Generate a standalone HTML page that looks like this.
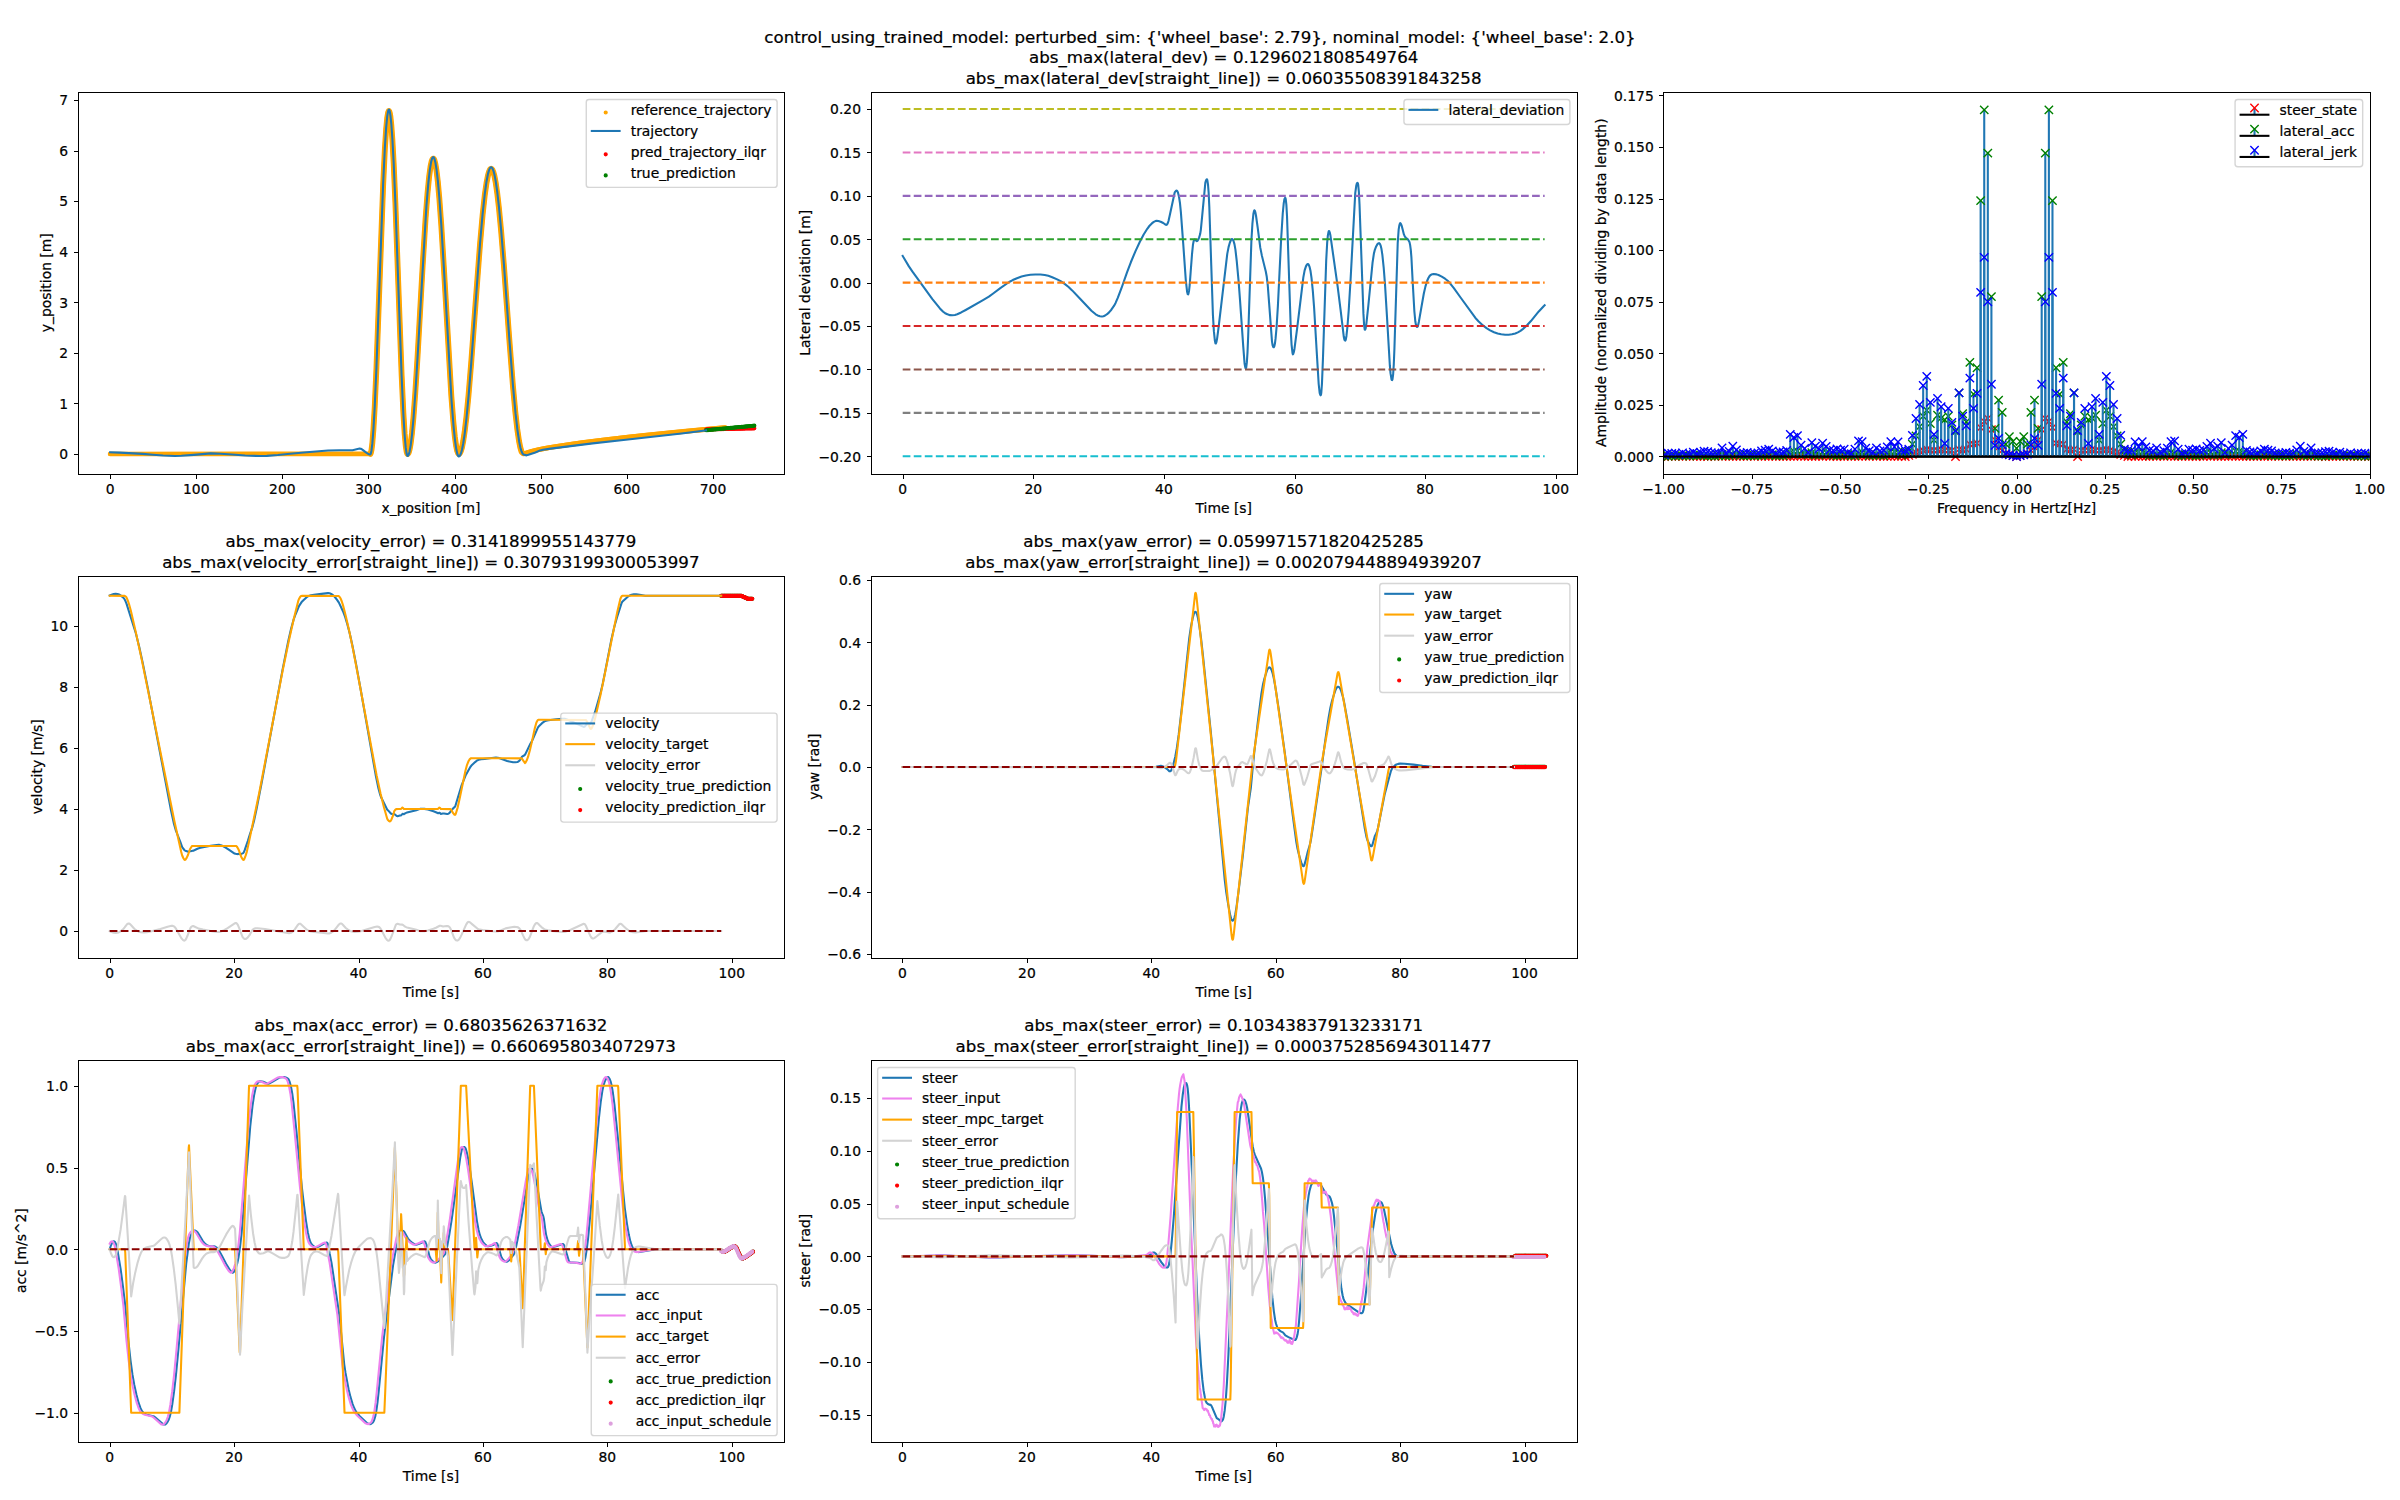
<!DOCTYPE html>
<html lang="en"><head><meta charset="utf-8"><title>control_using_trained_model</title>
<style>html,body{margin:0;padding:0;background:#fff}body{width:2400px;height:1500px;overflow:hidden;font-family:"DejaVu Sans","Liberation Sans",sans-serif}svg{display:block}</style></head>
<body>
<svg width="2400" height="1500" viewBox="0 0 1728 1080">
<defs>
<style>*{stroke-linejoin:round;stroke-linecap:butt}
text{stroke:#000;stroke-width:0.16px;stroke-linejoin:round}
.c0{fill:#ffffff}
.c1{fill:none;stroke:#ffa500;stroke-width:3.4;stroke-linecap:round}
.c2{fill:none;stroke:#ffa500;stroke-width:3.5;stroke-linecap:round}
.c3{fill:none;stroke:#ffa500;stroke-width:4.2;stroke-linecap:round}
.c4{fill:#ffa500;stroke:#ffa500}
.c5{fill:#ff0000;stroke:#ff0000}
.c6{fill:#008000;stroke:#008000}
.c7{stroke:#000000;stroke-width:0.72; shape-rendering: crispEdges}
.c8{font-size:10px;font-family:'DejaVu Sans', sans-serif;text-anchor:middle}
.c9{font-size:10px;font-family:'DejaVu Sans', sans-serif;text-anchor:end}
.c10{fill:none;stroke:#1f77b4;stroke-width:1.5;stroke-linecap:square}
.c11{fill:none;stroke:#000000;stroke-width:0.72;stroke-linejoin:miter;stroke-linecap:square; shape-rendering: crispEdges}
.c12{fill:#ffffff;opacity:0.8;stroke:#cccccc;stroke-linejoin:miter}
.c13{font-size:10px;font-family:'DejaVu Sans', sans-serif;text-anchor:start}
.c14{fill:none;stroke-dasharray:5.55,2.4;stroke-dashoffset:0;stroke:#ff7f0e;stroke-width:1.5}
.c15{fill:none;stroke-dasharray:5.55,2.4;stroke-dashoffset:0;stroke:#2ca02c;stroke-width:1.5}
.c16{fill:none;stroke-dasharray:5.55,2.4;stroke-dashoffset:0;stroke:#d62728;stroke-width:1.5}
.c17{fill:none;stroke-dasharray:5.55,2.4;stroke-dashoffset:0;stroke:#9467bd;stroke-width:1.5}
.c18{fill:none;stroke-dasharray:5.55,2.4;stroke-dashoffset:0;stroke:#8c564b;stroke-width:1.5}
.c19{fill:none;stroke-dasharray:5.55,2.4;stroke-dashoffset:0;stroke:#e377c2;stroke-width:1.5}
.c20{fill:none;stroke-dasharray:5.55,2.4;stroke-dashoffset:0;stroke:#7f7f7f;stroke-width:1.5}
.c21{fill:none;stroke-dasharray:5.55,2.4;stroke-dashoffset:0;stroke:#bcbd22;stroke-width:1.5}
.c22{fill:none;stroke-dasharray:5.55,2.4;stroke-dashoffset:0;stroke:#17becf;stroke-width:1.5}
.c23{font-size:12px;font-family:'DejaVu Sans', sans-serif}
.c24{fill:none;stroke:#1f77b4;stroke-width:1.5}
.c25{fill:none;stroke:#000000;stroke-width:1.5;stroke-linecap:square}
.c26{fill:#0000ff;stroke:#0000ff}
.c27{fill:none;stroke:#ffa500;stroke-width:1.5;stroke-linecap:square}
.c28{fill:none;stroke:#d3d3d3;stroke-width:1.5;stroke-linecap:square}
.c29{fill:none;stroke-dasharray:5.55,2.4;stroke-dashoffset:0;stroke:#8b0000;stroke-width:1.5}
.c30{fill:#dda0dd;stroke:#dda0dd}
.c31{fill:none;stroke:#ee82ee;stroke-width:1.5;stroke-linecap:square}
.c32{font-size:12px;font-family:'DejaVu Sans', sans-serif;text-anchor:middle}</style>
</defs>
<g id="figure_1">
<g id="patch_1">
<path d="M 0 1080 L 1728 1080 L 1728 0 L 0 0 z" class="c0"/>
</g>
<g id="axes_1">
<g id="patch_2">
<path d="M 56.09 341.14 L 564.51 341.14 L 564.51 66 L 56.09 66 z" class="c0"/>
</g>
<g id="line2d_1">
<path d="M 79.28 326.88 L 266.7 326.8 L 267.01 326.16 L 267.48 323.98 L 268.1 318.88 L 268.87 309.13 L 269.8 292.91 L 271.04 264.89 L 272.9 214.13 L 275.85 133.63 L 277.09 107.46 L 278.02 92.98 L 278.8 84.85 L 279.42 81.13 L 279.88 80.02 L 280.04 79.97 L 280.35 80.36 L 280.66 81.39 L 281.12 84.13 L 281.74 89.97 L 282.52 100.59 L 283.45 117.72 L 284.69 146.66 L 286.7 202.53 L 289.18 270.24 L 290.42 297.1 L 291.35 312.23 L 292.13 320.95 L 292.75 325.18 L 293.21 326.68 L 293.52 326.88 L 293.83 326.67 L 294.3 325.8 L 294.92 323.62 L 295.69 319.29 L 296.62 311.83 L 297.71 300.25 L 298.95 283.73 L 300.65 256.59 L 304.37 190.36 L 306.39 157.81 L 307.79 139.36 L 309.03 126.76 L 309.96 120.03 L 310.73 116.33 L 311.35 114.68 L 311.82 114.21 L 312.13 114.27 L 312.44 114.63 L 312.9 115.71 L 313.52 118.18 L 314.3 122.87 L 315.23 130.72 L 316.31 142.71 L 317.71 161.96 L 319.57 192.52 L 324.99 285.52 L 326.39 303.51 L 327.47 314.32 L 328.4 321.05 L 329.18 324.75 L 329.8 326.4 L 330.26 326.87 L 330.73 326.75 L 331.19 326.23 L 331.81 324.9 L 332.59 322.25 L 333.52 317.65 L 334.61 310.43 L 335.85 299.92 L 337.4 283.85 L 339.26 261.19 L 342.36 219.02 L 345.61 175.84 L 347.47 154.83 L 349.02 140.59 L 350.26 131.81 L 351.35 126.25 L 352.12 123.55 L 352.74 122.19 L 353.21 121.63 L 353.67 121.49 L 354.14 121.74 L 354.6 122.4 L 355.22 123.91 L 356 126.78 L 356.93 131.63 L 358.01 139.12 L 359.25 149.91 L 360.8 166.28 L 362.82 191.22 L 366.7 244.27 L 369.33 278.12 L 371.04 296.65 L 372.43 309 L 373.67 317.47 L 374.6 322.12 L 375.38 324.81 L 376 326.18 L 376.46 326.73 L 376.93 326.86 L 381.27 325.41 L 385.76 324.21 L 391.5 322.99 L 400.03 321.51 L 413.2 319.54 L 431.03 317.22 L 452.12 314.78 L 480.64 311.76 L 510.1 308.95 L 522.03 307.96 L 522.03 307.96" clip-path="url(#p736fa068e5)" class="c1"/>
</g>
<g id="line2d_2">
<path d="M 378.32 326.36 L 382.66 325 L 387.93 323.72 L 394.45 322.45 L 404.68 320.78 L 418.94 318.76 L 438.32 316.34 L 465.29 313.34 L 493.66 310.48 L 517.38 308.34 L 522.03 307.96 L 522.03 307.96" clip-path="url(#p736fa068e5)" class="c2"/>
</g>
<g id="line2d_3">
<path d="M 266.7 326.8 L 267.01 326.16 L 267.48 323.98 L 268.1 318.88 L 268.87 309.13 L 269.8 292.91 L 271.04 264.89 L 272.9 214.13 L 275.85 133.63 L 277.09 107.46 L 278.02 92.98 L 278.8 84.85 L 279.42 81.13 L 279.88 80.02 L 280.04 79.97 L 280.35 80.36 L 280.66 81.39 L 281.12 84.13 L 281.74 89.97 L 282.52 100.59 L 283.45 117.72 L 284.69 146.66 L 286.7 202.53 L 289.18 270.24 L 290.42 297.1 L 291.35 312.23 L 292.13 320.95 L 292.75 325.18 L 293.21 326.68 L 293.52 326.88 L 293.83 326.67 L 294.3 325.8 L 294.92 323.62 L 295.69 319.29 L 296.62 311.83 L 297.71 300.25 L 298.95 283.73 L 300.65 256.59 L 304.37 190.36 L 306.39 157.81 L 307.79 139.36 L 309.03 126.76 L 309.96 120.03 L 310.73 116.33 L 311.35 114.68 L 311.82 114.21 L 312.13 114.27 L 312.44 114.63 L 312.9 115.71 L 313.52 118.18 L 314.3 122.87 L 315.23 130.72 L 316.31 142.71 L 317.71 161.96 L 319.57 192.52 L 324.99 285.52 L 326.39 303.51 L 327.47 314.32 L 328.4 321.05 L 329.18 324.75 L 329.8 326.4 L 330.26 326.87 L 330.73 326.75 L 331.19 326.23 L 331.81 324.9 L 332.59 322.25 L 333.52 317.65 L 334.61 310.43 L 335.85 299.92 L 337.4 283.85 L 339.26 261.19 L 342.36 219.02 L 345.61 175.84 L 347.47 154.83 L 349.02 140.59 L 350.26 131.81 L 351.35 126.25 L 352.12 123.55 L 352.74 122.19 L 353.21 121.63 L 353.67 121.49 L 354.14 121.74 L 354.6 122.4 L 355.22 123.91 L 356 126.78 L 356.93 131.63 L 358.01 139.12 L 359.25 149.91 L 360.8 166.28 L 362.82 191.22 L 366.7 244.27 L 369.33 278.12 L 371.04 296.65 L 372.43 309 L 373.67 317.47 L 374.6 322.12 L 375.38 324.81 L 375.53 325.22 L 375.53 325.22" clip-path="url(#p736fa068e5)" class="c3"/>
</g>
<g id="PathCollection_1">
<g clip-path="url(#p736fa068e5)">
<circle cx="79.28" cy="326.88" r="1" class="c4"/>
</g>
</g>
<g id="PathCollection_2">
<g clip-path="url(#p736fa068e5)">
<circle cx="508.39" cy="309.22" r="1" class="c5"/>
<circle cx="509.1" cy="309.2" r="1" class="c5"/>
<circle cx="509.81" cy="309.19" r="1" class="c5"/>
<circle cx="510.52" cy="309.17" r="1" class="c5"/>
<circle cx="511.23" cy="309.15" r="1" class="c5"/>
<circle cx="511.93" cy="309.14" r="1" class="c5"/>
<circle cx="512.64" cy="309.12" r="1" class="c5"/>
<circle cx="513.35" cy="309.1" r="1" class="c5"/>
<circle cx="514.06" cy="309.09" r="1" class="c5"/>
<circle cx="514.77" cy="309.07" r="1" class="c5"/>
<circle cx="515.48" cy="309.05" r="1" class="c5"/>
<circle cx="516.19" cy="309.04" r="1" class="c5"/>
<circle cx="516.89" cy="309.02" r="1" class="c5"/>
<circle cx="517.6" cy="309" r="1" class="c5"/>
<circle cx="518.31" cy="308.99" r="1" class="c5"/>
<circle cx="519.02" cy="308.97" r="1" class="c5"/>
<circle cx="519.73" cy="308.95" r="1" class="c5"/>
<circle cx="520.44" cy="308.94" r="1" class="c5"/>
<circle cx="521.15" cy="308.92" r="1" class="c5"/>
<circle cx="521.86" cy="308.9" r="1" class="c5"/>
<circle cx="522.56" cy="308.89" r="1" class="c5"/>
<circle cx="523.27" cy="308.87" r="1" class="c5"/>
<circle cx="523.98" cy="308.85" r="1" class="c5"/>
<circle cx="524.69" cy="308.84" r="1" class="c5"/>
<circle cx="525.4" cy="308.82" r="1" class="c5"/>
<circle cx="526.11" cy="308.8" r="1" class="c5"/>
<circle cx="526.82" cy="308.79" r="1" class="c5"/>
<circle cx="527.53" cy="308.77" r="1" class="c5"/>
<circle cx="528.23" cy="308.75" r="1" class="c5"/>
<circle cx="528.94" cy="308.74" r="1" class="c5"/>
<circle cx="529.65" cy="308.72" r="1" class="c5"/>
<circle cx="530.36" cy="308.7" r="1" class="c5"/>
<circle cx="531.07" cy="308.69" r="1" class="c5"/>
<circle cx="531.78" cy="308.67" r="1" class="c5"/>
<circle cx="532.49" cy="308.65" r="1" class="c5"/>
<circle cx="533.19" cy="308.64" r="1" class="c5"/>
<circle cx="533.9" cy="308.62" r="1" class="c5"/>
<circle cx="534.61" cy="308.6" r="1" class="c5"/>
<circle cx="535.32" cy="308.59" r="1" class="c5"/>
<circle cx="536.03" cy="308.57" r="1" class="c5"/>
<circle cx="536.74" cy="308.55" r="1" class="c5"/>
<circle cx="537.45" cy="308.54" r="1" class="c5"/>
<circle cx="538.16" cy="308.52" r="1" class="c5"/>
<circle cx="538.86" cy="308.5" r="1" class="c5"/>
<circle cx="539.57" cy="308.49" r="1" class="c5"/>
<circle cx="540.28" cy="308.47" r="1" class="c5"/>
<circle cx="540.99" cy="308.45" r="1" class="c5"/>
<circle cx="541.7" cy="308.44" r="1" class="c5"/>
<circle cx="542.41" cy="308.42" r="1" class="c5"/>
<circle cx="543.12" cy="308.4" r="1" class="c5"/>
</g>
</g>
<g id="PathCollection_3">
<g clip-path="url(#p736fa068e5)">
<circle cx="508.39" cy="309.77" r="1" class="c6"/>
<circle cx="509.1" cy="309.7" r="1" class="c6"/>
<circle cx="509.81" cy="309.63" r="1" class="c6"/>
<circle cx="510.52" cy="309.57" r="1" class="c6"/>
<circle cx="511.23" cy="309.5" r="1" class="c6"/>
<circle cx="511.93" cy="309.43" r="1" class="c6"/>
<circle cx="512.64" cy="309.37" r="1" class="c6"/>
<circle cx="513.35" cy="309.3" r="1" class="c6"/>
<circle cx="514.06" cy="309.23" r="1" class="c6"/>
<circle cx="514.77" cy="309.17" r="1" class="c6"/>
<circle cx="515.48" cy="309.1" r="1" class="c6"/>
<circle cx="516.19" cy="309.03" r="1" class="c6"/>
<circle cx="516.89" cy="308.97" r="1" class="c6"/>
<circle cx="517.6" cy="308.9" r="1" class="c6"/>
<circle cx="518.31" cy="308.83" r="1" class="c6"/>
<circle cx="519.02" cy="308.77" r="1" class="c6"/>
<circle cx="519.73" cy="308.7" r="1" class="c6"/>
<circle cx="520.44" cy="308.63" r="1" class="c6"/>
<circle cx="521.15" cy="308.57" r="1" class="c6"/>
<circle cx="521.86" cy="308.5" r="1" class="c6"/>
<circle cx="522.56" cy="308.43" r="1" class="c6"/>
<circle cx="523.27" cy="308.37" r="1" class="c6"/>
<circle cx="523.98" cy="308.3" r="1" class="c6"/>
<circle cx="524.69" cy="308.23" r="1" class="c6"/>
<circle cx="525.4" cy="308.17" r="1" class="c6"/>
<circle cx="526.11" cy="308.1" r="1" class="c6"/>
<circle cx="526.82" cy="308.03" r="1" class="c6"/>
<circle cx="527.53" cy="307.97" r="1" class="c6"/>
<circle cx="528.23" cy="307.9" r="1" class="c6"/>
<circle cx="528.94" cy="307.83" r="1" class="c6"/>
<circle cx="529.65" cy="307.77" r="1" class="c6"/>
<circle cx="530.36" cy="307.7" r="1" class="c6"/>
<circle cx="531.07" cy="307.63" r="1" class="c6"/>
<circle cx="531.78" cy="307.57" r="1" class="c6"/>
<circle cx="532.49" cy="307.5" r="1" class="c6"/>
<circle cx="533.19" cy="307.43" r="1" class="c6"/>
<circle cx="533.9" cy="307.37" r="1" class="c6"/>
<circle cx="534.61" cy="307.3" r="1" class="c6"/>
<circle cx="535.32" cy="307.23" r="1" class="c6"/>
<circle cx="536.03" cy="307.17" r="1" class="c6"/>
<circle cx="536.74" cy="307.1" r="1" class="c6"/>
<circle cx="537.45" cy="307.04" r="1" class="c6"/>
<circle cx="538.16" cy="306.97" r="1" class="c6"/>
<circle cx="538.86" cy="306.9" r="1" class="c6"/>
<circle cx="539.57" cy="306.84" r="1" class="c6"/>
<circle cx="540.28" cy="306.77" r="1" class="c6"/>
<circle cx="540.99" cy="306.7" r="1" class="c6"/>
<circle cx="541.7" cy="306.64" r="1" class="c6"/>
<circle cx="542.41" cy="306.57" r="1" class="c6"/>
<circle cx="543.12" cy="306.5" r="1" class="c6"/>
</g>
</g>
<g id="matplotlib.axis_1">
<g id="xtick_1">
<g id="line2d_4">
<g>
<path d="M 0 0 L 0 3.5" transform="translate(79.560 341.640)" class="c7"/>
</g>
</g>
<g id="text_1">
<text class="c8" x="79.28" y="355.74">0</text>
</g>
</g>
<g id="xtick_2">
<g id="line2d_5">
<g>
<path d="M 0 0 L 0 3.5" transform="translate(141.480 341.640)" class="c7"/>
</g>
</g>
<g id="text_2">
<text class="c8" x="141.29" y="355.74">100</text>
</g>
</g>
<g id="xtick_3">
<g id="line2d_6">
<g>
<path d="M 0 0 L 0 3.5" transform="translate(203.400 341.640)" class="c7"/>
</g>
</g>
<g id="text_3">
<text class="c8" x="203.3" y="355.74">200</text>
</g>
</g>
<g id="xtick_4">
<g id="line2d_7">
<g>
<path d="M 0 0 L 0 3.5" transform="translate(265.320 341.640)" class="c7"/>
</g>
</g>
<g id="text_4">
<text class="c8" x="265.31" y="355.74">300</text>
</g>
</g>
<g id="xtick_5">
<g id="line2d_8">
<g>
<path d="M 0 0 L 0 3.5" transform="translate(327.960 341.640)" class="c7"/>
</g>
</g>
<g id="text_5">
<text class="c8" x="327.32" y="355.74">400</text>
</g>
</g>
<g id="xtick_6">
<g id="line2d_9">
<g>
<path d="M 0 0 L 0 3.5" transform="translate(389.880 341.640)" class="c7"/>
</g>
</g>
<g id="text_6">
<text class="c8" x="389.33" y="355.74">500</text>
</g>
</g>
<g id="xtick_7">
<g id="line2d_10">
<g>
<path d="M 0 0 L 0 3.5" transform="translate(451.800 341.640)" class="c7"/>
</g>
</g>
<g id="text_7">
<text class="c8" x="451.34" y="355.74">600</text>
</g>
</g>
<g id="xtick_8">
<g id="line2d_11">
<g>
<path d="M 0 0 L 0 3.5" transform="translate(513.720 341.640)" class="c7"/>
</g>
</g>
<g id="text_8">
<text class="c8" x="513.35" y="355.74">700</text>
</g>
</g>
<g id="text_9">
<text class="c8" x="310.3" y="369.42">x_position [m]</text>
</g>
</g>
<g id="matplotlib.axis_2">
<g id="ytick_1">
<g id="line2d_12">
<g>
<path d="M 0 0 L -3.5 0" transform="translate(56.520 327.240)" class="c7"/>
</g>
</g>
<g id="text_10">
<text class="c9" x="49.09" y="330.68">0</text>
</g>
</g>
<g id="ytick_2">
<g id="line2d_13">
<g>
<path d="M 0 0 L -3.5 0" transform="translate(56.520 290.520)" class="c7"/>
</g>
</g>
<g id="text_11">
<text class="c9" x="49.09" y="294.26">1</text>
</g>
</g>
<g id="ytick_3">
<g id="line2d_14">
<g>
<path d="M 0 0 L -3.5 0" transform="translate(56.520 254.520)" class="c7"/>
</g>
</g>
<g id="text_12">
<text class="c9" x="49.09" y="257.84">2</text>
</g>
</g>
<g id="ytick_4">
<g id="line2d_15">
<g>
<path d="M 0 0 L -3.5 0" transform="translate(56.520 217.800)" class="c7"/>
</g>
</g>
<g id="text_13">
<text class="c9" x="49.09" y="221.43">3</text>
</g>
</g>
<g id="ytick_5">
<g id="line2d_16">
<g>
<path d="M 0 0 L -3.5 0" transform="translate(56.520 181.800)" class="c7"/>
</g>
</g>
<g id="text_14">
<text class="c9" x="49.09" y="185.01">4</text>
</g>
</g>
<g id="ytick_6">
<g id="line2d_17">
<g>
<path d="M 0 0 L -3.5 0" transform="translate(56.520 145.080)" class="c7"/>
</g>
</g>
<g id="text_15">
<text class="c9" x="49.09" y="148.59">5</text>
</g>
</g>
<g id="ytick_7">
<g id="line2d_18">
<g>
<path d="M 0 0 L -3.5 0" transform="translate(56.520 109.080)" class="c7"/>
</g>
</g>
<g id="text_16">
<text class="c9" x="49.09" y="112.17">6</text>
</g>
</g>
<g id="ytick_8">
<g id="line2d_19">
<g>
<path d="M 0 0 L -3.5 0" transform="translate(56.520 72.360)" class="c7"/>
</g>
</g>
<g id="text_17">
<text class="c9" x="49.09" y="75.75">7</text>
</g>
</g>
<g id="text_18">
<text class="c8" x="36.37" y="203.57" transform="rotate(-90 36.37 203.57)">y_position [m]</text>
</g>
</g>
<g id="line2d_20">
<path d="M 79.28 325.61 L 86.25 325.89 L 102.68 326.78 L 110.13 327.43 L 117.41 328.02 L 125.94 328.34 L 130.59 328.18 L 139.58 327.5 L 151.67 326.45 L 158.65 326.66 L 167.02 327.2 L 176.48 328.02 L 187.17 328.34 L 192.14 328.21 L 200.04 327.63 L 207.17 326.93 L 218.65 325.79 L 236.16 324.38 L 244.22 324.17 L 250.89 324.23 L 253.84 324.15 L 256.01 323.62 L 258.95 322.94 L 259.73 323.08 L 260.66 323.59 L 263.45 325.73 L 265.15 326.89 L 266.08 327.19 L 266.7 327.16 L 267.01 326.51 L 267.48 324.3 L 268.1 319.1 L 268.87 309.19 L 269.8 292.8 L 271.04 264.6 L 272.9 213.56 L 275.85 132.7 L 277.09 106.43 L 278.02 91.91 L 278.8 83.77 L 279.42 80.05 L 279.88 78.96 L 280.04 78.92 L 280.35 79.33 L 280.66 80.4 L 281.12 83.2 L 281.74 89.13 L 282.52 99.88 L 283.45 117.21 L 284.69 146.45 L 286.7 202.86 L 289.18 271.18 L 290.42 298.28 L 291.35 313.55 L 292.13 322.35 L 292.75 326.61 L 293.21 328.12 L 293.52 328.32 L 293.83 328.11 L 294.3 327.23 L 294.92 325.02 L 295.69 320.63 L 296.62 313.07 L 297.71 301.34 L 299.1 282.31 L 300.81 254.48 L 307.01 148.45 L 308.41 131.72 L 309.49 122.12 L 310.42 116.55 L 311.04 114.29 L 311.51 113.37 L 311.82 113.13 L 312.13 113.19 L 312.44 113.55 L 312.9 114.65 L 313.52 117.16 L 314.3 121.91 L 315.23 129.88 L 316.31 142.04 L 317.71 161.54 L 319.57 192.51 L 325.15 288.95 L 326.54 306.71 L 327.63 317.24 L 328.56 323.66 L 329.33 327.05 L 329.95 328.44 L 330.26 328.68 L 330.73 328.57 L 331.19 328.03 L 331.81 326.69 L 332.59 323.99 L 333.52 319.32 L 334.61 311.99 L 335.85 301.32 L 337.4 285.01 L 339.26 262.01 L 342.36 219.25 L 345.61 175.47 L 347.47 154.16 L 349.02 139.73 L 350.26 130.83 L 351.35 125.19 L 352.12 122.47 L 352.74 121.1 L 353.21 120.54 L 353.67 120.39 L 354.14 120.65 L 354.6 121.31 L 355.22 122.82 L 356 125.7 L 356.93 130.55 L 358.01 138.06 L 359.25 148.87 L 360.8 165.27 L 362.82 190.27 L 366.7 243.48 L 369.33 277.49 L 371.19 297.66 L 372.59 309.82 L 373.83 318.08 L 374.76 322.57 L 375.53 325.13 L 376.31 326.65 L 376.93 327.24 L 379.1 327.87 L 380.49 327.46 L 385.45 325.78 L 388.86 324.29 L 391.03 323.83 L 396.46 323.01 L 426.69 319.22 L 447.31 316.95 L 490.72 312.07 L 508.39 309.84 L 508.39 309.84" clip-path="url(#p736fa068e5)" class="c10"/>
</g>
<g id="patch_3">
<path d="M 56.520 341.640 L 56.520 66.600" class="c11"/>
</g>
<g id="patch_4">
<path d="M 564.840 341.640 L 564.840 66.600" class="c11"/>
</g>
<g id="patch_5">
<path d="M 56.520 341.640 L 564.840 341.640" class="c11"/>
</g>
<g id="patch_6">
<path d="M 56.520 66.600 L 564.840 66.600" class="c11"/>
</g>
<g id="legend_1">
<g id="patch_7">
<path d="M 424.11 134.94 L 557.51 134.94 Q 559.51 134.94 559.51 132.94 L 559.51 73.65 Q 559.51 71.65 557.51 71.65 L 424.11 71.65 Q 422.11 71.65 422.11 73.65 L 422.11 132.94 Q 422.11 134.94 424.11 134.94 z" class="c12"/>
</g>
<g id="PathCollection_4">
<g>
<circle cx="436.11" cy="80.97" r="1" class="c4"/>
</g>
</g>
<g id="text_19">
<text class="c13" x="454.11" y="82.6">reference_trajectory</text>
</g>
<g id="line2d_21">
<path d="M 426.11 94.3 L 436.11 94.3 L 446.11 94.3" class="c10"/>
</g>
<g id="text_20">
<text class="c13" x="454.11" y="97.8">trajectory</text>
</g>
<g id="PathCollection_5">
<g>
<circle cx="436.11" cy="111.11" r="1" class="c5"/>
</g>
</g>
<g id="text_21">
<text class="c13" x="454.11" y="112.73">pred_trajectory_ilqr</text>
</g>
<g id="PathCollection_6">
<g>
<circle cx="436.11" cy="126.31" r="1" class="c6"/>
</g>
</g>
<g id="text_22">
<text class="c13" x="454.11" y="127.94">true_prediction</text>
</g>
</g>
</g>
<g id="axes_2">
<g id="patch_8">
<path d="M 626.9 341.14 L 1135.32 341.14 L 1135.32 66 L 626.9 66 z" class="c0"/>
</g>
<g id="matplotlib.axis_3">
<g id="xtick_9">
<g id="line2d_22">
<g>
<path d="M 0 0 L 0 3.5" transform="translate(650.520 341.640)" class="c7"/>
</g>
</g>
<g id="text_23">
<text class="c8" x="649.94" y="355.74">0</text>
</g>
</g>
<g id="xtick_10">
<g id="line2d_23">
<g>
<path d="M 0 0 L 0 3.5" transform="translate(744.120 341.640)" class="c7"/>
</g>
</g>
<g id="text_24">
<text class="c8" x="743.98" y="355.74">20</text>
</g>
</g>
<g id="xtick_11">
<g id="line2d_24">
<g>
<path d="M 0 0 L 0 3.5" transform="translate(838.440 341.640)" class="c7"/>
</g>
</g>
<g id="text_25">
<text class="c8" x="838.02" y="355.74">40</text>
</g>
</g>
<g id="xtick_12">
<g id="line2d_25">
<g>
<path d="M 0 0 L 0 3.5" transform="translate(932.760 341.640)" class="c7"/>
</g>
</g>
<g id="text_26">
<text class="c8" x="932.06" y="355.74">60</text>
</g>
</g>
<g id="xtick_13">
<g id="line2d_26">
<g>
<path d="M 0 0 L 0 3.5" transform="translate(1026.360 341.640)" class="c7"/>
</g>
</g>
<g id="text_27">
<text class="c8" x="1026.09" y="355.74">80</text>
</g>
</g>
<g id="xtick_14">
<g id="line2d_27">
<g>
<path d="M 0 0 L 0 3.5" transform="translate(1120.680 341.640)" class="c7"/>
</g>
</g>
<g id="text_28">
<text class="c8" x="1120.13" y="355.74">100</text>
</g>
</g>
<g id="text_29">
<text class="c8" x="881.11" y="369.42">Time [s]</text>
</g>
</g>
<g id="matplotlib.axis_4">
<g id="ytick_9">
<g id="line2d_28">
<g>
<path d="M 0 0 L -3.5 0" transform="translate(627.480 328.680)" class="c7"/>
</g>
</g>
<g id="text_30">
<text class="c9" x="619.9" y="332.31">−0.20</text>
</g>
</g>
<g id="ytick_10">
<g id="line2d_29">
<g>
<path d="M 0 0 L -3.5 0" transform="translate(627.480 297.720)" class="c7"/>
</g>
</g>
<g id="text_31">
<text class="c9" x="619.9" y="301.06">−0.15</text>
</g>
</g>
<g id="ytick_11">
<g id="line2d_30">
<g>
<path d="M 0 0 L -3.5 0" transform="translate(627.480 266.040)" class="c7"/>
</g>
</g>
<g id="text_32">
<text class="c9" x="619.9" y="269.81">−0.10</text>
</g>
</g>
<g id="ytick_12">
<g id="line2d_31">
<g>
<path d="M 0 0 L -3.5 0" transform="translate(627.480 235.080)" class="c7"/>
</g>
</g>
<g id="text_33">
<text class="c9" x="619.9" y="238.56">−0.05</text>
</g>
</g>
<g id="ytick_13">
<g id="line2d_32">
<g>
<path d="M 0 0 L -3.5 0" transform="translate(627.480 204.120)" class="c7"/>
</g>
</g>
<g id="text_34">
<text class="c9" x="619.9" y="207.31">0.00</text>
</g>
</g>
<g id="ytick_14">
<g id="line2d_33">
<g>
<path d="M 0 0 L -3.5 0" transform="translate(627.480 172.440)" class="c7"/>
</g>
</g>
<g id="text_35">
<text class="c9" x="619.9" y="176.05">0.05</text>
</g>
</g>
<g id="ytick_15">
<g id="line2d_34">
<g>
<path d="M 0 0 L -3.5 0" transform="translate(627.480 141.480)" class="c7"/>
</g>
</g>
<g id="text_36">
<text class="c9" x="619.9" y="144.8">0.10</text>
</g>
</g>
<g id="ytick_16">
<g id="line2d_35">
<g>
<path d="M 0 0 L -3.5 0" transform="translate(627.480 109.800)" class="c7"/>
</g>
</g>
<g id="text_37">
<text class="c9" x="619.9" y="113.55">0.15</text>
</g>
</g>
<g id="ytick_17">
<g id="line2d_36">
<g>
<path d="M 0 0 L -3.5 0" transform="translate(627.480 78.840)" class="c7"/>
</g>
</g>
<g id="text_38">
<text class="c9" x="619.9" y="82.3">0.20</text>
</g>
</g>
<g id="text_39">
<text class="c8" x="583.17" y="203.57" transform="rotate(-90 583.17 203.57)">Lateral deviation [m]</text>
</g>
</g>
<g id="line2d_37">
<path d="M 649.94 184.31 L 654.41 191.81 L 656.99 195.57 L 671.33 215.4 L 676.74 222.05 L 679.09 224.47 L 680.5 225.51 L 682.15 226.3 L 684.03 226.9 L 685.44 227.02 L 687.55 226.75 L 689.2 226.26 L 692.02 224.96 L 695.31 223.18 L 707.77 216.1 L 712 213.6 L 714.83 211.5 L 720.47 207.23 L 726.58 203.05 L 729.17 201.63 L 732.22 200.29 L 735.51 199.14 L 738.57 198.38 L 741.86 197.88 L 745.39 197.65 L 749.15 197.7 L 752.21 198.03 L 754.79 198.6 L 757.61 199.57 L 761.14 201.12 L 763.96 202.65 L 766.78 204.55 L 769.37 206.62 L 771.95 209.08 L 777.83 215.24 L 785.83 223.73 L 788.88 226.3 L 790.29 227.13 L 791.94 227.73 L 793.35 227.91 L 794.52 227.69 L 795.7 227.16 L 797.11 226.22 L 798.52 224.92 L 800.17 222.99 L 802.05 220.29 L 803.22 218.13 L 804.87 214.3 L 807.45 207.53 L 811.45 196.09 L 814.27 188.65 L 817.56 180.78 L 820.62 174.25 L 823.44 168.89 L 826.03 164.71 L 827.67 162.54 L 829.32 160.86 L 830.73 159.76 L 831.9 159.18 L 832.84 159 L 834.02 159.12 L 835.67 159.66 L 837.55 160.55 L 839.43 161.86 L 839.9 161.88 L 840.37 161.48 L 840.84 160.58 L 841.31 159.14 L 842.48 153.91 L 845.77 138.65 L 846.25 137.85 L 846.95 137.27 L 847.19 137.21 L 847.66 137.59 L 848.13 138.63 L 848.83 141.4 L 849.54 145.96 L 850.24 152.96 L 851.89 175.03 L 853.77 201.66 L 854.71 210.04 L 855.18 211.81 L 855.41 211.93 L 855.65 211.55 L 856.12 209.33 L 856.59 205.19 L 857.29 195.65 L 858.24 183.13 L 858.94 176.14 L 859.41 173.71 L 859.88 172.65 L 860.35 172.44 L 860.82 172.79 L 861.53 173.57 L 861.76 173.65 L 862.23 173.36 L 862.7 172.65 L 863.41 170.93 L 864.11 168.52 L 864.58 165.68 L 865.52 156.04 L 867.87 131.38 L 868.34 129.82 L 868.81 129.11 L 869.05 129.15 L 869.28 129.71 L 869.75 132.69 L 870.23 138.77 L 870.7 148.76 L 872.11 191.15 L 873.28 226.32 L 873.99 238.41 L 874.69 245.13 L 875.16 247.33 L 875.4 247.32 L 875.87 246.19 L 876.34 243.6 L 877.51 234.7 L 883.63 182.76 L 884.57 177.94 L 885.51 174.59 L 886.21 172.96 L 886.68 172.29 L 887.15 172.07 L 887.62 172.44 L 888.09 173.38 L 888.8 175.75 L 889.5 179.71 L 890.44 187.84 L 891.85 203.18 L 892.79 215.71 L 895.15 249.58 L 896.09 261.69 L 896.56 264.29 L 896.79 265.19 L 897.03 265.3 L 897.26 264.68 L 897.73 260.94 L 898.2 253.73 L 898.67 242.47 L 901.02 172.91 L 901.73 161.26 L 902.43 154.12 L 902.9 151.83 L 903.14 151.39 L 903.37 151.57 L 903.84 152.73 L 904.31 155.15 L 905.49 163.46 L 907.37 178.14 L 908.55 184.05 L 909.96 189.81 L 911.37 195.52 L 912.07 199.3 L 912.78 205.24 L 913.72 217.67 L 915.83 245.79 L 916.3 248.74 L 916.77 249.94 L 917.01 250.06 L 917.24 249.89 L 917.48 249.41 L 917.95 247.35 L 918.42 243.68 L 919.13 235.6 L 920.07 220.49 L 921.24 196.5 L 922.42 172.08 L 923.59 153.54 L 924.3 146.2 L 924.77 143.45 L 925.24 142.45 L 925.47 142.5 L 925.71 143.26 L 926.18 147.36 L 926.65 155.63 L 927.59 183.69 L 929.47 240.31 L 929.94 248.25 L 930.64 254.38 L 930.88 255.14 L 931.12 254.88 L 931.59 253.44 L 932.06 250.9 L 933.94 236.44 L 938.4 199.7 L 939.34 194.64 L 940.28 191.79 L 940.99 190.51 L 941.46 190.13 L 941.93 190.14 L 942.4 190.82 L 942.87 192.11 L 943.58 195.19 L 944.28 200.13 L 945.22 209.35 L 946.16 221.61 L 948.04 253.23 L 949.45 276.48 L 950.16 282.84 L 950.63 284.36 L 950.86 284.63 L 951.1 284.2 L 951.33 282.81 L 951.8 276.41 L 952.51 258.66 L 954.86 187.64 L 955.57 174.65 L 956.04 169.71 L 956.51 167.16 L 956.74 166.44 L 956.98 166.3 L 957.45 167.47 L 957.92 169.6 L 963.09 206.21 L 965.2 223.01 L 967.56 242.65 L 968.03 244.73 L 968.5 245.26 L 968.73 245.08 L 968.97 244.45 L 969.44 241.88 L 970.14 235.41 L 971.08 223.38 L 972.49 199.94 L 975.78 139.03 L 976.49 133.77 L 976.96 132.03 L 977.43 131.65 L 977.66 132 L 977.9 133.02 L 978.37 137.91 L 978.84 146.86 L 980.02 179.62 L 981.66 225.63 L 982.13 233.67 L 982.6 237.29 L 982.84 237.4 L 983.07 237.05 L 983.31 236.3 L 983.78 233.17 L 985.19 220.14 L 988.24 189.11 L 989.18 182.73 L 989.89 179.84 L 990.83 177.42 L 991.77 175.78 L 992.48 175.18 L 992.95 175.07 L 993.18 175.16 L 993.65 175.81 L 994.12 177.02 L 994.59 178.88 L 995.3 183.56 L 996.24 192.44 L 997.18 204.4 L 998.59 227.41 L 1000.7 263.3 L 1001.17 268.66 L 1001.88 273.06 L 1002.11 273.58 L 1002.35 273.68 L 1002.58 273.16 L 1003.05 269.68 L 1003.52 262.49 L 1004 250.56 L 1006.35 175.14 L 1007.05 165.15 L 1007.52 162.26 L 1007.99 160.79 L 1008.23 160.61 L 1008.7 161.29 L 1009.17 162.39 L 1009.87 165.1 L 1010.81 168.77 L 1011.52 170.33 L 1012.22 171.17 L 1013.87 172.56 L 1014.81 174.21 L 1015.28 176.32 L 1015.75 179.7 L 1016.22 185.36 L 1017.16 203.41 L 1018.34 224.09 L 1019.04 231.52 L 1019.51 233.97 L 1019.98 235.25 L 1020.22 235.43 L 1020.69 235.17 L 1020.92 234.72 L 1021.63 231.43 L 1023.27 222.08 L 1025.15 211.29 L 1026.33 206.19 L 1027.5 202.34 L 1028.45 200.18 L 1029.39 198.62 L 1030.09 197.99 L 1031.27 197.41 L 1032.21 197.26 L 1034.32 197.56 L 1035.73 198.04 L 1038.08 199.17 L 1040.43 200.66 L 1042.32 202.16 L 1043.73 203.64 L 1046.78 207.5 L 1051.48 214.02 L 1062.3 228.94 L 1064.65 231.47 L 1067.71 234.31 L 1070.29 236.3 L 1072.88 237.89 L 1075.7 239.25 L 1078.29 240.15 L 1080.87 240.72 L 1083.69 241.02 L 1086.28 241.02 L 1088.63 240.7 L 1090.98 240.07 L 1092.86 239.29 L 1094.74 238.2 L 1096.62 236.78 L 1099.44 234.2 L 1102.27 231.17 L 1104.85 227.95 L 1107.91 224.22 L 1111.43 220.5 L 1112.14 219.82 L 1112.14 219.82" clip-path="url(#p2c6ad5312e)" class="c10"/>
</g>
<g id="line2d_38">
<path d="M 649.94 203.51 L 1112.14 203.51 L 1112.14 203.51" clip-path="url(#p2c6ad5312e)" class="c14"/>
</g>
<g id="line2d_39">
<path d="M 649.94 172.25 L 1112.14 172.25 L 1112.14 172.25" clip-path="url(#p2c6ad5312e)" class="c15"/>
</g>
<g id="line2d_40">
<path d="M 649.94 234.76 L 1112.14 234.76 L 1112.14 234.76" clip-path="url(#p2c6ad5312e)" class="c16"/>
</g>
<g id="line2d_41">
<path d="M 649.94 141 L 1112.14 141 L 1112.14 141" clip-path="url(#p2c6ad5312e)" class="c17"/>
</g>
<g id="line2d_42">
<path d="M 649.94 266.01 L 1112.14 266.01 L 1112.14 266.01" clip-path="url(#p2c6ad5312e)" class="c18"/>
</g>
<g id="line2d_43">
<path d="M 649.94 109.75 L 1112.14 109.75 L 1112.14 109.75" clip-path="url(#p2c6ad5312e)" class="c19"/>
</g>
<g id="line2d_44">
<path d="M 649.94 297.26 L 1112.14 297.26 L 1112.14 297.26" clip-path="url(#p2c6ad5312e)" class="c20"/>
</g>
<g id="line2d_45">
<path d="M 649.94 78.5 L 1112.14 78.5 L 1112.14 78.5" clip-path="url(#p2c6ad5312e)" class="c21"/>
</g>
<g id="line2d_46">
<path d="M 649.94 328.51 L 1112.14 328.51 L 1112.14 328.51" clip-path="url(#p2c6ad5312e)" class="c22"/>
</g>
<g id="patch_9">
<path d="M 627.480 341.640 L 627.480 66.600" class="c11"/>
</g>
<g id="patch_10">
<path d="M 1135.800 341.640 L 1135.800 66.600" class="c11"/>
</g>
<g id="patch_11">
<path d="M 627.480 341.640 L 1135.800 341.640" class="c11"/>
</g>
<g id="patch_12">
<path d="M 627.480 66.600 L 1135.800 66.600" class="c11"/>
</g>
<g id="text_40">
<text class="c23" transform="translate(740.85 45.13)">abs_max(lateral_dev) = 0.1296021808549764</text>
<text class="c23" transform="translate(695.27 60.65)">abs_max(lateral_dev[straight_line]) = 0.06035508391843258</text>
</g>
<g id="legend_2">
<g id="patch_13">
<path d="M 1012.84 89.61 L 1128.32 89.61 Q 1130.32 89.61 1130.32 87.61 L 1130.32 73.65 Q 1130.32 71.65 1128.32 71.65 L 1012.84 71.65 Q 1010.84 71.65 1010.84 73.65 L 1010.84 87.61 Q 1010.84 89.61 1012.84 89.61 z" class="c12"/>
</g>
<g id="line2d_47">
<path d="M 1014.84 79.1 L 1024.84 79.1 L 1034.84 79.1" class="c10"/>
</g>
<g id="text_41">
<text class="c13" x="1042.84" y="82.6">lateral_deviation</text>
</g>
</g>
</g>
<g id="axes_3">
<g id="patch_14">
<path d="M 1197.71 341.14 L 1706.13 341.14 L 1706.13 66 L 1197.71 66 z" class="c0"/>
</g>
<g id="matplotlib.axis_5">
<g id="xtick_15">
<g id="line2d_48">
<g>
<path d="M 0 0 L 0 3.5" transform="translate(1197.720 341.640)" class="c7"/>
</g>
</g>
<g id="text_42">
<text class="c8" x="1197.71" y="355.74">−1.00</text>
</g>
</g>
<g id="xtick_16">
<g id="line2d_49">
<g>
<path d="M 0 0 L 0 3.5" transform="translate(1261.800 341.640)" class="c7"/>
</g>
</g>
<g id="text_43">
<text class="c8" x="1261.26" y="355.74">−0.75</text>
</g>
</g>
<g id="xtick_17">
<g id="line2d_50">
<g>
<path d="M 0 0 L 0 3.5" transform="translate(1325.160 341.640)" class="c7"/>
</g>
</g>
<g id="text_44">
<text class="c8" x="1324.82" y="355.74">−0.50</text>
</g>
</g>
<g id="xtick_18">
<g id="line2d_51">
<g>
<path d="M 0 0 L 0 3.5" transform="translate(1388.520 341.640)" class="c7"/>
</g>
</g>
<g id="text_45">
<text class="c8" x="1388.37" y="355.74">−0.25</text>
</g>
</g>
<g id="xtick_19">
<g id="line2d_52">
<g>
<path d="M 0 0 L 0 3.5" transform="translate(1452.600 341.640)" class="c7"/>
</g>
</g>
<g id="text_46">
<text class="c8" x="1451.92" y="355.74">0.00</text>
</g>
</g>
<g id="xtick_20">
<g id="line2d_53">
<g>
<path d="M 0 0 L 0 3.5" transform="translate(1515.960 341.640)" class="c7"/>
</g>
</g>
<g id="text_47">
<text class="c8" x="1515.47" y="355.74">0.25</text>
</g>
</g>
<g id="xtick_21">
<g id="line2d_54">
<g>
<path d="M 0 0 L 0 3.5" transform="translate(1579.320 341.640)" class="c7"/>
</g>
</g>
<g id="text_48">
<text class="c8" x="1579.03" y="355.74">0.50</text>
</g>
</g>
<g id="xtick_22">
<g id="line2d_55">
<g>
<path d="M 0 0 L 0 3.5" transform="translate(1642.680 341.640)" class="c7"/>
</g>
</g>
<g id="text_49">
<text class="c8" x="1642.58" y="355.74">0.75</text>
</g>
</g>
<g id="xtick_23">
<g id="line2d_56">
<g>
<path d="M 0 0 L 0 3.5" transform="translate(1706.760 341.640)" class="c7"/>
</g>
</g>
<g id="text_50">
<text class="c8" x="1706.13" y="355.74">1.00</text>
</g>
</g>
<g id="text_51">
<text class="c8" x="1451.92" y="369.42">Frequency in Hertz[Hz]</text>
</g>
</g>
<g id="matplotlib.axis_6">
<g id="ytick_18">
<g id="line2d_57">
<g>
<path d="M 0 0 L -3.5 0" transform="translate(1197.720 328.680)" class="c7"/>
</g>
</g>
<g id="text_52">
<text class="c9" x="1190.71" y="332.47">0.000</text>
</g>
</g>
<g id="ytick_19">
<g id="line2d_58">
<g>
<path d="M 0 0 L -3.5 0" transform="translate(1197.720 291.960)" class="c7"/>
</g>
</g>
<g id="text_53">
<text class="c9" x="1190.71" y="295.33">0.025</text>
</g>
</g>
<g id="ytick_20">
<g id="line2d_59">
<g>
<path d="M 0 0 L -3.5 0" transform="translate(1197.720 254.520)" class="c7"/>
</g>
</g>
<g id="text_54">
<text class="c9" x="1190.71" y="258.19">0.050</text>
</g>
</g>
<g id="ytick_21">
<g id="line2d_60">
<g>
<path d="M 0 0 L -3.5 0" transform="translate(1197.720 217.800)" class="c7"/>
</g>
</g>
<g id="text_55">
<text class="c9" x="1190.71" y="221.04">0.075</text>
</g>
</g>
<g id="ytick_22">
<g id="line2d_61">
<g>
<path d="M 0 0 L -3.5 0" transform="translate(1197.720 180.360)" class="c7"/>
</g>
</g>
<g id="text_56">
<text class="c9" x="1190.71" y="183.9">0.100</text>
</g>
</g>
<g id="ytick_23">
<g id="line2d_62">
<g>
<path d="M 0 0 L -3.5 0" transform="translate(1197.720 143.640)" class="c7"/>
</g>
</g>
<g id="text_57">
<text class="c9" x="1190.71" y="146.76">0.125</text>
</g>
</g>
<g id="ytick_24">
<g id="line2d_63">
<g>
<path d="M 0 0 L -3.5 0" transform="translate(1197.720 106.200)" class="c7"/>
</g>
</g>
<g id="text_58">
<text class="c9" x="1190.71" y="109.62">0.150</text>
</g>
</g>
<g id="ytick_25">
<g id="line2d_64">
<g>
<path d="M 0 0 L -3.5 0" transform="translate(1197.720 68.760)" class="c7"/>
</g>
</g>
<g id="text_59">
<text class="c9" x="1190.71" y="72.47">0.175</text>
</g>
</g>
<g id="text_60">
<text class="c8" x="1156" y="203.57" transform="rotate(-90 1156 203.57)">Amplitude (normalized dividing by data length)</text>
</g>
</g>
<g id="LineCollection_1">
<path d="M 1167.453062 328.674763 L 1167.453062 328.412382" clip-path="url(#p35f3541ee9)" class="c24"/>
<path d="M 1170.039125 328.674763 L 1170.039125 328.667679" clip-path="url(#p35f3541ee9)" class="c24"/>
<path d="M 1172.625188 328.674763 L 1172.625188 328.551357" clip-path="url(#p35f3541ee9)" class="c24"/>
<path d="M 1175.211251 328.674763 L 1175.211251 328.47622" clip-path="url(#p35f3541ee9)" class="c24"/>
<path d="M 1177.797314 328.674763 L 1177.797314 328.528106" clip-path="url(#p35f3541ee9)" class="c24"/>
<path d="M 1180.383377 328.674763 L 1180.383377 328.60831" clip-path="url(#p35f3541ee9)" class="c24"/>
<path d="M 1182.96944 328.674763 L 1182.96944 328.489494" clip-path="url(#p35f3541ee9)" class="c24"/>
<path d="M 1185.555504 328.674763 L 1185.555504 328.40649" clip-path="url(#p35f3541ee9)" class="c24"/>
<path d="M 1188.141567 328.674763 L 1188.141567 328.439043" clip-path="url(#p35f3541ee9)" class="c24"/>
<path d="M 1190.72763 328.674763 L 1190.72763 328.570177" clip-path="url(#p35f3541ee9)" class="c24"/>
<path d="M 1193.313693 328.674763 L 1193.313693 328.406546" clip-path="url(#p35f3541ee9)" class="c24"/>
<path d="M 1195.899756 328.674763 L 1195.899756 328.505894" clip-path="url(#p35f3541ee9)" class="c24"/>
<path d="M 1198.485819 328.674763 L 1198.485819 328.655316" clip-path="url(#p35f3541ee9)" class="c24"/>
<path d="M 1201.071882 328.674763 L 1201.071882 328.586004" clip-path="url(#p35f3541ee9)" class="c24"/>
<path d="M 1203.657945 328.674763 L 1203.657945 328.45135" clip-path="url(#p35f3541ee9)" class="c24"/>
<path d="M 1206.244008 328.674763 L 1206.244008 328.58589" clip-path="url(#p35f3541ee9)" class="c24"/>
<path d="M 1208.830071 328.674763 L 1208.830071 328.588283" clip-path="url(#p35f3541ee9)" class="c24"/>
<path d="M 1211.416134 328.674763 L 1211.416134 328.618091" clip-path="url(#p35f3541ee9)" class="c24"/>
<path d="M 1214.002197 328.674763 L 1214.002197 328.464935" clip-path="url(#p35f3541ee9)" class="c24"/>
<path d="M 1216.58826 328.674763 L 1216.58826 328.42764" clip-path="url(#p35f3541ee9)" class="c24"/>
<path d="M 1219.174323 328.674763 L 1219.174323 328.567619" clip-path="url(#p35f3541ee9)" class="c24"/>
<path d="M 1221.760387 328.674763 L 1221.760387 328.581892" clip-path="url(#p35f3541ee9)" class="c24"/>
<path d="M 1224.34645 328.674763 L 1224.34645 328.56903" clip-path="url(#p35f3541ee9)" class="c24"/>
<path d="M 1226.932513 328.674763 L 1226.932513 328.539801" clip-path="url(#p35f3541ee9)" class="c24"/>
<path d="M 1229.518576 328.674763 L 1229.518576 328.658683" clip-path="url(#p35f3541ee9)" class="c24"/>
<path d="M 1232.104639 328.674763 L 1232.104639 328.423231" clip-path="url(#p35f3541ee9)" class="c24"/>
<path d="M 1234.690702 328.674763 L 1234.690702 328.605563" clip-path="url(#p35f3541ee9)" class="c24"/>
<path d="M 1237.276765 328.674763 L 1237.276765 328.455973" clip-path="url(#p35f3541ee9)" class="c24"/>
<path d="M 1239.862828 328.674763 L 1239.862828 328.568448" clip-path="url(#p35f3541ee9)" class="c24"/>
<path d="M 1242.448891 328.674763 L 1242.448891 328.398536" clip-path="url(#p35f3541ee9)" class="c24"/>
<path d="M 1245.034954 328.674763 L 1245.034954 328.524564" clip-path="url(#p35f3541ee9)" class="c24"/>
<path d="M 1247.621017 328.674763 L 1247.621017 328.607003" clip-path="url(#p35f3541ee9)" class="c24"/>
<path d="M 1250.20708 328.674763 L 1250.20708 328.497817" clip-path="url(#p35f3541ee9)" class="c24"/>
<path d="M 1252.793143 328.674763 L 1252.793143 328.60394" clip-path="url(#p35f3541ee9)" class="c24"/>
<path d="M 1255.379207 328.674763 L 1255.379207 328.403828" clip-path="url(#p35f3541ee9)" class="c24"/>
<path d="M 1257.96527 328.674763 L 1257.96527 328.637012" clip-path="url(#p35f3541ee9)" class="c24"/>
<path d="M 1260.551333 328.674763 L 1260.551333 328.386183" clip-path="url(#p35f3541ee9)" class="c24"/>
<path d="M 1263.137396 328.674763 L 1263.137396 328.481999" clip-path="url(#p35f3541ee9)" class="c24"/>
<path d="M 1265.723459 328.674763 L 1265.723459 328.459657" clip-path="url(#p35f3541ee9)" class="c24"/>
<path d="M 1268.309522 328.674763 L 1268.309522 328.589767" clip-path="url(#p35f3541ee9)" class="c24"/>
<path d="M 1270.895585 328.674763 L 1270.895585 328.516179" clip-path="url(#p35f3541ee9)" class="c24"/>
<path d="M 1273.481648 328.674763 L 1273.481648 328.479625" clip-path="url(#p35f3541ee9)" class="c24"/>
<path d="M 1276.067711 328.674763 L 1276.067711 328.385353" clip-path="url(#p35f3541ee9)" class="c24"/>
<path d="M 1278.653774 328.674763 L 1278.653774 328.6493" clip-path="url(#p35f3541ee9)" class="c24"/>
<path d="M 1281.239837 328.674763 L 1281.239837 328.544548" clip-path="url(#p35f3541ee9)" class="c24"/>
<path d="M 1283.8259 328.674763 L 1283.8259 328.609985" clip-path="url(#p35f3541ee9)" class="c24"/>
<path d="M 1286.411963 328.674763 L 1286.411963 328.479036" clip-path="url(#p35f3541ee9)" class="c24"/>
<path d="M 1288.998026 328.674763 L 1288.998026 328.544626" clip-path="url(#p35f3541ee9)" class="c24"/>
<path d="M 1291.58409 328.674763 L 1291.58409 328.617409" clip-path="url(#p35f3541ee9)" class="c24"/>
<path d="M 1294.170153 328.674763 L 1294.170153 328.414674" clip-path="url(#p35f3541ee9)" class="c24"/>
<path d="M 1296.756216 328.674763 L 1296.756216 328.438868" clip-path="url(#p35f3541ee9)" class="c24"/>
<path d="M 1299.342279 328.674763 L 1299.342279 328.55036" clip-path="url(#p35f3541ee9)" class="c24"/>
<path d="M 1301.928342 328.674763 L 1301.928342 328.540228" clip-path="url(#p35f3541ee9)" class="c24"/>
<path d="M 1304.514405 328.674763 L 1304.514405 328.652477" clip-path="url(#p35f3541ee9)" class="c24"/>
<path d="M 1307.100468 328.674763 L 1307.100468 328.49302" clip-path="url(#p35f3541ee9)" class="c24"/>
<path d="M 1309.686531 328.674763 L 1309.686531 328.455395" clip-path="url(#p35f3541ee9)" class="c24"/>
<path d="M 1312.272594 328.674763 L 1312.272594 328.483932" clip-path="url(#p35f3541ee9)" class="c24"/>
<path d="M 1314.858657 328.674763 L 1314.858657 328.447599" clip-path="url(#p35f3541ee9)" class="c24"/>
<path d="M 1317.44472 328.674763 L 1317.44472 328.555808" clip-path="url(#p35f3541ee9)" class="c24"/>
<path d="M 1320.030783 328.674763 L 1320.030783 328.466416" clip-path="url(#p35f3541ee9)" class="c24"/>
<path d="M 1322.616846 328.674763 L 1322.616846 328.668603" clip-path="url(#p35f3541ee9)" class="c24"/>
<path d="M 1325.202909 328.674763 L 1325.202909 328.545136" clip-path="url(#p35f3541ee9)" class="c24"/>
<path d="M 1327.788973 328.674763 L 1327.788973 328.491716" clip-path="url(#p35f3541ee9)" class="c24"/>
<path d="M 1330.375036 328.674763 L 1330.375036 328.405728" clip-path="url(#p35f3541ee9)" class="c24"/>
<path d="M 1332.961099 328.674763 L 1332.961099 328.653849" clip-path="url(#p35f3541ee9)" class="c24"/>
<path d="M 1335.547162 328.674763 L 1335.547162 328.56642" clip-path="url(#p35f3541ee9)" class="c24"/>
<path d="M 1338.133225 328.674763 L 1338.133225 328.603486" clip-path="url(#p35f3541ee9)" class="c24"/>
<path d="M 1340.719288 328.674763 L 1340.719288 328.392742" clip-path="url(#p35f3541ee9)" class="c24"/>
<path d="M 1343.305351 328.674763 L 1343.305351 328.461458" clip-path="url(#p35f3541ee9)" class="c24"/>
<path d="M 1345.891414 328.674763 L 1345.891414 328.532194" clip-path="url(#p35f3541ee9)" class="c24"/>
<path d="M 1348.477477 328.674763 L 1348.477477 328.46298" clip-path="url(#p35f3541ee9)" class="c24"/>
<path d="M 1351.06354 328.674763 L 1351.06354 328.580034" clip-path="url(#p35f3541ee9)" class="c24"/>
<path d="M 1353.649603 328.674763 L 1353.649603 328.449236" clip-path="url(#p35f3541ee9)" class="c24"/>
<path d="M 1356.235666 328.674763 L 1356.235666 328.640075" clip-path="url(#p35f3541ee9)" class="c24"/>
<path d="M 1358.821729 328.674763 L 1358.821729 328.625709" clip-path="url(#p35f3541ee9)" class="c24"/>
<path d="M 1361.407792 328.674763 L 1361.407792 328.642453" clip-path="url(#p35f3541ee9)" class="c24"/>
<path d="M 1363.993856 328.674763 L 1363.993856 328.39491" clip-path="url(#p35f3541ee9)" class="c24"/>
<path d="M 1366.579919 328.674763 L 1366.579919 328.530521" clip-path="url(#p35f3541ee9)" class="c24"/>
<path d="M 1369.165982 328.674763 L 1369.165982 328.53712" clip-path="url(#p35f3541ee9)" class="c24"/>
<path d="M 1371.752045 328.674763 L 1371.752045 328.674763" clip-path="url(#p35f3541ee9)" class="c24"/>
<path d="M 1374.338108 328.674763 L 1374.338108 327.931901" clip-path="url(#p35f3541ee9)" class="c24"/>
<path d="M 1376.924171 328.674763 L 1376.924171 327.189038" clip-path="url(#p35f3541ee9)" class="c24"/>
<path d="M 1379.510234 328.674763 L 1379.510234 325.703312" clip-path="url(#p35f3541ee9)" class="c24"/>
<path d="M 1382.096297 328.674763 L 1382.096297 324.96045" clip-path="url(#p35f3541ee9)" class="c24"/>
<path d="M 1384.68236 328.674763 L 1384.68236 324.217587" clip-path="url(#p35f3541ee9)" class="c24"/>
<path d="M 1387.268423 328.674763 L 1387.268423 323.474724" clip-path="url(#p35f3541ee9)" class="c24"/>
<path d="M 1389.854486 328.674763 L 1389.854486 324.217587" clip-path="url(#p35f3541ee9)" class="c24"/>
<path d="M 1392.440549 328.674763 L 1392.440549 324.217587" clip-path="url(#p35f3541ee9)" class="c24"/>
<path d="M 1395.026612 328.674763 L 1395.026612 324.217587" clip-path="url(#p35f3541ee9)" class="c24"/>
<path d="M 1397.612675 328.674763 L 1397.612675 323.474724" clip-path="url(#p35f3541ee9)" class="c24"/>
<path d="M 1400.198739 328.674763 L 1400.198739 324.217587" clip-path="url(#p35f3541ee9)" class="c24"/>
<path d="M 1402.784802 328.674763 L 1402.784802 324.217587" clip-path="url(#p35f3541ee9)" class="c24"/>
<path d="M 1405.370865 328.674763 L 1405.370865 324.217587" clip-path="url(#p35f3541ee9)" class="c24"/>
<path d="M 1407.956928 328.674763 L 1407.956928 328.674763" clip-path="url(#p35f3541ee9)" class="c24"/>
<path d="M 1410.542991 328.674763 L 1410.542991 323.474724" clip-path="url(#p35f3541ee9)" class="c24"/>
<path d="M 1413.129054 328.674763 L 1413.129054 324.217587" clip-path="url(#p35f3541ee9)" class="c24"/>
<path d="M 1415.715117 328.674763 L 1415.715117 323.474724" clip-path="url(#p35f3541ee9)" class="c24"/>
<path d="M 1418.30118 328.674763 L 1418.30118 319.76041" clip-path="url(#p35f3541ee9)" class="c24"/>
<path d="M 1420.887243 328.674763 L 1420.887243 319.76041" clip-path="url(#p35f3541ee9)" class="c24"/>
<path d="M 1423.473306 328.674763 L 1423.473306 319.017548" clip-path="url(#p35f3541ee9)" class="c24"/>
<path d="M 1426.059369 328.674763 L 1426.059369 307.874607" clip-path="url(#p35f3541ee9)" class="c24"/>
<path d="M 1428.645432 328.674763 L 1428.645432 303.41743" clip-path="url(#p35f3541ee9)" class="c24"/>
<path d="M 1431.231495 328.674763 L 1431.231495 301.188842" clip-path="url(#p35f3541ee9)" class="c24"/>
<path d="M 1433.817558 328.674763 L 1433.817558 309.360332" clip-path="url(#p35f3541ee9)" class="c24"/>
<path d="M 1436.403622 328.674763 L 1436.403622 316.78896" clip-path="url(#p35f3541ee9)" class="c24"/>
<path d="M 1438.989685 328.674763 L 1438.989685 321.988999" clip-path="url(#p35f3541ee9)" class="c24"/>
<path d="M 1441.575748 328.674763 L 1441.575748 324.217587" clip-path="url(#p35f3541ee9)" class="c24"/>
<path d="M 1444.161811 328.674763 L 1444.161811 326.446175" clip-path="url(#p35f3541ee9)" class="c24"/>
<path d="M 1446.747874 328.674763 L 1446.747874 327.189038" clip-path="url(#p35f3541ee9)" class="c24"/>
<path d="M 1449.333937 328.674763 L 1449.333937 327.931901" clip-path="url(#p35f3541ee9)" class="c24"/>
<path d="M 1451.92 328.674763 L 1451.92 328.674763" clip-path="url(#p35f3541ee9)" class="c24"/>
<path d="M 1454.506063 328.674763 L 1454.506063 327.931901" clip-path="url(#p35f3541ee9)" class="c24"/>
<path d="M 1457.092126 328.674763 L 1457.092126 327.189038" clip-path="url(#p35f3541ee9)" class="c24"/>
<path d="M 1459.678189 328.674763 L 1459.678189 326.446175" clip-path="url(#p35f3541ee9)" class="c24"/>
<path d="M 1462.264252 328.674763 L 1462.264252 324.217587" clip-path="url(#p35f3541ee9)" class="c24"/>
<path d="M 1464.850315 328.674763 L 1464.850315 321.988999" clip-path="url(#p35f3541ee9)" class="c24"/>
<path d="M 1467.436378 328.674763 L 1467.436378 316.78896" clip-path="url(#p35f3541ee9)" class="c24"/>
<path d="M 1470.022442 328.674763 L 1470.022442 309.360332" clip-path="url(#p35f3541ee9)" class="c24"/>
<path d="M 1472.608505 328.674763 L 1472.608505 301.188842" clip-path="url(#p35f3541ee9)" class="c24"/>
<path d="M 1475.194568 328.674763 L 1475.194568 303.41743" clip-path="url(#p35f3541ee9)" class="c24"/>
<path d="M 1477.780631 328.674763 L 1477.780631 307.874607" clip-path="url(#p35f3541ee9)" class="c24"/>
<path d="M 1480.366694 328.674763 L 1480.366694 319.017548" clip-path="url(#p35f3541ee9)" class="c24"/>
<path d="M 1482.952757 328.674763 L 1482.952757 319.76041" clip-path="url(#p35f3541ee9)" class="c24"/>
<path d="M 1485.53882 328.674763 L 1485.53882 319.76041" clip-path="url(#p35f3541ee9)" class="c24"/>
<path d="M 1488.124883 328.674763 L 1488.124883 323.474724" clip-path="url(#p35f3541ee9)" class="c24"/>
<path d="M 1490.710946 328.674763 L 1490.710946 324.217587" clip-path="url(#p35f3541ee9)" class="c24"/>
<path d="M 1493.297009 328.674763 L 1493.297009 323.474724" clip-path="url(#p35f3541ee9)" class="c24"/>
<path d="M 1495.883072 328.674763 L 1495.883072 328.674763" clip-path="url(#p35f3541ee9)" class="c24"/>
<path d="M 1498.469135 328.674763 L 1498.469135 324.217587" clip-path="url(#p35f3541ee9)" class="c24"/>
<path d="M 1501.055198 328.674763 L 1501.055198 324.217587" clip-path="url(#p35f3541ee9)" class="c24"/>
<path d="M 1503.641261 328.674763 L 1503.641261 324.217587" clip-path="url(#p35f3541ee9)" class="c24"/>
<path d="M 1506.227325 328.674763 L 1506.227325 323.474724" clip-path="url(#p35f3541ee9)" class="c24"/>
<path d="M 1508.813388 328.674763 L 1508.813388 324.217587" clip-path="url(#p35f3541ee9)" class="c24"/>
<path d="M 1511.399451 328.674763 L 1511.399451 324.217587" clip-path="url(#p35f3541ee9)" class="c24"/>
<path d="M 1513.985514 328.674763 L 1513.985514 324.217587" clip-path="url(#p35f3541ee9)" class="c24"/>
<path d="M 1516.571577 328.674763 L 1516.571577 323.474724" clip-path="url(#p35f3541ee9)" class="c24"/>
<path d="M 1519.15764 328.674763 L 1519.15764 324.217587" clip-path="url(#p35f3541ee9)" class="c24"/>
<path d="M 1521.743703 328.674763 L 1521.743703 324.96045" clip-path="url(#p35f3541ee9)" class="c24"/>
<path d="M 1524.329766 328.674763 L 1524.329766 325.703312" clip-path="url(#p35f3541ee9)" class="c24"/>
<path d="M 1526.915829 328.674763 L 1526.915829 327.189038" clip-path="url(#p35f3541ee9)" class="c24"/>
<path d="M 1529.501892 328.674763 L 1529.501892 327.931901" clip-path="url(#p35f3541ee9)" class="c24"/>
<path d="M 1532.087955 328.674763 L 1532.087955 328.674763" clip-path="url(#p35f3541ee9)" class="c24"/>
<path d="M 1534.674018 328.674763 L 1534.674018 328.53712" clip-path="url(#p35f3541ee9)" class="c24"/>
<path d="M 1537.260081 328.674763 L 1537.260081 328.530521" clip-path="url(#p35f3541ee9)" class="c24"/>
<path d="M 1539.846144 328.674763 L 1539.846144 328.39491" clip-path="url(#p35f3541ee9)" class="c24"/>
<path d="M 1542.432208 328.674763 L 1542.432208 328.642453" clip-path="url(#p35f3541ee9)" class="c24"/>
<path d="M 1545.018271 328.674763 L 1545.018271 328.625709" clip-path="url(#p35f3541ee9)" class="c24"/>
<path d="M 1547.604334 328.674763 L 1547.604334 328.640075" clip-path="url(#p35f3541ee9)" class="c24"/>
<path d="M 1550.190397 328.674763 L 1550.190397 328.449236" clip-path="url(#p35f3541ee9)" class="c24"/>
<path d="M 1552.77646 328.674763 L 1552.77646 328.580034" clip-path="url(#p35f3541ee9)" class="c24"/>
<path d="M 1555.362523 328.674763 L 1555.362523 328.46298" clip-path="url(#p35f3541ee9)" class="c24"/>
<path d="M 1557.948586 328.674763 L 1557.948586 328.532194" clip-path="url(#p35f3541ee9)" class="c24"/>
<path d="M 1560.534649 328.674763 L 1560.534649 328.461458" clip-path="url(#p35f3541ee9)" class="c24"/>
<path d="M 1563.120712 328.674763 L 1563.120712 328.392742" clip-path="url(#p35f3541ee9)" class="c24"/>
<path d="M 1565.706775 328.674763 L 1565.706775 328.603486" clip-path="url(#p35f3541ee9)" class="c24"/>
<path d="M 1568.292838 328.674763 L 1568.292838 328.56642" clip-path="url(#p35f3541ee9)" class="c24"/>
<path d="M 1570.878901 328.674763 L 1570.878901 328.653849" clip-path="url(#p35f3541ee9)" class="c24"/>
<path d="M 1573.464964 328.674763 L 1573.464964 328.405728" clip-path="url(#p35f3541ee9)" class="c24"/>
<path d="M 1576.051027 328.674763 L 1576.051027 328.491716" clip-path="url(#p35f3541ee9)" class="c24"/>
<path d="M 1578.637091 328.674763 L 1578.637091 328.545136" clip-path="url(#p35f3541ee9)" class="c24"/>
<path d="M 1581.223154 328.674763 L 1581.223154 328.668603" clip-path="url(#p35f3541ee9)" class="c24"/>
<path d="M 1583.809217 328.674763 L 1583.809217 328.466416" clip-path="url(#p35f3541ee9)" class="c24"/>
<path d="M 1586.39528 328.674763 L 1586.39528 328.555808" clip-path="url(#p35f3541ee9)" class="c24"/>
<path d="M 1588.981343 328.674763 L 1588.981343 328.447599" clip-path="url(#p35f3541ee9)" class="c24"/>
<path d="M 1591.567406 328.674763 L 1591.567406 328.483932" clip-path="url(#p35f3541ee9)" class="c24"/>
<path d="M 1594.153469 328.674763 L 1594.153469 328.455395" clip-path="url(#p35f3541ee9)" class="c24"/>
<path d="M 1596.739532 328.674763 L 1596.739532 328.49302" clip-path="url(#p35f3541ee9)" class="c24"/>
<path d="M 1599.325595 328.674763 L 1599.325595 328.652477" clip-path="url(#p35f3541ee9)" class="c24"/>
<path d="M 1601.911658 328.674763 L 1601.911658 328.540228" clip-path="url(#p35f3541ee9)" class="c24"/>
<path d="M 1604.497721 328.674763 L 1604.497721 328.55036" clip-path="url(#p35f3541ee9)" class="c24"/>
<path d="M 1607.083784 328.674763 L 1607.083784 328.438868" clip-path="url(#p35f3541ee9)" class="c24"/>
<path d="M 1609.669847 328.674763 L 1609.669847 328.414674" clip-path="url(#p35f3541ee9)" class="c24"/>
<path d="M 1612.25591 328.674763 L 1612.25591 328.617409" clip-path="url(#p35f3541ee9)" class="c24"/>
<path d="M 1614.841974 328.674763 L 1614.841974 328.544626" clip-path="url(#p35f3541ee9)" class="c24"/>
<path d="M 1617.428037 328.674763 L 1617.428037 328.479036" clip-path="url(#p35f3541ee9)" class="c24"/>
<path d="M 1620.0141 328.674763 L 1620.0141 328.609985" clip-path="url(#p35f3541ee9)" class="c24"/>
<path d="M 1622.600163 328.674763 L 1622.600163 328.544548" clip-path="url(#p35f3541ee9)" class="c24"/>
<path d="M 1625.186226 328.674763 L 1625.186226 328.6493" clip-path="url(#p35f3541ee9)" class="c24"/>
<path d="M 1627.772289 328.674763 L 1627.772289 328.385353" clip-path="url(#p35f3541ee9)" class="c24"/>
<path d="M 1630.358352 328.674763 L 1630.358352 328.479625" clip-path="url(#p35f3541ee9)" class="c24"/>
<path d="M 1632.944415 328.674763 L 1632.944415 328.516179" clip-path="url(#p35f3541ee9)" class="c24"/>
<path d="M 1635.530478 328.674763 L 1635.530478 328.589767" clip-path="url(#p35f3541ee9)" class="c24"/>
<path d="M 1638.116541 328.674763 L 1638.116541 328.459657" clip-path="url(#p35f3541ee9)" class="c24"/>
<path d="M 1640.702604 328.674763 L 1640.702604 328.481999" clip-path="url(#p35f3541ee9)" class="c24"/>
<path d="M 1643.288667 328.674763 L 1643.288667 328.386183" clip-path="url(#p35f3541ee9)" class="c24"/>
<path d="M 1645.87473 328.674763 L 1645.87473 328.637012" clip-path="url(#p35f3541ee9)" class="c24"/>
<path d="M 1648.460793 328.674763 L 1648.460793 328.403828" clip-path="url(#p35f3541ee9)" class="c24"/>
<path d="M 1651.046857 328.674763 L 1651.046857 328.60394" clip-path="url(#p35f3541ee9)" class="c24"/>
<path d="M 1653.63292 328.674763 L 1653.63292 328.497817" clip-path="url(#p35f3541ee9)" class="c24"/>
<path d="M 1656.218983 328.674763 L 1656.218983 328.607003" clip-path="url(#p35f3541ee9)" class="c24"/>
<path d="M 1658.805046 328.674763 L 1658.805046 328.524564" clip-path="url(#p35f3541ee9)" class="c24"/>
<path d="M 1661.391109 328.674763 L 1661.391109 328.398536" clip-path="url(#p35f3541ee9)" class="c24"/>
<path d="M 1663.977172 328.674763 L 1663.977172 328.568448" clip-path="url(#p35f3541ee9)" class="c24"/>
<path d="M 1666.563235 328.674763 L 1666.563235 328.455973" clip-path="url(#p35f3541ee9)" class="c24"/>
<path d="M 1669.149298 328.674763 L 1669.149298 328.605563" clip-path="url(#p35f3541ee9)" class="c24"/>
<path d="M 1671.735361 328.674763 L 1671.735361 328.423231" clip-path="url(#p35f3541ee9)" class="c24"/>
<path d="M 1674.321424 328.674763 L 1674.321424 328.658683" clip-path="url(#p35f3541ee9)" class="c24"/>
<path d="M 1676.907487 328.674763 L 1676.907487 328.539801" clip-path="url(#p35f3541ee9)" class="c24"/>
<path d="M 1679.49355 328.674763 L 1679.49355 328.56903" clip-path="url(#p35f3541ee9)" class="c24"/>
<path d="M 1682.079613 328.674763 L 1682.079613 328.581892" clip-path="url(#p35f3541ee9)" class="c24"/>
<path d="M 1684.665677 328.674763 L 1684.665677 328.567619" clip-path="url(#p35f3541ee9)" class="c24"/>
<path d="M 1687.25174 328.674763 L 1687.25174 328.42764" clip-path="url(#p35f3541ee9)" class="c24"/>
<path d="M 1689.837803 328.674763 L 1689.837803 328.464935" clip-path="url(#p35f3541ee9)" class="c24"/>
<path d="M 1692.423866 328.674763 L 1692.423866 328.618091" clip-path="url(#p35f3541ee9)" class="c24"/>
<path d="M 1695.009929 328.674763 L 1695.009929 328.588283" clip-path="url(#p35f3541ee9)" class="c24"/>
<path d="M 1697.595992 328.674763 L 1697.595992 328.58589" clip-path="url(#p35f3541ee9)" class="c24"/>
<path d="M 1700.182055 328.674763 L 1700.182055 328.45135" clip-path="url(#p35f3541ee9)" class="c24"/>
<path d="M 1702.768118 328.674763 L 1702.768118 328.586004" clip-path="url(#p35f3541ee9)" class="c24"/>
<path d="M 1705.354181 328.674763 L 1705.354181 328.655316" clip-path="url(#p35f3541ee9)" class="c24"/>
<path d="M 1707.940244 328.674763 L 1707.940244 328.505894" clip-path="url(#p35f3541ee9)" class="c24"/>
<path d="M 1710.526307 328.674763 L 1710.526307 328.406546" clip-path="url(#p35f3541ee9)" class="c24"/>
<path d="M 1713.11237 328.674763 L 1713.11237 328.570177" clip-path="url(#p35f3541ee9)" class="c24"/>
<path d="M 1715.698433 328.674763 L 1715.698433 328.439043" clip-path="url(#p35f3541ee9)" class="c24"/>
<path d="M 1718.284496 328.674763 L 1718.284496 328.40649" clip-path="url(#p35f3541ee9)" class="c24"/>
<path d="M 1720.87056 328.674763 L 1720.87056 328.489494" clip-path="url(#p35f3541ee9)" class="c24"/>
<path d="M 1723.456623 328.674763 L 1723.456623 328.60831" clip-path="url(#p35f3541ee9)" class="c24"/>
<path d="M 1726.042686 328.674763 L 1726.042686 328.528106" clip-path="url(#p35f3541ee9)" class="c24"/>
<path d="M 1728.628749 328.674763 L 1728.628749 328.47622" clip-path="url(#p35f3541ee9)" class="c24"/>
<path clip-path="url(#p35f3541ee9)" class="c24"/>
<path clip-path="url(#p35f3541ee9)" class="c24"/>
<path clip-path="url(#p35f3541ee9)" class="c24"/>
</g>
<g id="line2d_65">
<g clip-path="url(#p35f3541ee9)">
<path d="M -3 3 L 3 -3 M -3 -3 L 3 3" transform="translate(1167.45 328.41)" class="c5"/>
<path d="M -3 3 L 3 -3 M -3 -3 L 3 3" transform="translate(1170.04 328.67)" class="c5"/>
<path d="M -3 3 L 3 -3 M -3 -3 L 3 3" transform="translate(1172.63 328.55)" class="c5"/>
<path d="M -3 3 L 3 -3 M -3 -3 L 3 3" transform="translate(1175.21 328.48)" class="c5"/>
<path d="M -3 3 L 3 -3 M -3 -3 L 3 3" transform="translate(1177.8 328.53)" class="c5"/>
<path d="M -3 3 L 3 -3 M -3 -3 L 3 3" transform="translate(1180.38 328.61)" class="c5"/>
<path d="M -3 3 L 3 -3 M -3 -3 L 3 3" transform="translate(1182.97 328.49)" class="c5"/>
<path d="M -3 3 L 3 -3 M -3 -3 L 3 3" transform="translate(1185.56 328.41)" class="c5"/>
<path d="M -3 3 L 3 -3 M -3 -3 L 3 3" transform="translate(1188.14 328.44)" class="c5"/>
<path d="M -3 3 L 3 -3 M -3 -3 L 3 3" transform="translate(1190.73 328.57)" class="c5"/>
<path d="M -3 3 L 3 -3 M -3 -3 L 3 3" transform="translate(1193.31 328.41)" class="c5"/>
<path d="M -3 3 L 3 -3 M -3 -3 L 3 3" transform="translate(1195.9 328.51)" class="c5"/>
<path d="M -3 3 L 3 -3 M -3 -3 L 3 3" transform="translate(1198.49 328.66)" class="c5"/>
<path d="M -3 3 L 3 -3 M -3 -3 L 3 3" transform="translate(1201.07 328.59)" class="c5"/>
<path d="M -3 3 L 3 -3 M -3 -3 L 3 3" transform="translate(1203.66 328.45)" class="c5"/>
<path d="M -3 3 L 3 -3 M -3 -3 L 3 3" transform="translate(1206.24 328.59)" class="c5"/>
<path d="M -3 3 L 3 -3 M -3 -3 L 3 3" transform="translate(1208.83 328.59)" class="c5"/>
<path d="M -3 3 L 3 -3 M -3 -3 L 3 3" transform="translate(1211.42 328.62)" class="c5"/>
<path d="M -3 3 L 3 -3 M -3 -3 L 3 3" transform="translate(1214 328.46)" class="c5"/>
<path d="M -3 3 L 3 -3 M -3 -3 L 3 3" transform="translate(1216.59 328.43)" class="c5"/>
<path d="M -3 3 L 3 -3 M -3 -3 L 3 3" transform="translate(1219.17 328.57)" class="c5"/>
<path d="M -3 3 L 3 -3 M -3 -3 L 3 3" transform="translate(1221.76 328.58)" class="c5"/>
<path d="M -3 3 L 3 -3 M -3 -3 L 3 3" transform="translate(1224.35 328.57)" class="c5"/>
<path d="M -3 3 L 3 -3 M -3 -3 L 3 3" transform="translate(1226.93 328.54)" class="c5"/>
<path d="M -3 3 L 3 -3 M -3 -3 L 3 3" transform="translate(1229.52 328.66)" class="c5"/>
<path d="M -3 3 L 3 -3 M -3 -3 L 3 3" transform="translate(1232.1 328.42)" class="c5"/>
<path d="M -3 3 L 3 -3 M -3 -3 L 3 3" transform="translate(1234.69 328.61)" class="c5"/>
<path d="M -3 3 L 3 -3 M -3 -3 L 3 3" transform="translate(1237.28 328.46)" class="c5"/>
<path d="M -3 3 L 3 -3 M -3 -3 L 3 3" transform="translate(1239.86 328.57)" class="c5"/>
<path d="M -3 3 L 3 -3 M -3 -3 L 3 3" transform="translate(1242.45 328.4)" class="c5"/>
<path d="M -3 3 L 3 -3 M -3 -3 L 3 3" transform="translate(1245.03 328.52)" class="c5"/>
<path d="M -3 3 L 3 -3 M -3 -3 L 3 3" transform="translate(1247.62 328.61)" class="c5"/>
<path d="M -3 3 L 3 -3 M -3 -3 L 3 3" transform="translate(1250.21 328.5)" class="c5"/>
<path d="M -3 3 L 3 -3 M -3 -3 L 3 3" transform="translate(1252.79 328.6)" class="c5"/>
<path d="M -3 3 L 3 -3 M -3 -3 L 3 3" transform="translate(1255.38 328.4)" class="c5"/>
<path d="M -3 3 L 3 -3 M -3 -3 L 3 3" transform="translate(1257.97 328.64)" class="c5"/>
<path d="M -3 3 L 3 -3 M -3 -3 L 3 3" transform="translate(1260.55 328.39)" class="c5"/>
<path d="M -3 3 L 3 -3 M -3 -3 L 3 3" transform="translate(1263.14 328.48)" class="c5"/>
<path d="M -3 3 L 3 -3 M -3 -3 L 3 3" transform="translate(1265.72 328.46)" class="c5"/>
<path d="M -3 3 L 3 -3 M -3 -3 L 3 3" transform="translate(1268.31 328.59)" class="c5"/>
<path d="M -3 3 L 3 -3 M -3 -3 L 3 3" transform="translate(1270.9 328.52)" class="c5"/>
<path d="M -3 3 L 3 -3 M -3 -3 L 3 3" transform="translate(1273.48 328.48)" class="c5"/>
<path d="M -3 3 L 3 -3 M -3 -3 L 3 3" transform="translate(1276.07 328.39)" class="c5"/>
<path d="M -3 3 L 3 -3 M -3 -3 L 3 3" transform="translate(1278.65 328.65)" class="c5"/>
<path d="M -3 3 L 3 -3 M -3 -3 L 3 3" transform="translate(1281.24 328.54)" class="c5"/>
<path d="M -3 3 L 3 -3 M -3 -3 L 3 3" transform="translate(1283.83 328.61)" class="c5"/>
<path d="M -3 3 L 3 -3 M -3 -3 L 3 3" transform="translate(1286.41 328.48)" class="c5"/>
<path d="M -3 3 L 3 -3 M -3 -3 L 3 3" transform="translate(1289 328.54)" class="c5"/>
<path d="M -3 3 L 3 -3 M -3 -3 L 3 3" transform="translate(1291.58 328.62)" class="c5"/>
<path d="M -3 3 L 3 -3 M -3 -3 L 3 3" transform="translate(1294.17 328.41)" class="c5"/>
<path d="M -3 3 L 3 -3 M -3 -3 L 3 3" transform="translate(1296.76 328.44)" class="c5"/>
<path d="M -3 3 L 3 -3 M -3 -3 L 3 3" transform="translate(1299.34 328.55)" class="c5"/>
<path d="M -3 3 L 3 -3 M -3 -3 L 3 3" transform="translate(1301.93 328.54)" class="c5"/>
<path d="M -3 3 L 3 -3 M -3 -3 L 3 3" transform="translate(1304.51 328.65)" class="c5"/>
<path d="M -3 3 L 3 -3 M -3 -3 L 3 3" transform="translate(1307.1 328.49)" class="c5"/>
<path d="M -3 3 L 3 -3 M -3 -3 L 3 3" transform="translate(1309.69 328.46)" class="c5"/>
<path d="M -3 3 L 3 -3 M -3 -3 L 3 3" transform="translate(1312.27 328.48)" class="c5"/>
<path d="M -3 3 L 3 -3 M -3 -3 L 3 3" transform="translate(1314.86 328.45)" class="c5"/>
<path d="M -3 3 L 3 -3 M -3 -3 L 3 3" transform="translate(1317.44 328.56)" class="c5"/>
<path d="M -3 3 L 3 -3 M -3 -3 L 3 3" transform="translate(1320.03 328.47)" class="c5"/>
<path d="M -3 3 L 3 -3 M -3 -3 L 3 3" transform="translate(1322.62 328.67)" class="c5"/>
<path d="M -3 3 L 3 -3 M -3 -3 L 3 3" transform="translate(1325.2 328.55)" class="c5"/>
<path d="M -3 3 L 3 -3 M -3 -3 L 3 3" transform="translate(1327.79 328.49)" class="c5"/>
<path d="M -3 3 L 3 -3 M -3 -3 L 3 3" transform="translate(1330.38 328.41)" class="c5"/>
<path d="M -3 3 L 3 -3 M -3 -3 L 3 3" transform="translate(1332.96 328.65)" class="c5"/>
<path d="M -3 3 L 3 -3 M -3 -3 L 3 3" transform="translate(1335.55 328.57)" class="c5"/>
<path d="M -3 3 L 3 -3 M -3 -3 L 3 3" transform="translate(1338.13 328.6)" class="c5"/>
<path d="M -3 3 L 3 -3 M -3 -3 L 3 3" transform="translate(1340.72 328.39)" class="c5"/>
<path d="M -3 3 L 3 -3 M -3 -3 L 3 3" transform="translate(1343.31 328.46)" class="c5"/>
<path d="M -3 3 L 3 -3 M -3 -3 L 3 3" transform="translate(1345.89 328.53)" class="c5"/>
<path d="M -3 3 L 3 -3 M -3 -3 L 3 3" transform="translate(1348.48 328.46)" class="c5"/>
<path d="M -3 3 L 3 -3 M -3 -3 L 3 3" transform="translate(1351.06 328.58)" class="c5"/>
<path d="M -3 3 L 3 -3 M -3 -3 L 3 3" transform="translate(1353.65 328.45)" class="c5"/>
<path d="M -3 3 L 3 -3 M -3 -3 L 3 3" transform="translate(1356.24 328.64)" class="c5"/>
<path d="M -3 3 L 3 -3 M -3 -3 L 3 3" transform="translate(1358.82 328.63)" class="c5"/>
<path d="M -3 3 L 3 -3 M -3 -3 L 3 3" transform="translate(1361.41 328.64)" class="c5"/>
<path d="M -3 3 L 3 -3 M -3 -3 L 3 3" transform="translate(1363.99 328.39)" class="c5"/>
<path d="M -3 3 L 3 -3 M -3 -3 L 3 3" transform="translate(1366.58 328.53)" class="c5"/>
<path d="M -3 3 L 3 -3 M -3 -3 L 3 3" transform="translate(1369.17 328.54)" class="c5"/>
<path d="M -3 3 L 3 -3 M -3 -3 L 3 3" transform="translate(1371.75 328.67)" class="c5"/>
<path d="M -3 3 L 3 -3 M -3 -3 L 3 3" transform="translate(1374.34 327.93)" class="c5"/>
<path d="M -3 3 L 3 -3 M -3 -3 L 3 3" transform="translate(1376.92 327.19)" class="c5"/>
<path d="M -3 3 L 3 -3 M -3 -3 L 3 3" transform="translate(1379.51 325.7)" class="c5"/>
<path d="M -3 3 L 3 -3 M -3 -3 L 3 3" transform="translate(1382.1 324.96)" class="c5"/>
<path d="M -3 3 L 3 -3 M -3 -3 L 3 3" transform="translate(1384.68 324.22)" class="c5"/>
<path d="M -3 3 L 3 -3 M -3 -3 L 3 3" transform="translate(1387.27 323.47)" class="c5"/>
<path d="M -3 3 L 3 -3 M -3 -3 L 3 3" transform="translate(1389.85 324.22)" class="c5"/>
<path d="M -3 3 L 3 -3 M -3 -3 L 3 3" transform="translate(1392.44 324.22)" class="c5"/>
<path d="M -3 3 L 3 -3 M -3 -3 L 3 3" transform="translate(1395.03 324.22)" class="c5"/>
<path d="M -3 3 L 3 -3 M -3 -3 L 3 3" transform="translate(1397.61 323.47)" class="c5"/>
<path d="M -3 3 L 3 -3 M -3 -3 L 3 3" transform="translate(1400.2 324.22)" class="c5"/>
<path d="M -3 3 L 3 -3 M -3 -3 L 3 3" transform="translate(1402.78 324.22)" class="c5"/>
<path d="M -3 3 L 3 -3 M -3 -3 L 3 3" transform="translate(1405.37 324.22)" class="c5"/>
<path d="M -3 3 L 3 -3 M -3 -3 L 3 3" transform="translate(1407.96 328.67)" class="c5"/>
<path d="M -3 3 L 3 -3 M -3 -3 L 3 3" transform="translate(1410.54 323.47)" class="c5"/>
<path d="M -3 3 L 3 -3 M -3 -3 L 3 3" transform="translate(1413.13 324.22)" class="c5"/>
<path d="M -3 3 L 3 -3 M -3 -3 L 3 3" transform="translate(1415.72 323.47)" class="c5"/>
<path d="M -3 3 L 3 -3 M -3 -3 L 3 3" transform="translate(1418.3 319.76)" class="c5"/>
<path d="M -3 3 L 3 -3 M -3 -3 L 3 3" transform="translate(1420.89 319.76)" class="c5"/>
<path d="M -3 3 L 3 -3 M -3 -3 L 3 3" transform="translate(1423.47 319.02)" class="c5"/>
<path d="M -3 3 L 3 -3 M -3 -3 L 3 3" transform="translate(1426.06 307.87)" class="c5"/>
<path d="M -3 3 L 3 -3 M -3 -3 L 3 3" transform="translate(1428.65 303.42)" class="c5"/>
<path d="M -3 3 L 3 -3 M -3 -3 L 3 3" transform="translate(1431.23 301.19)" class="c5"/>
<path d="M -3 3 L 3 -3 M -3 -3 L 3 3" transform="translate(1433.82 309.36)" class="c5"/>
<path d="M -3 3 L 3 -3 M -3 -3 L 3 3" transform="translate(1436.4 316.79)" class="c5"/>
<path d="M -3 3 L 3 -3 M -3 -3 L 3 3" transform="translate(1438.99 321.99)" class="c5"/>
<path d="M -3 3 L 3 -3 M -3 -3 L 3 3" transform="translate(1441.58 324.22)" class="c5"/>
<path d="M -3 3 L 3 -3 M -3 -3 L 3 3" transform="translate(1444.16 326.45)" class="c5"/>
<path d="M -3 3 L 3 -3 M -3 -3 L 3 3" transform="translate(1446.75 327.19)" class="c5"/>
<path d="M -3 3 L 3 -3 M -3 -3 L 3 3" transform="translate(1449.33 327.93)" class="c5"/>
<path d="M -3 3 L 3 -3 M -3 -3 L 3 3" transform="translate(1451.92 328.67)" class="c5"/>
<path d="M -3 3 L 3 -3 M -3 -3 L 3 3" transform="translate(1454.51 327.93)" class="c5"/>
<path d="M -3 3 L 3 -3 M -3 -3 L 3 3" transform="translate(1457.09 327.19)" class="c5"/>
<path d="M -3 3 L 3 -3 M -3 -3 L 3 3" transform="translate(1459.68 326.45)" class="c5"/>
<path d="M -3 3 L 3 -3 M -3 -3 L 3 3" transform="translate(1462.26 324.22)" class="c5"/>
<path d="M -3 3 L 3 -3 M -3 -3 L 3 3" transform="translate(1464.85 321.99)" class="c5"/>
<path d="M -3 3 L 3 -3 M -3 -3 L 3 3" transform="translate(1467.44 316.79)" class="c5"/>
<path d="M -3 3 L 3 -3 M -3 -3 L 3 3" transform="translate(1470.02 309.36)" class="c5"/>
<path d="M -3 3 L 3 -3 M -3 -3 L 3 3" transform="translate(1472.61 301.19)" class="c5"/>
<path d="M -3 3 L 3 -3 M -3 -3 L 3 3" transform="translate(1475.19 303.42)" class="c5"/>
<path d="M -3 3 L 3 -3 M -3 -3 L 3 3" transform="translate(1477.78 307.87)" class="c5"/>
<path d="M -3 3 L 3 -3 M -3 -3 L 3 3" transform="translate(1480.37 319.02)" class="c5"/>
<path d="M -3 3 L 3 -3 M -3 -3 L 3 3" transform="translate(1482.95 319.76)" class="c5"/>
<path d="M -3 3 L 3 -3 M -3 -3 L 3 3" transform="translate(1485.54 319.76)" class="c5"/>
<path d="M -3 3 L 3 -3 M -3 -3 L 3 3" transform="translate(1488.12 323.47)" class="c5"/>
<path d="M -3 3 L 3 -3 M -3 -3 L 3 3" transform="translate(1490.71 324.22)" class="c5"/>
<path d="M -3 3 L 3 -3 M -3 -3 L 3 3" transform="translate(1493.3 323.47)" class="c5"/>
<path d="M -3 3 L 3 -3 M -3 -3 L 3 3" transform="translate(1495.88 328.67)" class="c5"/>
<path d="M -3 3 L 3 -3 M -3 -3 L 3 3" transform="translate(1498.47 324.22)" class="c5"/>
<path d="M -3 3 L 3 -3 M -3 -3 L 3 3" transform="translate(1501.06 324.22)" class="c5"/>
<path d="M -3 3 L 3 -3 M -3 -3 L 3 3" transform="translate(1503.64 324.22)" class="c5"/>
<path d="M -3 3 L 3 -3 M -3 -3 L 3 3" transform="translate(1506.23 323.47)" class="c5"/>
<path d="M -3 3 L 3 -3 M -3 -3 L 3 3" transform="translate(1508.81 324.22)" class="c5"/>
<path d="M -3 3 L 3 -3 M -3 -3 L 3 3" transform="translate(1511.4 324.22)" class="c5"/>
<path d="M -3 3 L 3 -3 M -3 -3 L 3 3" transform="translate(1513.99 324.22)" class="c5"/>
<path d="M -3 3 L 3 -3 M -3 -3 L 3 3" transform="translate(1516.57 323.47)" class="c5"/>
<path d="M -3 3 L 3 -3 M -3 -3 L 3 3" transform="translate(1519.16 324.22)" class="c5"/>
<path d="M -3 3 L 3 -3 M -3 -3 L 3 3" transform="translate(1521.74 324.96)" class="c5"/>
<path d="M -3 3 L 3 -3 M -3 -3 L 3 3" transform="translate(1524.33 325.7)" class="c5"/>
<path d="M -3 3 L 3 -3 M -3 -3 L 3 3" transform="translate(1526.92 327.19)" class="c5"/>
<path d="M -3 3 L 3 -3 M -3 -3 L 3 3" transform="translate(1529.5 327.93)" class="c5"/>
<path d="M -3 3 L 3 -3 M -3 -3 L 3 3" transform="translate(1532.09 328.67)" class="c5"/>
<path d="M -3 3 L 3 -3 M -3 -3 L 3 3" transform="translate(1534.67 328.54)" class="c5"/>
<path d="M -3 3 L 3 -3 M -3 -3 L 3 3" transform="translate(1537.26 328.53)" class="c5"/>
<path d="M -3 3 L 3 -3 M -3 -3 L 3 3" transform="translate(1539.85 328.39)" class="c5"/>
<path d="M -3 3 L 3 -3 M -3 -3 L 3 3" transform="translate(1542.43 328.64)" class="c5"/>
<path d="M -3 3 L 3 -3 M -3 -3 L 3 3" transform="translate(1545.02 328.63)" class="c5"/>
<path d="M -3 3 L 3 -3 M -3 -3 L 3 3" transform="translate(1547.6 328.64)" class="c5"/>
<path d="M -3 3 L 3 -3 M -3 -3 L 3 3" transform="translate(1550.19 328.45)" class="c5"/>
<path d="M -3 3 L 3 -3 M -3 -3 L 3 3" transform="translate(1552.78 328.58)" class="c5"/>
<path d="M -3 3 L 3 -3 M -3 -3 L 3 3" transform="translate(1555.36 328.46)" class="c5"/>
<path d="M -3 3 L 3 -3 M -3 -3 L 3 3" transform="translate(1557.95 328.53)" class="c5"/>
<path d="M -3 3 L 3 -3 M -3 -3 L 3 3" transform="translate(1560.53 328.46)" class="c5"/>
<path d="M -3 3 L 3 -3 M -3 -3 L 3 3" transform="translate(1563.12 328.39)" class="c5"/>
<path d="M -3 3 L 3 -3 M -3 -3 L 3 3" transform="translate(1565.71 328.6)" class="c5"/>
<path d="M -3 3 L 3 -3 M -3 -3 L 3 3" transform="translate(1568.29 328.57)" class="c5"/>
<path d="M -3 3 L 3 -3 M -3 -3 L 3 3" transform="translate(1570.88 328.65)" class="c5"/>
<path d="M -3 3 L 3 -3 M -3 -3 L 3 3" transform="translate(1573.46 328.41)" class="c5"/>
<path d="M -3 3 L 3 -3 M -3 -3 L 3 3" transform="translate(1576.05 328.49)" class="c5"/>
<path d="M -3 3 L 3 -3 M -3 -3 L 3 3" transform="translate(1578.64 328.55)" class="c5"/>
<path d="M -3 3 L 3 -3 M -3 -3 L 3 3" transform="translate(1581.22 328.67)" class="c5"/>
<path d="M -3 3 L 3 -3 M -3 -3 L 3 3" transform="translate(1583.81 328.47)" class="c5"/>
<path d="M -3 3 L 3 -3 M -3 -3 L 3 3" transform="translate(1586.4 328.56)" class="c5"/>
<path d="M -3 3 L 3 -3 M -3 -3 L 3 3" transform="translate(1588.98 328.45)" class="c5"/>
<path d="M -3 3 L 3 -3 M -3 -3 L 3 3" transform="translate(1591.57 328.48)" class="c5"/>
<path d="M -3 3 L 3 -3 M -3 -3 L 3 3" transform="translate(1594.15 328.46)" class="c5"/>
<path d="M -3 3 L 3 -3 M -3 -3 L 3 3" transform="translate(1596.74 328.49)" class="c5"/>
<path d="M -3 3 L 3 -3 M -3 -3 L 3 3" transform="translate(1599.33 328.65)" class="c5"/>
<path d="M -3 3 L 3 -3 M -3 -3 L 3 3" transform="translate(1601.91 328.54)" class="c5"/>
<path d="M -3 3 L 3 -3 M -3 -3 L 3 3" transform="translate(1604.5 328.55)" class="c5"/>
<path d="M -3 3 L 3 -3 M -3 -3 L 3 3" transform="translate(1607.08 328.44)" class="c5"/>
<path d="M -3 3 L 3 -3 M -3 -3 L 3 3" transform="translate(1609.67 328.41)" class="c5"/>
<path d="M -3 3 L 3 -3 M -3 -3 L 3 3" transform="translate(1612.26 328.62)" class="c5"/>
<path d="M -3 3 L 3 -3 M -3 -3 L 3 3" transform="translate(1614.84 328.54)" class="c5"/>
<path d="M -3 3 L 3 -3 M -3 -3 L 3 3" transform="translate(1617.43 328.48)" class="c5"/>
<path d="M -3 3 L 3 -3 M -3 -3 L 3 3" transform="translate(1620.01 328.61)" class="c5"/>
<path d="M -3 3 L 3 -3 M -3 -3 L 3 3" transform="translate(1622.6 328.54)" class="c5"/>
<path d="M -3 3 L 3 -3 M -3 -3 L 3 3" transform="translate(1625.19 328.65)" class="c5"/>
<path d="M -3 3 L 3 -3 M -3 -3 L 3 3" transform="translate(1627.77 328.39)" class="c5"/>
<path d="M -3 3 L 3 -3 M -3 -3 L 3 3" transform="translate(1630.36 328.48)" class="c5"/>
<path d="M -3 3 L 3 -3 M -3 -3 L 3 3" transform="translate(1632.94 328.52)" class="c5"/>
<path d="M -3 3 L 3 -3 M -3 -3 L 3 3" transform="translate(1635.53 328.59)" class="c5"/>
<path d="M -3 3 L 3 -3 M -3 -3 L 3 3" transform="translate(1638.12 328.46)" class="c5"/>
<path d="M -3 3 L 3 -3 M -3 -3 L 3 3" transform="translate(1640.7 328.48)" class="c5"/>
<path d="M -3 3 L 3 -3 M -3 -3 L 3 3" transform="translate(1643.29 328.39)" class="c5"/>
<path d="M -3 3 L 3 -3 M -3 -3 L 3 3" transform="translate(1645.87 328.64)" class="c5"/>
<path d="M -3 3 L 3 -3 M -3 -3 L 3 3" transform="translate(1648.46 328.4)" class="c5"/>
<path d="M -3 3 L 3 -3 M -3 -3 L 3 3" transform="translate(1651.05 328.6)" class="c5"/>
<path d="M -3 3 L 3 -3 M -3 -3 L 3 3" transform="translate(1653.63 328.5)" class="c5"/>
<path d="M -3 3 L 3 -3 M -3 -3 L 3 3" transform="translate(1656.22 328.61)" class="c5"/>
<path d="M -3 3 L 3 -3 M -3 -3 L 3 3" transform="translate(1658.81 328.52)" class="c5"/>
<path d="M -3 3 L 3 -3 M -3 -3 L 3 3" transform="translate(1661.39 328.4)" class="c5"/>
<path d="M -3 3 L 3 -3 M -3 -3 L 3 3" transform="translate(1663.98 328.57)" class="c5"/>
<path d="M -3 3 L 3 -3 M -3 -3 L 3 3" transform="translate(1666.56 328.46)" class="c5"/>
<path d="M -3 3 L 3 -3 M -3 -3 L 3 3" transform="translate(1669.15 328.61)" class="c5"/>
<path d="M -3 3 L 3 -3 M -3 -3 L 3 3" transform="translate(1671.74 328.42)" class="c5"/>
<path d="M -3 3 L 3 -3 M -3 -3 L 3 3" transform="translate(1674.32 328.66)" class="c5"/>
<path d="M -3 3 L 3 -3 M -3 -3 L 3 3" transform="translate(1676.91 328.54)" class="c5"/>
<path d="M -3 3 L 3 -3 M -3 -3 L 3 3" transform="translate(1679.49 328.57)" class="c5"/>
<path d="M -3 3 L 3 -3 M -3 -3 L 3 3" transform="translate(1682.08 328.58)" class="c5"/>
<path d="M -3 3 L 3 -3 M -3 -3 L 3 3" transform="translate(1684.67 328.57)" class="c5"/>
<path d="M -3 3 L 3 -3 M -3 -3 L 3 3" transform="translate(1687.25 328.43)" class="c5"/>
<path d="M -3 3 L 3 -3 M -3 -3 L 3 3" transform="translate(1689.84 328.46)" class="c5"/>
<path d="M -3 3 L 3 -3 M -3 -3 L 3 3" transform="translate(1692.42 328.62)" class="c5"/>
<path d="M -3 3 L 3 -3 M -3 -3 L 3 3" transform="translate(1695.01 328.59)" class="c5"/>
<path d="M -3 3 L 3 -3 M -3 -3 L 3 3" transform="translate(1697.6 328.59)" class="c5"/>
<path d="M -3 3 L 3 -3 M -3 -3 L 3 3" transform="translate(1700.18 328.45)" class="c5"/>
<path d="M -3 3 L 3 -3 M -3 -3 L 3 3" transform="translate(1702.77 328.59)" class="c5"/>
<path d="M -3 3 L 3 -3 M -3 -3 L 3 3" transform="translate(1705.35 328.66)" class="c5"/>
<path d="M -3 3 L 3 -3 M -3 -3 L 3 3" transform="translate(1707.94 328.51)" class="c5"/>
<path d="M -3 3 L 3 -3 M -3 -3 L 3 3" transform="translate(1710.53 328.41)" class="c5"/>
<path d="M -3 3 L 3 -3 M -3 -3 L 3 3" transform="translate(1713.11 328.57)" class="c5"/>
<path d="M -3 3 L 3 -3 M -3 -3 L 3 3" transform="translate(1715.7 328.44)" class="c5"/>
<path d="M -3 3 L 3 -3 M -3 -3 L 3 3" transform="translate(1718.28 328.41)" class="c5"/>
<path d="M -3 3 L 3 -3 M -3 -3 L 3 3" transform="translate(1720.87 328.49)" class="c5"/>
<path d="M -3 3 L 3 -3 M -3 -3 L 3 3" transform="translate(1723.46 328.61)" class="c5"/>
<path d="M -3 3 L 3 -3 M -3 -3 L 3 3" transform="translate(1726.04 328.53)" class="c5"/>
<path d="M -3 3 L 3 -3 M -3 -3 L 3 3" transform="translate(1728.63 328.48)" class="c5"/>
<path d="M -3 3 L 3 -3 M -3 -3 L 3 3" transform="translate(1731.21 328.55)" class="c5"/>
<path d="M -3 3 L 3 -3 M -3 -3 L 3 3" transform="translate(1733.8 328.67)" class="c5"/>
<path d="M -3 3 L 3 -3 M -3 -3 L 3 3" transform="translate(1736.39 328.41)" class="c5"/>
</g>
</g>
<g id="line2d_66">
<path d="M 1167.453062 328.674763 L 1729 328.674763" clip-path="url(#p35f3541ee9)" class="c25"/>
</g>
<g id="LineCollection_2">
<path d="M 1167.453062 328.674763 L 1167.453062 328.239717" clip-path="url(#p35f3541ee9)" class="c24"/>
<path d="M 1170.039125 328.674763 L 1170.039125 328.386362" clip-path="url(#p35f3541ee9)" class="c24"/>
<path d="M 1172.625188 328.674763 L 1172.625188 328.501885" clip-path="url(#p35f3541ee9)" class="c24"/>
<path d="M 1175.211251 328.674763 L 1175.211251 328.400656" clip-path="url(#p35f3541ee9)" class="c24"/>
<path d="M 1177.797314 328.674763 L 1177.797314 328.362114" clip-path="url(#p35f3541ee9)" class="c24"/>
<path d="M 1180.383377 328.674763 L 1180.383377 328.21963" clip-path="url(#p35f3541ee9)" class="c24"/>
<path d="M 1182.96944 328.674763 L 1182.96944 328.463689" clip-path="url(#p35f3541ee9)" class="c24"/>
<path d="M 1185.555504 328.674763 L 1185.555504 328.250646" clip-path="url(#p35f3541ee9)" class="c24"/>
<path d="M 1188.141567 328.674763 L 1188.141567 328.430376" clip-path="url(#p35f3541ee9)" class="c24"/>
<path d="M 1190.72763 328.674763 L 1190.72763 328.206536" clip-path="url(#p35f3541ee9)" class="c24"/>
<path d="M 1193.313693 328.674763 L 1193.313693 328.290491" clip-path="url(#p35f3541ee9)" class="c24"/>
<path d="M 1195.899756 328.674763 L 1195.899756 328.252932" clip-path="url(#p35f3541ee9)" class="c24"/>
<path d="M 1198.485819 328.674763 L 1198.485819 328.341798" clip-path="url(#p35f3541ee9)" class="c24"/>
<path d="M 1201.071882 328.674763 L 1201.071882 328.373835" clip-path="url(#p35f3541ee9)" class="c24"/>
<path d="M 1203.657945 328.674763 L 1203.657945 328.395531" clip-path="url(#p35f3541ee9)" class="c24"/>
<path d="M 1206.244008 328.674763 L 1206.244008 328.419572" clip-path="url(#p35f3541ee9)" class="c24"/>
<path d="M 1208.830071 328.674763 L 1208.830071 328.103113" clip-path="url(#p35f3541ee9)" class="c24"/>
<path d="M 1211.416134 328.674763 L 1211.416134 328.135017" clip-path="url(#p35f3541ee9)" class="c24"/>
<path d="M 1214.002197 328.674763 L 1214.002197 328.02637" clip-path="url(#p35f3541ee9)" class="c24"/>
<path d="M 1216.58826 328.674763 L 1216.58826 328.396851" clip-path="url(#p35f3541ee9)" class="c24"/>
<path d="M 1219.174323 328.674763 L 1219.174323 327.851173" clip-path="url(#p35f3541ee9)" class="c24"/>
<path d="M 1221.760387 328.674763 L 1221.760387 327.984855" clip-path="url(#p35f3541ee9)" class="c24"/>
<path d="M 1224.34645 328.674763 L 1224.34645 327.783882" clip-path="url(#p35f3541ee9)" class="c24"/>
<path d="M 1226.932513 328.674763 L 1226.932513 327.918147" clip-path="url(#p35f3541ee9)" class="c24"/>
<path d="M 1229.518576 328.674763 L 1229.518576 328.267025" clip-path="url(#p35f3541ee9)" class="c24"/>
<path d="M 1232.104639 328.674763 L 1232.104639 328.396697" clip-path="url(#p35f3541ee9)" class="c24"/>
<path d="M 1234.690702 328.674763 L 1234.690702 328.404786" clip-path="url(#p35f3541ee9)" class="c24"/>
<path d="M 1237.276765 328.674763 L 1237.276765 327.941157" clip-path="url(#p35f3541ee9)" class="c24"/>
<path d="M 1239.862828 328.674763 L 1239.862828 327.183983" clip-path="url(#p35f3541ee9)" class="c24"/>
<path d="M 1242.448891 328.674763 L 1242.448891 328.250245" clip-path="url(#p35f3541ee9)" class="c24"/>
<path d="M 1245.034954 328.674763 L 1245.034954 327.946337" clip-path="url(#p35f3541ee9)" class="c24"/>
<path d="M 1247.621017 328.674763 L 1247.621017 327.364113" clip-path="url(#p35f3541ee9)" class="c24"/>
<path d="M 1250.20708 328.674763 L 1250.20708 327.018396" clip-path="url(#p35f3541ee9)" class="c24"/>
<path d="M 1252.793143 328.674763 L 1252.793143 327.769185" clip-path="url(#p35f3541ee9)" class="c24"/>
<path d="M 1255.379207 328.674763 L 1255.379207 328.221967" clip-path="url(#p35f3541ee9)" class="c24"/>
<path d="M 1257.96527 328.674763 L 1257.96527 327.970975" clip-path="url(#p35f3541ee9)" class="c24"/>
<path d="M 1260.551333 328.674763 L 1260.551333 328.114286" clip-path="url(#p35f3541ee9)" class="c24"/>
<path d="M 1263.137396 328.674763 L 1263.137396 328.128852" clip-path="url(#p35f3541ee9)" class="c24"/>
<path d="M 1265.723459 328.674763 L 1265.723459 327.832843" clip-path="url(#p35f3541ee9)" class="c24"/>
<path d="M 1268.309522 328.674763 L 1268.309522 328.005771" clip-path="url(#p35f3541ee9)" class="c24"/>
<path d="M 1270.895585 328.674763 L 1270.895585 327.369269" clip-path="url(#p35f3541ee9)" class="c24"/>
<path d="M 1273.481648 328.674763 L 1273.481648 327.768682" clip-path="url(#p35f3541ee9)" class="c24"/>
<path d="M 1276.067711 328.674763 L 1276.067711 327.343662" clip-path="url(#p35f3541ee9)" class="c24"/>
<path d="M 1278.653774 328.674763 L 1278.653774 327.987161" clip-path="url(#p35f3541ee9)" class="c24"/>
<path d="M 1281.239837 328.674763 L 1281.239837 328.107094" clip-path="url(#p35f3541ee9)" class="c24"/>
<path d="M 1283.8259 328.674763 L 1283.8259 328.030643" clip-path="url(#p35f3541ee9)" class="c24"/>
<path d="M 1286.411963 328.674763 L 1286.411963 327.305855" clip-path="url(#p35f3541ee9)" class="c24"/>
<path d="M 1288.998026 328.674763 L 1288.998026 325.843408" clip-path="url(#p35f3541ee9)" class="c24"/>
<path d="M 1291.58409 328.674763 L 1291.58409 324.89345" clip-path="url(#p35f3541ee9)" class="c24"/>
<path d="M 1294.170153 328.674763 L 1294.170153 324.803589" clip-path="url(#p35f3541ee9)" class="c24"/>
<path d="M 1296.756216 328.674763 L 1296.756216 327.1146" clip-path="url(#p35f3541ee9)" class="c24"/>
<path d="M 1299.342279 328.674763 L 1299.342279 326.944297" clip-path="url(#p35f3541ee9)" class="c24"/>
<path d="M 1301.928342 328.674763 L 1301.928342 327.269777" clip-path="url(#p35f3541ee9)" class="c24"/>
<path d="M 1304.514405 328.674763 L 1304.514405 325.850687" clip-path="url(#p35f3541ee9)" class="c24"/>
<path d="M 1307.100468 328.674763 L 1307.100468 327.414301" clip-path="url(#p35f3541ee9)" class="c24"/>
<path d="M 1309.686531 328.674763 L 1309.686531 327.734636" clip-path="url(#p35f3541ee9)" class="c24"/>
<path d="M 1312.272594 328.674763 L 1312.272594 325.591995" clip-path="url(#p35f3541ee9)" class="c24"/>
<path d="M 1314.858657 328.674763 L 1314.858657 325.778078" clip-path="url(#p35f3541ee9)" class="c24"/>
<path d="M 1317.44472 328.674763 L 1317.44472 327.083571" clip-path="url(#p35f3541ee9)" class="c24"/>
<path d="M 1320.030783 328.674763 L 1320.030783 327.863642" clip-path="url(#p35f3541ee9)" class="c24"/>
<path d="M 1322.616846 328.674763 L 1322.616846 327.941359" clip-path="url(#p35f3541ee9)" class="c24"/>
<path d="M 1325.202909 328.674763 L 1325.202909 327.71722" clip-path="url(#p35f3541ee9)" class="c24"/>
<path d="M 1327.788973 328.674763 L 1327.788973 327.36047" clip-path="url(#p35f3541ee9)" class="c24"/>
<path d="M 1330.375036 328.674763 L 1330.375036 327.444966" clip-path="url(#p35f3541ee9)" class="c24"/>
<path d="M 1332.961099 328.674763 L 1332.961099 327.970611" clip-path="url(#p35f3541ee9)" class="c24"/>
<path d="M 1335.547162 328.674763 L 1335.547162 327.945363" clip-path="url(#p35f3541ee9)" class="c24"/>
<path d="M 1338.133225 328.674763 L 1338.133225 326.596168" clip-path="url(#p35f3541ee9)" class="c24"/>
<path d="M 1340.719288 328.674763 L 1340.719288 325.565971" clip-path="url(#p35f3541ee9)" class="c24"/>
<path d="M 1343.305351 328.674763 L 1343.305351 326.088374" clip-path="url(#p35f3541ee9)" class="c24"/>
<path d="M 1345.891414 328.674763 L 1345.891414 328.003951" clip-path="url(#p35f3541ee9)" class="c24"/>
<path d="M 1348.477477 328.674763 L 1348.477477 327.90299" clip-path="url(#p35f3541ee9)" class="c24"/>
<path d="M 1351.06354 328.674763 L 1351.06354 327.372011" clip-path="url(#p35f3541ee9)" class="c24"/>
<path d="M 1353.649603 328.674763 L 1353.649603 327.713717" clip-path="url(#p35f3541ee9)" class="c24"/>
<path d="M 1356.235666 328.674763 L 1356.235666 327.985191" clip-path="url(#p35f3541ee9)" class="c24"/>
<path d="M 1358.821729 328.674763 L 1358.821729 326.343677" clip-path="url(#p35f3541ee9)" class="c24"/>
<path d="M 1361.407792 328.674763 L 1361.407792 325.3246" clip-path="url(#p35f3541ee9)" class="c24"/>
<path d="M 1363.993856 328.674763 L 1363.993856 325.303068" clip-path="url(#p35f3541ee9)" class="c24"/>
<path d="M 1366.579919 328.674763 L 1366.579919 325.982154" clip-path="url(#p35f3541ee9)" class="c24"/>
<path d="M 1369.165982 328.674763 L 1369.165982 327.726344" clip-path="url(#p35f3541ee9)" class="c24"/>
<path d="M 1371.752045 328.674763 L 1371.752045 325.703312" clip-path="url(#p35f3541ee9)" class="c24"/>
<path d="M 1374.338108 328.674763 L 1374.338108 324.96045" clip-path="url(#p35f3541ee9)" class="c24"/>
<path d="M 1376.924171 328.674763 L 1376.924171 319.76041" clip-path="url(#p35f3541ee9)" class="c24"/>
<path d="M 1379.510234 328.674763 L 1379.510234 313.817509" clip-path="url(#p35f3541ee9)" class="c24"/>
<path d="M 1382.096297 328.674763 L 1382.096297 307.131744" clip-path="url(#p35f3541ee9)" class="c24"/>
<path d="M 1384.68236 328.674763 L 1384.68236 299.703117" clip-path="url(#p35f3541ee9)" class="c24"/>
<path d="M 1387.268423 328.674763 L 1387.268423 295.394513" clip-path="url(#p35f3541ee9)" class="c24"/>
<path d="M 1389.854486 328.674763 L 1389.854486 304.903156" clip-path="url(#p35f3541ee9)" class="c24"/>
<path d="M 1392.440549 328.674763 L 1392.440549 316.78896" clip-path="url(#p35f3541ee9)" class="c24"/>
<path d="M 1395.026612 328.674763 L 1395.026612 298.960254" clip-path="url(#p35f3541ee9)" class="c24"/>
<path d="M 1397.612675 328.674763 L 1397.612675 301.04027" clip-path="url(#p35f3541ee9)" class="c24"/>
<path d="M 1400.198739 328.674763 L 1400.198739 302.22885" clip-path="url(#p35f3541ee9)" class="c24"/>
<path d="M 1402.784802 328.674763 L 1402.784802 299.703117" clip-path="url(#p35f3541ee9)" class="c24"/>
<path d="M 1405.370865 328.674763 L 1405.370865 305.943164" clip-path="url(#p35f3541ee9)" class="c24"/>
<path d="M 1407.956928 328.674763 L 1407.956928 310.846058" clip-path="url(#p35f3541ee9)" class="c24"/>
<path d="M 1410.542991 328.674763 L 1410.542991 282.914419" clip-path="url(#p35f3541ee9)" class="c24"/>
<path d="M 1413.129054 328.674763 L 1413.129054 297.920246" clip-path="url(#p35f3541ee9)" class="c24"/>
<path d="M 1415.715117 328.674763 L 1415.715117 303.714575" clip-path="url(#p35f3541ee9)" class="c24"/>
<path d="M 1418.30118 328.674763 L 1418.30118 260.925682" clip-path="url(#p35f3541ee9)" class="c24"/>
<path d="M 1420.887243 328.674763 L 1420.887243 283.805854" clip-path="url(#p35f3541ee9)" class="c24"/>
<path d="M 1423.473306 328.674763 L 1423.473306 264.788568" clip-path="url(#p35f3541ee9)" class="c24"/>
<path d="M 1426.059369 328.674763 L 1426.059369 144.444805" clip-path="url(#p35f3541ee9)" class="c24"/>
<path d="M 1428.645432 328.674763 L 1428.645432 79.072884" clip-path="url(#p35f3541ee9)" class="c24"/>
<path d="M 1431.231495 328.674763 L 1431.231495 110.273119" clip-path="url(#p35f3541ee9)" class="c24"/>
<path d="M 1433.817558 328.674763 L 1433.817558 213.531039" clip-path="url(#p35f3541ee9)" class="c24"/>
<path d="M 1436.403622 328.674763 L 1436.403622 308.468897" clip-path="url(#p35f3541ee9)" class="c24"/>
<path d="M 1438.989685 328.674763 L 1438.989685 288.114458" clip-path="url(#p35f3541ee9)" class="c24"/>
<path d="M 1441.575748 328.674763 L 1441.575748 296.880238" clip-path="url(#p35f3541ee9)" class="c24"/>
<path d="M 1444.161811 328.674763 L 1444.161811 319.76041" clip-path="url(#p35f3541ee9)" class="c24"/>
<path d="M 1446.747874 328.674763 L 1446.747874 314.411799" clip-path="url(#p35f3541ee9)" class="c24"/>
<path d="M 1449.333937 328.674763 L 1449.333937 317.828967" clip-path="url(#p35f3541ee9)" class="c24"/>
<path d="M 1451.92 328.674763 L 1451.92 322.731861" clip-path="url(#p35f3541ee9)" class="c24"/>
<path d="M 1454.506063 328.674763 L 1454.506063 317.828967" clip-path="url(#p35f3541ee9)" class="c24"/>
<path d="M 1457.092126 328.674763 L 1457.092126 314.411799" clip-path="url(#p35f3541ee9)" class="c24"/>
<path d="M 1459.678189 328.674763 L 1459.678189 319.76041" clip-path="url(#p35f3541ee9)" class="c24"/>
<path d="M 1462.264252 328.674763 L 1462.264252 296.880238" clip-path="url(#p35f3541ee9)" class="c24"/>
<path d="M 1464.850315 328.674763 L 1464.850315 288.114458" clip-path="url(#p35f3541ee9)" class="c24"/>
<path d="M 1467.436378 328.674763 L 1467.436378 308.468897" clip-path="url(#p35f3541ee9)" class="c24"/>
<path d="M 1470.022442 328.674763 L 1470.022442 213.531039" clip-path="url(#p35f3541ee9)" class="c24"/>
<path d="M 1472.608505 328.674763 L 1472.608505 110.273119" clip-path="url(#p35f3541ee9)" class="c24"/>
<path d="M 1475.194568 328.674763 L 1475.194568 79.072884" clip-path="url(#p35f3541ee9)" class="c24"/>
<path d="M 1477.780631 328.674763 L 1477.780631 144.444805" clip-path="url(#p35f3541ee9)" class="c24"/>
<path d="M 1480.366694 328.674763 L 1480.366694 264.788568" clip-path="url(#p35f3541ee9)" class="c24"/>
<path d="M 1482.952757 328.674763 L 1482.952757 283.805854" clip-path="url(#p35f3541ee9)" class="c24"/>
<path d="M 1485.53882 328.674763 L 1485.53882 260.925682" clip-path="url(#p35f3541ee9)" class="c24"/>
<path d="M 1488.124883 328.674763 L 1488.124883 303.714575" clip-path="url(#p35f3541ee9)" class="c24"/>
<path d="M 1490.710946 328.674763 L 1490.710946 297.920246" clip-path="url(#p35f3541ee9)" class="c24"/>
<path d="M 1493.297009 328.674763 L 1493.297009 282.914419" clip-path="url(#p35f3541ee9)" class="c24"/>
<path d="M 1495.883072 328.674763 L 1495.883072 310.846058" clip-path="url(#p35f3541ee9)" class="c24"/>
<path d="M 1498.469135 328.674763 L 1498.469135 305.943164" clip-path="url(#p35f3541ee9)" class="c24"/>
<path d="M 1501.055198 328.674763 L 1501.055198 299.703117" clip-path="url(#p35f3541ee9)" class="c24"/>
<path d="M 1503.641261 328.674763 L 1503.641261 302.22885" clip-path="url(#p35f3541ee9)" class="c24"/>
<path d="M 1506.227325 328.674763 L 1506.227325 301.04027" clip-path="url(#p35f3541ee9)" class="c24"/>
<path d="M 1508.813388 328.674763 L 1508.813388 298.960254" clip-path="url(#p35f3541ee9)" class="c24"/>
<path d="M 1511.399451 328.674763 L 1511.399451 316.78896" clip-path="url(#p35f3541ee9)" class="c24"/>
<path d="M 1513.985514 328.674763 L 1513.985514 304.903156" clip-path="url(#p35f3541ee9)" class="c24"/>
<path d="M 1516.571577 328.674763 L 1516.571577 295.394513" clip-path="url(#p35f3541ee9)" class="c24"/>
<path d="M 1519.15764 328.674763 L 1519.15764 299.703117" clip-path="url(#p35f3541ee9)" class="c24"/>
<path d="M 1521.743703 328.674763 L 1521.743703 307.131744" clip-path="url(#p35f3541ee9)" class="c24"/>
<path d="M 1524.329766 328.674763 L 1524.329766 313.817509" clip-path="url(#p35f3541ee9)" class="c24"/>
<path d="M 1526.915829 328.674763 L 1526.915829 319.76041" clip-path="url(#p35f3541ee9)" class="c24"/>
<path d="M 1529.501892 328.674763 L 1529.501892 324.96045" clip-path="url(#p35f3541ee9)" class="c24"/>
<path d="M 1532.087955 328.674763 L 1532.087955 325.703312" clip-path="url(#p35f3541ee9)" class="c24"/>
<path d="M 1534.674018 328.674763 L 1534.674018 327.726344" clip-path="url(#p35f3541ee9)" class="c24"/>
<path d="M 1537.260081 328.674763 L 1537.260081 325.982154" clip-path="url(#p35f3541ee9)" class="c24"/>
<path d="M 1539.846144 328.674763 L 1539.846144 325.303068" clip-path="url(#p35f3541ee9)" class="c24"/>
<path d="M 1542.432208 328.674763 L 1542.432208 325.3246" clip-path="url(#p35f3541ee9)" class="c24"/>
<path d="M 1545.018271 328.674763 L 1545.018271 326.343677" clip-path="url(#p35f3541ee9)" class="c24"/>
<path d="M 1547.604334 328.674763 L 1547.604334 327.985191" clip-path="url(#p35f3541ee9)" class="c24"/>
<path d="M 1550.190397 328.674763 L 1550.190397 327.713717" clip-path="url(#p35f3541ee9)" class="c24"/>
<path d="M 1552.77646 328.674763 L 1552.77646 327.372011" clip-path="url(#p35f3541ee9)" class="c24"/>
<path d="M 1555.362523 328.674763 L 1555.362523 327.90299" clip-path="url(#p35f3541ee9)" class="c24"/>
<path d="M 1557.948586 328.674763 L 1557.948586 328.003951" clip-path="url(#p35f3541ee9)" class="c24"/>
<path d="M 1560.534649 328.674763 L 1560.534649 326.088374" clip-path="url(#p35f3541ee9)" class="c24"/>
<path d="M 1563.120712 328.674763 L 1563.120712 325.565971" clip-path="url(#p35f3541ee9)" class="c24"/>
<path d="M 1565.706775 328.674763 L 1565.706775 326.596168" clip-path="url(#p35f3541ee9)" class="c24"/>
<path d="M 1568.292838 328.674763 L 1568.292838 327.945363" clip-path="url(#p35f3541ee9)" class="c24"/>
<path d="M 1570.878901 328.674763 L 1570.878901 327.970611" clip-path="url(#p35f3541ee9)" class="c24"/>
<path d="M 1573.464964 328.674763 L 1573.464964 327.444966" clip-path="url(#p35f3541ee9)" class="c24"/>
<path d="M 1576.051027 328.674763 L 1576.051027 327.36047" clip-path="url(#p35f3541ee9)" class="c24"/>
<path d="M 1578.637091 328.674763 L 1578.637091 327.71722" clip-path="url(#p35f3541ee9)" class="c24"/>
<path d="M 1581.223154 328.674763 L 1581.223154 327.941359" clip-path="url(#p35f3541ee9)" class="c24"/>
<path d="M 1583.809217 328.674763 L 1583.809217 327.863642" clip-path="url(#p35f3541ee9)" class="c24"/>
<path d="M 1586.39528 328.674763 L 1586.39528 327.083571" clip-path="url(#p35f3541ee9)" class="c24"/>
<path d="M 1588.981343 328.674763 L 1588.981343 325.778078" clip-path="url(#p35f3541ee9)" class="c24"/>
<path d="M 1591.567406 328.674763 L 1591.567406 325.591995" clip-path="url(#p35f3541ee9)" class="c24"/>
<path d="M 1594.153469 328.674763 L 1594.153469 327.734636" clip-path="url(#p35f3541ee9)" class="c24"/>
<path d="M 1596.739532 328.674763 L 1596.739532 327.414301" clip-path="url(#p35f3541ee9)" class="c24"/>
<path d="M 1599.325595 328.674763 L 1599.325595 325.850687" clip-path="url(#p35f3541ee9)" class="c24"/>
<path d="M 1601.911658 328.674763 L 1601.911658 327.269777" clip-path="url(#p35f3541ee9)" class="c24"/>
<path d="M 1604.497721 328.674763 L 1604.497721 326.944297" clip-path="url(#p35f3541ee9)" class="c24"/>
<path d="M 1607.083784 328.674763 L 1607.083784 327.1146" clip-path="url(#p35f3541ee9)" class="c24"/>
<path d="M 1609.669847 328.674763 L 1609.669847 324.803589" clip-path="url(#p35f3541ee9)" class="c24"/>
<path d="M 1612.25591 328.674763 L 1612.25591 324.89345" clip-path="url(#p35f3541ee9)" class="c24"/>
<path d="M 1614.841974 328.674763 L 1614.841974 325.843408" clip-path="url(#p35f3541ee9)" class="c24"/>
<path d="M 1617.428037 328.674763 L 1617.428037 327.305855" clip-path="url(#p35f3541ee9)" class="c24"/>
<path d="M 1620.0141 328.674763 L 1620.0141 328.030643" clip-path="url(#p35f3541ee9)" class="c24"/>
<path d="M 1622.600163 328.674763 L 1622.600163 328.107094" clip-path="url(#p35f3541ee9)" class="c24"/>
<path d="M 1625.186226 328.674763 L 1625.186226 327.987161" clip-path="url(#p35f3541ee9)" class="c24"/>
<path d="M 1627.772289 328.674763 L 1627.772289 327.343662" clip-path="url(#p35f3541ee9)" class="c24"/>
<path d="M 1630.358352 328.674763 L 1630.358352 327.768682" clip-path="url(#p35f3541ee9)" class="c24"/>
<path d="M 1632.944415 328.674763 L 1632.944415 327.369269" clip-path="url(#p35f3541ee9)" class="c24"/>
<path d="M 1635.530478 328.674763 L 1635.530478 328.005771" clip-path="url(#p35f3541ee9)" class="c24"/>
<path d="M 1638.116541 328.674763 L 1638.116541 327.832843" clip-path="url(#p35f3541ee9)" class="c24"/>
<path d="M 1640.702604 328.674763 L 1640.702604 328.128852" clip-path="url(#p35f3541ee9)" class="c24"/>
<path d="M 1643.288667 328.674763 L 1643.288667 328.114286" clip-path="url(#p35f3541ee9)" class="c24"/>
<path d="M 1645.87473 328.674763 L 1645.87473 327.970975" clip-path="url(#p35f3541ee9)" class="c24"/>
<path d="M 1648.460793 328.674763 L 1648.460793 328.221967" clip-path="url(#p35f3541ee9)" class="c24"/>
<path d="M 1651.046857 328.674763 L 1651.046857 327.769185" clip-path="url(#p35f3541ee9)" class="c24"/>
<path d="M 1653.63292 328.674763 L 1653.63292 327.018396" clip-path="url(#p35f3541ee9)" class="c24"/>
<path d="M 1656.218983 328.674763 L 1656.218983 327.364113" clip-path="url(#p35f3541ee9)" class="c24"/>
<path d="M 1658.805046 328.674763 L 1658.805046 327.946337" clip-path="url(#p35f3541ee9)" class="c24"/>
<path d="M 1661.391109 328.674763 L 1661.391109 328.250245" clip-path="url(#p35f3541ee9)" class="c24"/>
<path d="M 1663.977172 328.674763 L 1663.977172 327.183983" clip-path="url(#p35f3541ee9)" class="c24"/>
<path d="M 1666.563235 328.674763 L 1666.563235 327.941157" clip-path="url(#p35f3541ee9)" class="c24"/>
<path d="M 1669.149298 328.674763 L 1669.149298 328.404786" clip-path="url(#p35f3541ee9)" class="c24"/>
<path d="M 1671.735361 328.674763 L 1671.735361 328.396697" clip-path="url(#p35f3541ee9)" class="c24"/>
<path d="M 1674.321424 328.674763 L 1674.321424 328.267025" clip-path="url(#p35f3541ee9)" class="c24"/>
<path d="M 1676.907487 328.674763 L 1676.907487 327.918147" clip-path="url(#p35f3541ee9)" class="c24"/>
<path d="M 1679.49355 328.674763 L 1679.49355 327.783882" clip-path="url(#p35f3541ee9)" class="c24"/>
<path d="M 1682.079613 328.674763 L 1682.079613 327.984855" clip-path="url(#p35f3541ee9)" class="c24"/>
<path d="M 1684.665677 328.674763 L 1684.665677 327.851173" clip-path="url(#p35f3541ee9)" class="c24"/>
<path d="M 1687.25174 328.674763 L 1687.25174 328.396851" clip-path="url(#p35f3541ee9)" class="c24"/>
<path d="M 1689.837803 328.674763 L 1689.837803 328.02637" clip-path="url(#p35f3541ee9)" class="c24"/>
<path d="M 1692.423866 328.674763 L 1692.423866 328.135017" clip-path="url(#p35f3541ee9)" class="c24"/>
<path d="M 1695.009929 328.674763 L 1695.009929 328.103113" clip-path="url(#p35f3541ee9)" class="c24"/>
<path d="M 1697.595992 328.674763 L 1697.595992 328.419572" clip-path="url(#p35f3541ee9)" class="c24"/>
<path d="M 1700.182055 328.674763 L 1700.182055 328.395531" clip-path="url(#p35f3541ee9)" class="c24"/>
<path d="M 1702.768118 328.674763 L 1702.768118 328.373835" clip-path="url(#p35f3541ee9)" class="c24"/>
<path d="M 1705.354181 328.674763 L 1705.354181 328.341798" clip-path="url(#p35f3541ee9)" class="c24"/>
<path d="M 1707.940244 328.674763 L 1707.940244 328.252932" clip-path="url(#p35f3541ee9)" class="c24"/>
<path d="M 1710.526307 328.674763 L 1710.526307 328.290491" clip-path="url(#p35f3541ee9)" class="c24"/>
<path d="M 1713.11237 328.674763 L 1713.11237 328.206536" clip-path="url(#p35f3541ee9)" class="c24"/>
<path d="M 1715.698433 328.674763 L 1715.698433 328.430376" clip-path="url(#p35f3541ee9)" class="c24"/>
<path d="M 1718.284496 328.674763 L 1718.284496 328.250646" clip-path="url(#p35f3541ee9)" class="c24"/>
<path d="M 1720.87056 328.674763 L 1720.87056 328.463689" clip-path="url(#p35f3541ee9)" class="c24"/>
<path d="M 1723.456623 328.674763 L 1723.456623 328.21963" clip-path="url(#p35f3541ee9)" class="c24"/>
<path d="M 1726.042686 328.674763 L 1726.042686 328.362114" clip-path="url(#p35f3541ee9)" class="c24"/>
<path d="M 1728.628749 328.674763 L 1728.628749 328.400656" clip-path="url(#p35f3541ee9)" class="c24"/>
<path clip-path="url(#p35f3541ee9)" class="c24"/>
<path clip-path="url(#p35f3541ee9)" class="c24"/>
<path clip-path="url(#p35f3541ee9)" class="c24"/>
</g>
<g id="line2d_67">
<g clip-path="url(#p35f3541ee9)">
<path d="M -3 3 L 3 -3 M -3 -3 L 3 3" transform="translate(1167.45 328.24)" class="c6"/>
<path d="M -3 3 L 3 -3 M -3 -3 L 3 3" transform="translate(1170.04 328.39)" class="c6"/>
<path d="M -3 3 L 3 -3 M -3 -3 L 3 3" transform="translate(1172.63 328.5)" class="c6"/>
<path d="M -3 3 L 3 -3 M -3 -3 L 3 3" transform="translate(1175.21 328.4)" class="c6"/>
<path d="M -3 3 L 3 -3 M -3 -3 L 3 3" transform="translate(1177.8 328.36)" class="c6"/>
<path d="M -3 3 L 3 -3 M -3 -3 L 3 3" transform="translate(1180.38 328.22)" class="c6"/>
<path d="M -3 3 L 3 -3 M -3 -3 L 3 3" transform="translate(1182.97 328.46)" class="c6"/>
<path d="M -3 3 L 3 -3 M -3 -3 L 3 3" transform="translate(1185.56 328.25)" class="c6"/>
<path d="M -3 3 L 3 -3 M -3 -3 L 3 3" transform="translate(1188.14 328.43)" class="c6"/>
<path d="M -3 3 L 3 -3 M -3 -3 L 3 3" transform="translate(1190.73 328.21)" class="c6"/>
<path d="M -3 3 L 3 -3 M -3 -3 L 3 3" transform="translate(1193.31 328.29)" class="c6"/>
<path d="M -3 3 L 3 -3 M -3 -3 L 3 3" transform="translate(1195.9 328.25)" class="c6"/>
<path d="M -3 3 L 3 -3 M -3 -3 L 3 3" transform="translate(1198.49 328.34)" class="c6"/>
<path d="M -3 3 L 3 -3 M -3 -3 L 3 3" transform="translate(1201.07 328.37)" class="c6"/>
<path d="M -3 3 L 3 -3 M -3 -3 L 3 3" transform="translate(1203.66 328.4)" class="c6"/>
<path d="M -3 3 L 3 -3 M -3 -3 L 3 3" transform="translate(1206.24 328.42)" class="c6"/>
<path d="M -3 3 L 3 -3 M -3 -3 L 3 3" transform="translate(1208.83 328.1)" class="c6"/>
<path d="M -3 3 L 3 -3 M -3 -3 L 3 3" transform="translate(1211.42 328.14)" class="c6"/>
<path d="M -3 3 L 3 -3 M -3 -3 L 3 3" transform="translate(1214 328.03)" class="c6"/>
<path d="M -3 3 L 3 -3 M -3 -3 L 3 3" transform="translate(1216.59 328.4)" class="c6"/>
<path d="M -3 3 L 3 -3 M -3 -3 L 3 3" transform="translate(1219.17 327.85)" class="c6"/>
<path d="M -3 3 L 3 -3 M -3 -3 L 3 3" transform="translate(1221.76 327.98)" class="c6"/>
<path d="M -3 3 L 3 -3 M -3 -3 L 3 3" transform="translate(1224.35 327.78)" class="c6"/>
<path d="M -3 3 L 3 -3 M -3 -3 L 3 3" transform="translate(1226.93 327.92)" class="c6"/>
<path d="M -3 3 L 3 -3 M -3 -3 L 3 3" transform="translate(1229.52 328.27)" class="c6"/>
<path d="M -3 3 L 3 -3 M -3 -3 L 3 3" transform="translate(1232.1 328.4)" class="c6"/>
<path d="M -3 3 L 3 -3 M -3 -3 L 3 3" transform="translate(1234.69 328.4)" class="c6"/>
<path d="M -3 3 L 3 -3 M -3 -3 L 3 3" transform="translate(1237.28 327.94)" class="c6"/>
<path d="M -3 3 L 3 -3 M -3 -3 L 3 3" transform="translate(1239.86 327.18)" class="c6"/>
<path d="M -3 3 L 3 -3 M -3 -3 L 3 3" transform="translate(1242.45 328.25)" class="c6"/>
<path d="M -3 3 L 3 -3 M -3 -3 L 3 3" transform="translate(1245.03 327.95)" class="c6"/>
<path d="M -3 3 L 3 -3 M -3 -3 L 3 3" transform="translate(1247.62 327.36)" class="c6"/>
<path d="M -3 3 L 3 -3 M -3 -3 L 3 3" transform="translate(1250.21 327.02)" class="c6"/>
<path d="M -3 3 L 3 -3 M -3 -3 L 3 3" transform="translate(1252.79 327.77)" class="c6"/>
<path d="M -3 3 L 3 -3 M -3 -3 L 3 3" transform="translate(1255.38 328.22)" class="c6"/>
<path d="M -3 3 L 3 -3 M -3 -3 L 3 3" transform="translate(1257.97 327.97)" class="c6"/>
<path d="M -3 3 L 3 -3 M -3 -3 L 3 3" transform="translate(1260.55 328.11)" class="c6"/>
<path d="M -3 3 L 3 -3 M -3 -3 L 3 3" transform="translate(1263.14 328.13)" class="c6"/>
<path d="M -3 3 L 3 -3 M -3 -3 L 3 3" transform="translate(1265.72 327.83)" class="c6"/>
<path d="M -3 3 L 3 -3 M -3 -3 L 3 3" transform="translate(1268.31 328.01)" class="c6"/>
<path d="M -3 3 L 3 -3 M -3 -3 L 3 3" transform="translate(1270.9 327.37)" class="c6"/>
<path d="M -3 3 L 3 -3 M -3 -3 L 3 3" transform="translate(1273.48 327.77)" class="c6"/>
<path d="M -3 3 L 3 -3 M -3 -3 L 3 3" transform="translate(1276.07 327.34)" class="c6"/>
<path d="M -3 3 L 3 -3 M -3 -3 L 3 3" transform="translate(1278.65 327.99)" class="c6"/>
<path d="M -3 3 L 3 -3 M -3 -3 L 3 3" transform="translate(1281.24 328.11)" class="c6"/>
<path d="M -3 3 L 3 -3 M -3 -3 L 3 3" transform="translate(1283.83 328.03)" class="c6"/>
<path d="M -3 3 L 3 -3 M -3 -3 L 3 3" transform="translate(1286.41 327.31)" class="c6"/>
<path d="M -3 3 L 3 -3 M -3 -3 L 3 3" transform="translate(1289 325.84)" class="c6"/>
<path d="M -3 3 L 3 -3 M -3 -3 L 3 3" transform="translate(1291.58 324.89)" class="c6"/>
<path d="M -3 3 L 3 -3 M -3 -3 L 3 3" transform="translate(1294.17 324.8)" class="c6"/>
<path d="M -3 3 L 3 -3 M -3 -3 L 3 3" transform="translate(1296.76 327.11)" class="c6"/>
<path d="M -3 3 L 3 -3 M -3 -3 L 3 3" transform="translate(1299.34 326.94)" class="c6"/>
<path d="M -3 3 L 3 -3 M -3 -3 L 3 3" transform="translate(1301.93 327.27)" class="c6"/>
<path d="M -3 3 L 3 -3 M -3 -3 L 3 3" transform="translate(1304.51 325.85)" class="c6"/>
<path d="M -3 3 L 3 -3 M -3 -3 L 3 3" transform="translate(1307.1 327.41)" class="c6"/>
<path d="M -3 3 L 3 -3 M -3 -3 L 3 3" transform="translate(1309.69 327.73)" class="c6"/>
<path d="M -3 3 L 3 -3 M -3 -3 L 3 3" transform="translate(1312.27 325.59)" class="c6"/>
<path d="M -3 3 L 3 -3 M -3 -3 L 3 3" transform="translate(1314.86 325.78)" class="c6"/>
<path d="M -3 3 L 3 -3 M -3 -3 L 3 3" transform="translate(1317.44 327.08)" class="c6"/>
<path d="M -3 3 L 3 -3 M -3 -3 L 3 3" transform="translate(1320.03 327.86)" class="c6"/>
<path d="M -3 3 L 3 -3 M -3 -3 L 3 3" transform="translate(1322.62 327.94)" class="c6"/>
<path d="M -3 3 L 3 -3 M -3 -3 L 3 3" transform="translate(1325.2 327.72)" class="c6"/>
<path d="M -3 3 L 3 -3 M -3 -3 L 3 3" transform="translate(1327.79 327.36)" class="c6"/>
<path d="M -3 3 L 3 -3 M -3 -3 L 3 3" transform="translate(1330.38 327.44)" class="c6"/>
<path d="M -3 3 L 3 -3 M -3 -3 L 3 3" transform="translate(1332.96 327.97)" class="c6"/>
<path d="M -3 3 L 3 -3 M -3 -3 L 3 3" transform="translate(1335.55 327.95)" class="c6"/>
<path d="M -3 3 L 3 -3 M -3 -3 L 3 3" transform="translate(1338.13 326.6)" class="c6"/>
<path d="M -3 3 L 3 -3 M -3 -3 L 3 3" transform="translate(1340.72 325.57)" class="c6"/>
<path d="M -3 3 L 3 -3 M -3 -3 L 3 3" transform="translate(1343.31 326.09)" class="c6"/>
<path d="M -3 3 L 3 -3 M -3 -3 L 3 3" transform="translate(1345.89 328)" class="c6"/>
<path d="M -3 3 L 3 -3 M -3 -3 L 3 3" transform="translate(1348.48 327.9)" class="c6"/>
<path d="M -3 3 L 3 -3 M -3 -3 L 3 3" transform="translate(1351.06 327.37)" class="c6"/>
<path d="M -3 3 L 3 -3 M -3 -3 L 3 3" transform="translate(1353.65 327.71)" class="c6"/>
<path d="M -3 3 L 3 -3 M -3 -3 L 3 3" transform="translate(1356.24 327.99)" class="c6"/>
<path d="M -3 3 L 3 -3 M -3 -3 L 3 3" transform="translate(1358.82 326.34)" class="c6"/>
<path d="M -3 3 L 3 -3 M -3 -3 L 3 3" transform="translate(1361.41 325.32)" class="c6"/>
<path d="M -3 3 L 3 -3 M -3 -3 L 3 3" transform="translate(1363.99 325.3)" class="c6"/>
<path d="M -3 3 L 3 -3 M -3 -3 L 3 3" transform="translate(1366.58 325.98)" class="c6"/>
<path d="M -3 3 L 3 -3 M -3 -3 L 3 3" transform="translate(1369.17 327.73)" class="c6"/>
<path d="M -3 3 L 3 -3 M -3 -3 L 3 3" transform="translate(1371.75 325.7)" class="c6"/>
<path d="M -3 3 L 3 -3 M -3 -3 L 3 3" transform="translate(1374.34 324.96)" class="c6"/>
<path d="M -3 3 L 3 -3 M -3 -3 L 3 3" transform="translate(1376.92 319.76)" class="c6"/>
<path d="M -3 3 L 3 -3 M -3 -3 L 3 3" transform="translate(1379.51 313.82)" class="c6"/>
<path d="M -3 3 L 3 -3 M -3 -3 L 3 3" transform="translate(1382.1 307.13)" class="c6"/>
<path d="M -3 3 L 3 -3 M -3 -3 L 3 3" transform="translate(1384.68 299.7)" class="c6"/>
<path d="M -3 3 L 3 -3 M -3 -3 L 3 3" transform="translate(1387.27 295.39)" class="c6"/>
<path d="M -3 3 L 3 -3 M -3 -3 L 3 3" transform="translate(1389.85 304.9)" class="c6"/>
<path d="M -3 3 L 3 -3 M -3 -3 L 3 3" transform="translate(1392.44 316.79)" class="c6"/>
<path d="M -3 3 L 3 -3 M -3 -3 L 3 3" transform="translate(1395.03 298.96)" class="c6"/>
<path d="M -3 3 L 3 -3 M -3 -3 L 3 3" transform="translate(1397.61 301.04)" class="c6"/>
<path d="M -3 3 L 3 -3 M -3 -3 L 3 3" transform="translate(1400.2 302.23)" class="c6"/>
<path d="M -3 3 L 3 -3 M -3 -3 L 3 3" transform="translate(1402.78 299.7)" class="c6"/>
<path d="M -3 3 L 3 -3 M -3 -3 L 3 3" transform="translate(1405.37 305.94)" class="c6"/>
<path d="M -3 3 L 3 -3 M -3 -3 L 3 3" transform="translate(1407.96 310.85)" class="c6"/>
<path d="M -3 3 L 3 -3 M -3 -3 L 3 3" transform="translate(1410.54 282.91)" class="c6"/>
<path d="M -3 3 L 3 -3 M -3 -3 L 3 3" transform="translate(1413.13 297.92)" class="c6"/>
<path d="M -3 3 L 3 -3 M -3 -3 L 3 3" transform="translate(1415.72 303.71)" class="c6"/>
<path d="M -3 3 L 3 -3 M -3 -3 L 3 3" transform="translate(1418.3 260.93)" class="c6"/>
<path d="M -3 3 L 3 -3 M -3 -3 L 3 3" transform="translate(1420.89 283.81)" class="c6"/>
<path d="M -3 3 L 3 -3 M -3 -3 L 3 3" transform="translate(1423.47 264.79)" class="c6"/>
<path d="M -3 3 L 3 -3 M -3 -3 L 3 3" transform="translate(1426.06 144.44)" class="c6"/>
<path d="M -3 3 L 3 -3 M -3 -3 L 3 3" transform="translate(1428.65 79.07)" class="c6"/>
<path d="M -3 3 L 3 -3 M -3 -3 L 3 3" transform="translate(1431.23 110.27)" class="c6"/>
<path d="M -3 3 L 3 -3 M -3 -3 L 3 3" transform="translate(1433.82 213.53)" class="c6"/>
<path d="M -3 3 L 3 -3 M -3 -3 L 3 3" transform="translate(1436.4 308.47)" class="c6"/>
<path d="M -3 3 L 3 -3 M -3 -3 L 3 3" transform="translate(1438.99 288.11)" class="c6"/>
<path d="M -3 3 L 3 -3 M -3 -3 L 3 3" transform="translate(1441.58 296.88)" class="c6"/>
<path d="M -3 3 L 3 -3 M -3 -3 L 3 3" transform="translate(1444.16 319.76)" class="c6"/>
<path d="M -3 3 L 3 -3 M -3 -3 L 3 3" transform="translate(1446.75 314.41)" class="c6"/>
<path d="M -3 3 L 3 -3 M -3 -3 L 3 3" transform="translate(1449.33 317.83)" class="c6"/>
<path d="M -3 3 L 3 -3 M -3 -3 L 3 3" transform="translate(1451.92 322.73)" class="c6"/>
<path d="M -3 3 L 3 -3 M -3 -3 L 3 3" transform="translate(1454.51 317.83)" class="c6"/>
<path d="M -3 3 L 3 -3 M -3 -3 L 3 3" transform="translate(1457.09 314.41)" class="c6"/>
<path d="M -3 3 L 3 -3 M -3 -3 L 3 3" transform="translate(1459.68 319.76)" class="c6"/>
<path d="M -3 3 L 3 -3 M -3 -3 L 3 3" transform="translate(1462.26 296.88)" class="c6"/>
<path d="M -3 3 L 3 -3 M -3 -3 L 3 3" transform="translate(1464.85 288.11)" class="c6"/>
<path d="M -3 3 L 3 -3 M -3 -3 L 3 3" transform="translate(1467.44 308.47)" class="c6"/>
<path d="M -3 3 L 3 -3 M -3 -3 L 3 3" transform="translate(1470.02 213.53)" class="c6"/>
<path d="M -3 3 L 3 -3 M -3 -3 L 3 3" transform="translate(1472.61 110.27)" class="c6"/>
<path d="M -3 3 L 3 -3 M -3 -3 L 3 3" transform="translate(1475.19 79.07)" class="c6"/>
<path d="M -3 3 L 3 -3 M -3 -3 L 3 3" transform="translate(1477.78 144.44)" class="c6"/>
<path d="M -3 3 L 3 -3 M -3 -3 L 3 3" transform="translate(1480.37 264.79)" class="c6"/>
<path d="M -3 3 L 3 -3 M -3 -3 L 3 3" transform="translate(1482.95 283.81)" class="c6"/>
<path d="M -3 3 L 3 -3 M -3 -3 L 3 3" transform="translate(1485.54 260.93)" class="c6"/>
<path d="M -3 3 L 3 -3 M -3 -3 L 3 3" transform="translate(1488.12 303.71)" class="c6"/>
<path d="M -3 3 L 3 -3 M -3 -3 L 3 3" transform="translate(1490.71 297.92)" class="c6"/>
<path d="M -3 3 L 3 -3 M -3 -3 L 3 3" transform="translate(1493.3 282.91)" class="c6"/>
<path d="M -3 3 L 3 -3 M -3 -3 L 3 3" transform="translate(1495.88 310.85)" class="c6"/>
<path d="M -3 3 L 3 -3 M -3 -3 L 3 3" transform="translate(1498.47 305.94)" class="c6"/>
<path d="M -3 3 L 3 -3 M -3 -3 L 3 3" transform="translate(1501.06 299.7)" class="c6"/>
<path d="M -3 3 L 3 -3 M -3 -3 L 3 3" transform="translate(1503.64 302.23)" class="c6"/>
<path d="M -3 3 L 3 -3 M -3 -3 L 3 3" transform="translate(1506.23 301.04)" class="c6"/>
<path d="M -3 3 L 3 -3 M -3 -3 L 3 3" transform="translate(1508.81 298.96)" class="c6"/>
<path d="M -3 3 L 3 -3 M -3 -3 L 3 3" transform="translate(1511.4 316.79)" class="c6"/>
<path d="M -3 3 L 3 -3 M -3 -3 L 3 3" transform="translate(1513.99 304.9)" class="c6"/>
<path d="M -3 3 L 3 -3 M -3 -3 L 3 3" transform="translate(1516.57 295.39)" class="c6"/>
<path d="M -3 3 L 3 -3 M -3 -3 L 3 3" transform="translate(1519.16 299.7)" class="c6"/>
<path d="M -3 3 L 3 -3 M -3 -3 L 3 3" transform="translate(1521.74 307.13)" class="c6"/>
<path d="M -3 3 L 3 -3 M -3 -3 L 3 3" transform="translate(1524.33 313.82)" class="c6"/>
<path d="M -3 3 L 3 -3 M -3 -3 L 3 3" transform="translate(1526.92 319.76)" class="c6"/>
<path d="M -3 3 L 3 -3 M -3 -3 L 3 3" transform="translate(1529.5 324.96)" class="c6"/>
<path d="M -3 3 L 3 -3 M -3 -3 L 3 3" transform="translate(1532.09 325.7)" class="c6"/>
<path d="M -3 3 L 3 -3 M -3 -3 L 3 3" transform="translate(1534.67 327.73)" class="c6"/>
<path d="M -3 3 L 3 -3 M -3 -3 L 3 3" transform="translate(1537.26 325.98)" class="c6"/>
<path d="M -3 3 L 3 -3 M -3 -3 L 3 3" transform="translate(1539.85 325.3)" class="c6"/>
<path d="M -3 3 L 3 -3 M -3 -3 L 3 3" transform="translate(1542.43 325.32)" class="c6"/>
<path d="M -3 3 L 3 -3 M -3 -3 L 3 3" transform="translate(1545.02 326.34)" class="c6"/>
<path d="M -3 3 L 3 -3 M -3 -3 L 3 3" transform="translate(1547.6 327.99)" class="c6"/>
<path d="M -3 3 L 3 -3 M -3 -3 L 3 3" transform="translate(1550.19 327.71)" class="c6"/>
<path d="M -3 3 L 3 -3 M -3 -3 L 3 3" transform="translate(1552.78 327.37)" class="c6"/>
<path d="M -3 3 L 3 -3 M -3 -3 L 3 3" transform="translate(1555.36 327.9)" class="c6"/>
<path d="M -3 3 L 3 -3 M -3 -3 L 3 3" transform="translate(1557.95 328)" class="c6"/>
<path d="M -3 3 L 3 -3 M -3 -3 L 3 3" transform="translate(1560.53 326.09)" class="c6"/>
<path d="M -3 3 L 3 -3 M -3 -3 L 3 3" transform="translate(1563.12 325.57)" class="c6"/>
<path d="M -3 3 L 3 -3 M -3 -3 L 3 3" transform="translate(1565.71 326.6)" class="c6"/>
<path d="M -3 3 L 3 -3 M -3 -3 L 3 3" transform="translate(1568.29 327.95)" class="c6"/>
<path d="M -3 3 L 3 -3 M -3 -3 L 3 3" transform="translate(1570.88 327.97)" class="c6"/>
<path d="M -3 3 L 3 -3 M -3 -3 L 3 3" transform="translate(1573.46 327.44)" class="c6"/>
<path d="M -3 3 L 3 -3 M -3 -3 L 3 3" transform="translate(1576.05 327.36)" class="c6"/>
<path d="M -3 3 L 3 -3 M -3 -3 L 3 3" transform="translate(1578.64 327.72)" class="c6"/>
<path d="M -3 3 L 3 -3 M -3 -3 L 3 3" transform="translate(1581.22 327.94)" class="c6"/>
<path d="M -3 3 L 3 -3 M -3 -3 L 3 3" transform="translate(1583.81 327.86)" class="c6"/>
<path d="M -3 3 L 3 -3 M -3 -3 L 3 3" transform="translate(1586.4 327.08)" class="c6"/>
<path d="M -3 3 L 3 -3 M -3 -3 L 3 3" transform="translate(1588.98 325.78)" class="c6"/>
<path d="M -3 3 L 3 -3 M -3 -3 L 3 3" transform="translate(1591.57 325.59)" class="c6"/>
<path d="M -3 3 L 3 -3 M -3 -3 L 3 3" transform="translate(1594.15 327.73)" class="c6"/>
<path d="M -3 3 L 3 -3 M -3 -3 L 3 3" transform="translate(1596.74 327.41)" class="c6"/>
<path d="M -3 3 L 3 -3 M -3 -3 L 3 3" transform="translate(1599.33 325.85)" class="c6"/>
<path d="M -3 3 L 3 -3 M -3 -3 L 3 3" transform="translate(1601.91 327.27)" class="c6"/>
<path d="M -3 3 L 3 -3 M -3 -3 L 3 3" transform="translate(1604.5 326.94)" class="c6"/>
<path d="M -3 3 L 3 -3 M -3 -3 L 3 3" transform="translate(1607.08 327.11)" class="c6"/>
<path d="M -3 3 L 3 -3 M -3 -3 L 3 3" transform="translate(1609.67 324.8)" class="c6"/>
<path d="M -3 3 L 3 -3 M -3 -3 L 3 3" transform="translate(1612.26 324.89)" class="c6"/>
<path d="M -3 3 L 3 -3 M -3 -3 L 3 3" transform="translate(1614.84 325.84)" class="c6"/>
<path d="M -3 3 L 3 -3 M -3 -3 L 3 3" transform="translate(1617.43 327.31)" class="c6"/>
<path d="M -3 3 L 3 -3 M -3 -3 L 3 3" transform="translate(1620.01 328.03)" class="c6"/>
<path d="M -3 3 L 3 -3 M -3 -3 L 3 3" transform="translate(1622.6 328.11)" class="c6"/>
<path d="M -3 3 L 3 -3 M -3 -3 L 3 3" transform="translate(1625.19 327.99)" class="c6"/>
<path d="M -3 3 L 3 -3 M -3 -3 L 3 3" transform="translate(1627.77 327.34)" class="c6"/>
<path d="M -3 3 L 3 -3 M -3 -3 L 3 3" transform="translate(1630.36 327.77)" class="c6"/>
<path d="M -3 3 L 3 -3 M -3 -3 L 3 3" transform="translate(1632.94 327.37)" class="c6"/>
<path d="M -3 3 L 3 -3 M -3 -3 L 3 3" transform="translate(1635.53 328.01)" class="c6"/>
<path d="M -3 3 L 3 -3 M -3 -3 L 3 3" transform="translate(1638.12 327.83)" class="c6"/>
<path d="M -3 3 L 3 -3 M -3 -3 L 3 3" transform="translate(1640.7 328.13)" class="c6"/>
<path d="M -3 3 L 3 -3 M -3 -3 L 3 3" transform="translate(1643.29 328.11)" class="c6"/>
<path d="M -3 3 L 3 -3 M -3 -3 L 3 3" transform="translate(1645.87 327.97)" class="c6"/>
<path d="M -3 3 L 3 -3 M -3 -3 L 3 3" transform="translate(1648.46 328.22)" class="c6"/>
<path d="M -3 3 L 3 -3 M -3 -3 L 3 3" transform="translate(1651.05 327.77)" class="c6"/>
<path d="M -3 3 L 3 -3 M -3 -3 L 3 3" transform="translate(1653.63 327.02)" class="c6"/>
<path d="M -3 3 L 3 -3 M -3 -3 L 3 3" transform="translate(1656.22 327.36)" class="c6"/>
<path d="M -3 3 L 3 -3 M -3 -3 L 3 3" transform="translate(1658.81 327.95)" class="c6"/>
<path d="M -3 3 L 3 -3 M -3 -3 L 3 3" transform="translate(1661.39 328.25)" class="c6"/>
<path d="M -3 3 L 3 -3 M -3 -3 L 3 3" transform="translate(1663.98 327.18)" class="c6"/>
<path d="M -3 3 L 3 -3 M -3 -3 L 3 3" transform="translate(1666.56 327.94)" class="c6"/>
<path d="M -3 3 L 3 -3 M -3 -3 L 3 3" transform="translate(1669.15 328.4)" class="c6"/>
<path d="M -3 3 L 3 -3 M -3 -3 L 3 3" transform="translate(1671.74 328.4)" class="c6"/>
<path d="M -3 3 L 3 -3 M -3 -3 L 3 3" transform="translate(1674.32 328.27)" class="c6"/>
<path d="M -3 3 L 3 -3 M -3 -3 L 3 3" transform="translate(1676.91 327.92)" class="c6"/>
<path d="M -3 3 L 3 -3 M -3 -3 L 3 3" transform="translate(1679.49 327.78)" class="c6"/>
<path d="M -3 3 L 3 -3 M -3 -3 L 3 3" transform="translate(1682.08 327.98)" class="c6"/>
<path d="M -3 3 L 3 -3 M -3 -3 L 3 3" transform="translate(1684.67 327.85)" class="c6"/>
<path d="M -3 3 L 3 -3 M -3 -3 L 3 3" transform="translate(1687.25 328.4)" class="c6"/>
<path d="M -3 3 L 3 -3 M -3 -3 L 3 3" transform="translate(1689.84 328.03)" class="c6"/>
<path d="M -3 3 L 3 -3 M -3 -3 L 3 3" transform="translate(1692.42 328.14)" class="c6"/>
<path d="M -3 3 L 3 -3 M -3 -3 L 3 3" transform="translate(1695.01 328.1)" class="c6"/>
<path d="M -3 3 L 3 -3 M -3 -3 L 3 3" transform="translate(1697.6 328.42)" class="c6"/>
<path d="M -3 3 L 3 -3 M -3 -3 L 3 3" transform="translate(1700.18 328.4)" class="c6"/>
<path d="M -3 3 L 3 -3 M -3 -3 L 3 3" transform="translate(1702.77 328.37)" class="c6"/>
<path d="M -3 3 L 3 -3 M -3 -3 L 3 3" transform="translate(1705.35 328.34)" class="c6"/>
<path d="M -3 3 L 3 -3 M -3 -3 L 3 3" transform="translate(1707.94 328.25)" class="c6"/>
<path d="M -3 3 L 3 -3 M -3 -3 L 3 3" transform="translate(1710.53 328.29)" class="c6"/>
<path d="M -3 3 L 3 -3 M -3 -3 L 3 3" transform="translate(1713.11 328.21)" class="c6"/>
<path d="M -3 3 L 3 -3 M -3 -3 L 3 3" transform="translate(1715.7 328.43)" class="c6"/>
<path d="M -3 3 L 3 -3 M -3 -3 L 3 3" transform="translate(1718.28 328.25)" class="c6"/>
<path d="M -3 3 L 3 -3 M -3 -3 L 3 3" transform="translate(1720.87 328.46)" class="c6"/>
<path d="M -3 3 L 3 -3 M -3 -3 L 3 3" transform="translate(1723.46 328.22)" class="c6"/>
<path d="M -3 3 L 3 -3 M -3 -3 L 3 3" transform="translate(1726.04 328.36)" class="c6"/>
<path d="M -3 3 L 3 -3 M -3 -3 L 3 3" transform="translate(1728.63 328.4)" class="c6"/>
<path d="M -3 3 L 3 -3 M -3 -3 L 3 3" transform="translate(1731.21 328.5)" class="c6"/>
<path d="M -3 3 L 3 -3 M -3 -3 L 3 3" transform="translate(1733.8 328.39)" class="c6"/>
<path d="M -3 3 L 3 -3 M -3 -3 L 3 3" transform="translate(1736.39 328.24)" class="c6"/>
</g>
</g>
<g id="line2d_68">
<path d="M 1167.453062 328.674763 L 1729 328.674763" clip-path="url(#p35f3541ee9)" class="c25"/>
</g>
<g id="LineCollection_3">
<path d="M 1167.453062 328.674763 L 1167.453062 327.217731" clip-path="url(#p35f3541ee9)" class="c24"/>
<path d="M 1170.039125 328.674763 L 1170.039125 327.033674" clip-path="url(#p35f3541ee9)" class="c24"/>
<path d="M 1172.625188 328.674763 L 1172.625188 326.954982" clip-path="url(#p35f3541ee9)" class="c24"/>
<path d="M 1175.211251 328.674763 L 1175.211251 327.296235" clip-path="url(#p35f3541ee9)" class="c24"/>
<path d="M 1177.797314 328.674763 L 1177.797314 327.228179" clip-path="url(#p35f3541ee9)" class="c24"/>
<path d="M 1180.383377 328.674763 L 1180.383377 327.034089" clip-path="url(#p35f3541ee9)" class="c24"/>
<path d="M 1182.96944 328.674763 L 1182.96944 326.81194" clip-path="url(#p35f3541ee9)" class="c24"/>
<path d="M 1185.555504 328.674763 L 1185.555504 327.202352" clip-path="url(#p35f3541ee9)" class="c24"/>
<path d="M 1188.141567 328.674763 L 1188.141567 327.30649" clip-path="url(#p35f3541ee9)" class="c24"/>
<path d="M 1190.72763 328.674763 L 1190.72763 326.786867" clip-path="url(#p35f3541ee9)" class="c24"/>
<path d="M 1193.313693 328.674763 L 1193.313693 326.676591" clip-path="url(#p35f3541ee9)" class="c24"/>
<path d="M 1195.899756 328.674763 L 1195.899756 326.699271" clip-path="url(#p35f3541ee9)" class="c24"/>
<path d="M 1198.485819 328.674763 L 1198.485819 327.413699" clip-path="url(#p35f3541ee9)" class="c24"/>
<path d="M 1201.071882 328.674763 L 1201.071882 326.256914" clip-path="url(#p35f3541ee9)" class="c24"/>
<path d="M 1203.657945 328.674763 L 1203.657945 326.514956" clip-path="url(#p35f3541ee9)" class="c24"/>
<path d="M 1206.244008 328.674763 L 1206.244008 326.329433" clip-path="url(#p35f3541ee9)" class="c24"/>
<path d="M 1208.830071 328.674763 L 1208.830071 327.144026" clip-path="url(#p35f3541ee9)" class="c24"/>
<path d="M 1211.416134 328.674763 L 1211.416134 326.007755" clip-path="url(#p35f3541ee9)" class="c24"/>
<path d="M 1214.002197 328.674763 L 1214.002197 327.109166" clip-path="url(#p35f3541ee9)" class="c24"/>
<path d="M 1216.58826 328.674763 L 1216.58826 326.630527" clip-path="url(#p35f3541ee9)" class="c24"/>
<path d="M 1219.174323 328.674763 L 1219.174323 325.523069" clip-path="url(#p35f3541ee9)" class="c24"/>
<path d="M 1221.760387 328.674763 L 1221.760387 326.609217" clip-path="url(#p35f3541ee9)" class="c24"/>
<path d="M 1224.34645 328.674763 L 1224.34645 325.680163" clip-path="url(#p35f3541ee9)" class="c24"/>
<path d="M 1226.932513 328.674763 L 1226.932513 324.843952" clip-path="url(#p35f3541ee9)" class="c24"/>
<path d="M 1229.518576 328.674763 L 1229.518576 325.187596" clip-path="url(#p35f3541ee9)" class="c24"/>
<path d="M 1232.104639 328.674763 L 1232.104639 325.969164" clip-path="url(#p35f3541ee9)" class="c24"/>
<path d="M 1234.690702 328.674763 L 1234.690702 326.152257" clip-path="url(#p35f3541ee9)" class="c24"/>
<path d="M 1237.276765 328.674763 L 1237.276765 326.480557" clip-path="url(#p35f3541ee9)" class="c24"/>
<path d="M 1239.862828 328.674763 L 1239.862828 322.488234" clip-path="url(#p35f3541ee9)" class="c24"/>
<path d="M 1242.448891 328.674763 L 1242.448891 326.441089" clip-path="url(#p35f3541ee9)" class="c24"/>
<path d="M 1245.034954 328.674763 L 1245.034954 324.961043" clip-path="url(#p35f3541ee9)" class="c24"/>
<path d="M 1247.621017 328.674763 L 1247.621017 321.280466" clip-path="url(#p35f3541ee9)" class="c24"/>
<path d="M 1250.20708 328.674763 L 1250.20708 323.904964" clip-path="url(#p35f3541ee9)" class="c24"/>
<path d="M 1252.793143 328.674763 L 1252.793143 326.245998" clip-path="url(#p35f3541ee9)" class="c24"/>
<path d="M 1255.379207 328.674763 L 1255.379207 326.293018" clip-path="url(#p35f3541ee9)" class="c24"/>
<path d="M 1257.96527 328.674763 L 1257.96527 325.696227" clip-path="url(#p35f3541ee9)" class="c24"/>
<path d="M 1260.551333 328.674763 L 1260.551333 326.459347" clip-path="url(#p35f3541ee9)" class="c24"/>
<path d="M 1263.137396 328.674763 L 1263.137396 326.344144" clip-path="url(#p35f3541ee9)" class="c24"/>
<path d="M 1265.723459 328.674763 L 1265.723459 326.130169" clip-path="url(#p35f3541ee9)" class="c24"/>
<path d="M 1268.309522 328.674763 L 1268.309522 324.707591" clip-path="url(#p35f3541ee9)" class="c24"/>
<path d="M 1270.895585 328.674763 L 1270.895585 324.196002" clip-path="url(#p35f3541ee9)" class="c24"/>
<path d="M 1273.481648 328.674763 L 1273.481648 323.367769" clip-path="url(#p35f3541ee9)" class="c24"/>
<path d="M 1276.067711 328.674763 L 1276.067711 324.653439" clip-path="url(#p35f3541ee9)" class="c24"/>
<path d="M 1278.653774 328.674763 L 1278.653774 326.186662" clip-path="url(#p35f3541ee9)" class="c24"/>
<path d="M 1281.239837 328.674763 L 1281.239837 325.119576" clip-path="url(#p35f3541ee9)" class="c24"/>
<path d="M 1283.8259 328.674763 L 1283.8259 325.351718" clip-path="url(#p35f3541ee9)" class="c24"/>
<path d="M 1286.411963 328.674763 L 1286.411963 324.232604" clip-path="url(#p35f3541ee9)" class="c24"/>
<path d="M 1288.998026 328.674763 L 1288.998026 312.762833" clip-path="url(#p35f3541ee9)" class="c24"/>
<path d="M 1291.58409 328.674763 L 1291.58409 315.019217" clip-path="url(#p35f3541ee9)" class="c24"/>
<path d="M 1294.170153 328.674763 L 1294.170153 313.647948" clip-path="url(#p35f3541ee9)" class="c24"/>
<path d="M 1296.756216 328.674763 L 1296.756216 320.540812" clip-path="url(#p35f3541ee9)" class="c24"/>
<path d="M 1299.342279 328.674763 L 1299.342279 322.886889" clip-path="url(#p35f3541ee9)" class="c24"/>
<path d="M 1301.928342 328.674763 L 1301.928342 325.885117" clip-path="url(#p35f3541ee9)" class="c24"/>
<path d="M 1304.514405 328.674763 L 1304.514405 318.692638" clip-path="url(#p35f3541ee9)" class="c24"/>
<path d="M 1307.100468 328.674763 L 1307.100468 321.262006" clip-path="url(#p35f3541ee9)" class="c24"/>
<path d="M 1309.686531 328.674763 L 1309.686531 323.165112" clip-path="url(#p35f3541ee9)" class="c24"/>
<path d="M 1312.272594 328.674763 L 1312.272594 319.130142" clip-path="url(#p35f3541ee9)" class="c24"/>
<path d="M 1314.858657 328.674763 L 1314.858657 321.422231" clip-path="url(#p35f3541ee9)" class="c24"/>
<path d="M 1317.44472 328.674763 L 1317.44472 324.008382" clip-path="url(#p35f3541ee9)" class="c24"/>
<path d="M 1320.030783 328.674763 L 1320.030783 324.356613" clip-path="url(#p35f3541ee9)" class="c24"/>
<path d="M 1322.616846 328.674763 L 1322.616846 323.294015" clip-path="url(#p35f3541ee9)" class="c24"/>
<path d="M 1325.202909 328.674763 L 1325.202909 324.130442" clip-path="url(#p35f3541ee9)" class="c24"/>
<path d="M 1327.788973 328.674763 L 1327.788973 323.463306" clip-path="url(#p35f3541ee9)" class="c24"/>
<path d="M 1330.375036 328.674763 L 1330.375036 325.863773" clip-path="url(#p35f3541ee9)" class="c24"/>
<path d="M 1332.961099 328.674763 L 1332.961099 326.619812" clip-path="url(#p35f3541ee9)" class="c24"/>
<path d="M 1335.547162 328.674763 L 1335.547162 323.346202" clip-path="url(#p35f3541ee9)" class="c24"/>
<path d="M 1338.133225 328.674763 L 1338.133225 317.418911" clip-path="url(#p35f3541ee9)" class="c24"/>
<path d="M 1340.719288 328.674763 L 1340.719288 318.064453" clip-path="url(#p35f3541ee9)" class="c24"/>
<path d="M 1343.305351 328.674763 L 1343.305351 322.740942" clip-path="url(#p35f3541ee9)" class="c24"/>
<path d="M 1345.891414 328.674763 L 1345.891414 324.415825" clip-path="url(#p35f3541ee9)" class="c24"/>
<path d="M 1348.477477 328.674763 L 1348.477477 325.538088" clip-path="url(#p35f3541ee9)" class="c24"/>
<path d="M 1351.06354 328.674763 L 1351.06354 322.548792" clip-path="url(#p35f3541ee9)" class="c24"/>
<path d="M 1353.649603 328.674763 L 1353.649603 324.5849" clip-path="url(#p35f3541ee9)" class="c24"/>
<path d="M 1356.235666 328.674763 L 1356.235666 324.052578" clip-path="url(#p35f3541ee9)" class="c24"/>
<path d="M 1358.821729 328.674763 L 1358.821729 321.727188" clip-path="url(#p35f3541ee9)" class="c24"/>
<path d="M 1361.407792 328.674763 L 1361.407792 318.006894" clip-path="url(#p35f3541ee9)" class="c24"/>
<path d="M 1363.993856 328.674763 L 1363.993856 321.698669" clip-path="url(#p35f3541ee9)" class="c24"/>
<path d="M 1366.579919 328.674763 L 1366.579919 318.202461" clip-path="url(#p35f3541ee9)" class="c24"/>
<path d="M 1369.165982 328.674763 L 1369.165982 324.343968" clip-path="url(#p35f3541ee9)" class="c24"/>
<path d="M 1371.752045 328.674763 L 1371.752045 324.217587" clip-path="url(#p35f3541ee9)" class="c24"/>
<path d="M 1374.338108 328.674763 L 1374.338108 323.474724" clip-path="url(#p35f3541ee9)" class="c24"/>
<path d="M 1376.924171 328.674763 L 1376.924171 313.520363" clip-path="url(#p35f3541ee9)" class="c24"/>
<path d="M 1379.510234 328.674763 L 1379.510234 301.337415" clip-path="url(#p35f3541ee9)" class="c24"/>
<path d="M 1382.096297 328.674763 L 1382.096297 291.234481" clip-path="url(#p35f3541ee9)" class="c24"/>
<path d="M 1384.68236 328.674763 L 1384.68236 277.565807" clip-path="url(#p35f3541ee9)" class="c24"/>
<path d="M 1387.268423 328.674763 L 1387.268423 271.028615" clip-path="url(#p35f3541ee9)" class="c24"/>
<path d="M 1389.854486 328.674763 L 1389.854486 289.748756" clip-path="url(#p35f3541ee9)" class="c24"/>
<path d="M 1392.440549 328.674763 L 1392.440549 312.777501" clip-path="url(#p35f3541ee9)" class="c24"/>
<path d="M 1395.026612 328.674763 L 1395.026612 286.925878" clip-path="url(#p35f3541ee9)" class="c24"/>
<path d="M 1397.612675 328.674763 L 1397.612675 292.868779" clip-path="url(#p35f3541ee9)" class="c24"/>
<path d="M 1400.198739 328.674763 L 1400.198739 319.314693" clip-path="url(#p35f3541ee9)" class="c24"/>
<path d="M 1402.784802 328.674763 L 1402.784802 294.05736" clip-path="url(#p35f3541ee9)" class="c24"/>
<path d="M 1405.370865 328.674763 L 1405.370865 304.160293" clip-path="url(#p35f3541ee9)" class="c24"/>
<path d="M 1407.956928 328.674763 L 1407.956928 309.954622" clip-path="url(#p35f3541ee9)" class="c24"/>
<path d="M 1410.542991 328.674763 L 1410.542991 282.914419" clip-path="url(#p35f3541ee9)" class="c24"/>
<path d="M 1413.129054 328.674763 L 1413.129054 299.703117" clip-path="url(#p35f3541ee9)" class="c24"/>
<path d="M 1415.715117 328.674763 L 1415.715117 306.537454" clip-path="url(#p35f3541ee9)" class="c24"/>
<path d="M 1418.30118 328.674763 L 1418.30118 272.217195" clip-path="url(#p35f3541ee9)" class="c24"/>
<path d="M 1420.887243 328.674763 L 1420.887243 294.05736" clip-path="url(#p35f3541ee9)" class="c24"/>
<path d="M 1423.473306 328.674763 L 1423.473306 283.211564" clip-path="url(#p35f3541ee9)" class="c24"/>
<path d="M 1426.059369 328.674763 L 1426.059369 210.559588" clip-path="url(#p35f3541ee9)" class="c24"/>
<path d="M 1428.645432 328.674763 L 1428.645432 185.302255" clip-path="url(#p35f3541ee9)" class="c24"/>
<path d="M 1431.231495 328.674763 L 1431.231495 217.245353" clip-path="url(#p35f3541ee9)" class="c24"/>
<path d="M 1433.817558 328.674763 L 1433.817558 276.674372" clip-path="url(#p35f3541ee9)" class="c24"/>
<path d="M 1436.403622 328.674763 L 1436.403622 320.651846" clip-path="url(#p35f3541ee9)" class="c24"/>
<path d="M 1438.989685 328.674763 L 1438.989685 315.600379" clip-path="url(#p35f3541ee9)" class="c24"/>
<path d="M 1441.575748 328.674763 L 1441.575748 320.354701" clip-path="url(#p35f3541ee9)" class="c24"/>
<path d="M 1444.161811 328.674763 L 1444.161811 326.891893" clip-path="url(#p35f3541ee9)" class="c24"/>
<path d="M 1446.747874 328.674763 L 1446.747874 327.486183" clip-path="url(#p35f3541ee9)" class="c24"/>
<path d="M 1449.333937 328.674763 L 1449.333937 328.080473" clip-path="url(#p35f3541ee9)" class="c24"/>
<path d="M 1451.92 328.674763 L 1451.92 328.674763" clip-path="url(#p35f3541ee9)" class="c24"/>
<path d="M 1454.506063 328.674763 L 1454.506063 328.080473" clip-path="url(#p35f3541ee9)" class="c24"/>
<path d="M 1457.092126 328.674763 L 1457.092126 327.486183" clip-path="url(#p35f3541ee9)" class="c24"/>
<path d="M 1459.678189 328.674763 L 1459.678189 326.891893" clip-path="url(#p35f3541ee9)" class="c24"/>
<path d="M 1462.264252 328.674763 L 1462.264252 320.354701" clip-path="url(#p35f3541ee9)" class="c24"/>
<path d="M 1464.850315 328.674763 L 1464.850315 315.600379" clip-path="url(#p35f3541ee9)" class="c24"/>
<path d="M 1467.436378 328.674763 L 1467.436378 320.651846" clip-path="url(#p35f3541ee9)" class="c24"/>
<path d="M 1470.022442 328.674763 L 1470.022442 276.674372" clip-path="url(#p35f3541ee9)" class="c24"/>
<path d="M 1472.608505 328.674763 L 1472.608505 217.245353" clip-path="url(#p35f3541ee9)" class="c24"/>
<path d="M 1475.194568 328.674763 L 1475.194568 185.302255" clip-path="url(#p35f3541ee9)" class="c24"/>
<path d="M 1477.780631 328.674763 L 1477.780631 210.559588" clip-path="url(#p35f3541ee9)" class="c24"/>
<path d="M 1480.366694 328.674763 L 1480.366694 283.211564" clip-path="url(#p35f3541ee9)" class="c24"/>
<path d="M 1482.952757 328.674763 L 1482.952757 294.05736" clip-path="url(#p35f3541ee9)" class="c24"/>
<path d="M 1485.53882 328.674763 L 1485.53882 272.217195" clip-path="url(#p35f3541ee9)" class="c24"/>
<path d="M 1488.124883 328.674763 L 1488.124883 306.537454" clip-path="url(#p35f3541ee9)" class="c24"/>
<path d="M 1490.710946 328.674763 L 1490.710946 299.703117" clip-path="url(#p35f3541ee9)" class="c24"/>
<path d="M 1493.297009 328.674763 L 1493.297009 282.914419" clip-path="url(#p35f3541ee9)" class="c24"/>
<path d="M 1495.883072 328.674763 L 1495.883072 309.954622" clip-path="url(#p35f3541ee9)" class="c24"/>
<path d="M 1498.469135 328.674763 L 1498.469135 304.160293" clip-path="url(#p35f3541ee9)" class="c24"/>
<path d="M 1501.055198 328.674763 L 1501.055198 294.05736" clip-path="url(#p35f3541ee9)" class="c24"/>
<path d="M 1503.641261 328.674763 L 1503.641261 319.314693" clip-path="url(#p35f3541ee9)" class="c24"/>
<path d="M 1506.227325 328.674763 L 1506.227325 292.868779" clip-path="url(#p35f3541ee9)" class="c24"/>
<path d="M 1508.813388 328.674763 L 1508.813388 286.925878" clip-path="url(#p35f3541ee9)" class="c24"/>
<path d="M 1511.399451 328.674763 L 1511.399451 312.777501" clip-path="url(#p35f3541ee9)" class="c24"/>
<path d="M 1513.985514 328.674763 L 1513.985514 289.748756" clip-path="url(#p35f3541ee9)" class="c24"/>
<path d="M 1516.571577 328.674763 L 1516.571577 271.028615" clip-path="url(#p35f3541ee9)" class="c24"/>
<path d="M 1519.15764 328.674763 L 1519.15764 277.565807" clip-path="url(#p35f3541ee9)" class="c24"/>
<path d="M 1521.743703 328.674763 L 1521.743703 291.234481" clip-path="url(#p35f3541ee9)" class="c24"/>
<path d="M 1524.329766 328.674763 L 1524.329766 301.337415" clip-path="url(#p35f3541ee9)" class="c24"/>
<path d="M 1526.915829 328.674763 L 1526.915829 313.520363" clip-path="url(#p35f3541ee9)" class="c24"/>
<path d="M 1529.501892 328.674763 L 1529.501892 323.474724" clip-path="url(#p35f3541ee9)" class="c24"/>
<path d="M 1532.087955 328.674763 L 1532.087955 324.217587" clip-path="url(#p35f3541ee9)" class="c24"/>
<path d="M 1534.674018 328.674763 L 1534.674018 324.343968" clip-path="url(#p35f3541ee9)" class="c24"/>
<path d="M 1537.260081 328.674763 L 1537.260081 318.202461" clip-path="url(#p35f3541ee9)" class="c24"/>
<path d="M 1539.846144 328.674763 L 1539.846144 321.698669" clip-path="url(#p35f3541ee9)" class="c24"/>
<path d="M 1542.432208 328.674763 L 1542.432208 318.006894" clip-path="url(#p35f3541ee9)" class="c24"/>
<path d="M 1545.018271 328.674763 L 1545.018271 321.727188" clip-path="url(#p35f3541ee9)" class="c24"/>
<path d="M 1547.604334 328.674763 L 1547.604334 324.052578" clip-path="url(#p35f3541ee9)" class="c24"/>
<path d="M 1550.190397 328.674763 L 1550.190397 324.5849" clip-path="url(#p35f3541ee9)" class="c24"/>
<path d="M 1552.77646 328.674763 L 1552.77646 322.548792" clip-path="url(#p35f3541ee9)" class="c24"/>
<path d="M 1555.362523 328.674763 L 1555.362523 325.538088" clip-path="url(#p35f3541ee9)" class="c24"/>
<path d="M 1557.948586 328.674763 L 1557.948586 324.415825" clip-path="url(#p35f3541ee9)" class="c24"/>
<path d="M 1560.534649 328.674763 L 1560.534649 322.740942" clip-path="url(#p35f3541ee9)" class="c24"/>
<path d="M 1563.120712 328.674763 L 1563.120712 318.064453" clip-path="url(#p35f3541ee9)" class="c24"/>
<path d="M 1565.706775 328.674763 L 1565.706775 317.418911" clip-path="url(#p35f3541ee9)" class="c24"/>
<path d="M 1568.292838 328.674763 L 1568.292838 323.346202" clip-path="url(#p35f3541ee9)" class="c24"/>
<path d="M 1570.878901 328.674763 L 1570.878901 326.619812" clip-path="url(#p35f3541ee9)" class="c24"/>
<path d="M 1573.464964 328.674763 L 1573.464964 325.863773" clip-path="url(#p35f3541ee9)" class="c24"/>
<path d="M 1576.051027 328.674763 L 1576.051027 323.463306" clip-path="url(#p35f3541ee9)" class="c24"/>
<path d="M 1578.637091 328.674763 L 1578.637091 324.130442" clip-path="url(#p35f3541ee9)" class="c24"/>
<path d="M 1581.223154 328.674763 L 1581.223154 323.294015" clip-path="url(#p35f3541ee9)" class="c24"/>
<path d="M 1583.809217 328.674763 L 1583.809217 324.356613" clip-path="url(#p35f3541ee9)" class="c24"/>
<path d="M 1586.39528 328.674763 L 1586.39528 324.008382" clip-path="url(#p35f3541ee9)" class="c24"/>
<path d="M 1588.981343 328.674763 L 1588.981343 321.422231" clip-path="url(#p35f3541ee9)" class="c24"/>
<path d="M 1591.567406 328.674763 L 1591.567406 319.130142" clip-path="url(#p35f3541ee9)" class="c24"/>
<path d="M 1594.153469 328.674763 L 1594.153469 323.165112" clip-path="url(#p35f3541ee9)" class="c24"/>
<path d="M 1596.739532 328.674763 L 1596.739532 321.262006" clip-path="url(#p35f3541ee9)" class="c24"/>
<path d="M 1599.325595 328.674763 L 1599.325595 318.692638" clip-path="url(#p35f3541ee9)" class="c24"/>
<path d="M 1601.911658 328.674763 L 1601.911658 325.885117" clip-path="url(#p35f3541ee9)" class="c24"/>
<path d="M 1604.497721 328.674763 L 1604.497721 322.886889" clip-path="url(#p35f3541ee9)" class="c24"/>
<path d="M 1607.083784 328.674763 L 1607.083784 320.540812" clip-path="url(#p35f3541ee9)" class="c24"/>
<path d="M 1609.669847 328.674763 L 1609.669847 313.647948" clip-path="url(#p35f3541ee9)" class="c24"/>
<path d="M 1612.25591 328.674763 L 1612.25591 315.019217" clip-path="url(#p35f3541ee9)" class="c24"/>
<path d="M 1614.841974 328.674763 L 1614.841974 312.762833" clip-path="url(#p35f3541ee9)" class="c24"/>
<path d="M 1617.428037 328.674763 L 1617.428037 324.232604" clip-path="url(#p35f3541ee9)" class="c24"/>
<path d="M 1620.0141 328.674763 L 1620.0141 325.351718" clip-path="url(#p35f3541ee9)" class="c24"/>
<path d="M 1622.600163 328.674763 L 1622.600163 325.119576" clip-path="url(#p35f3541ee9)" class="c24"/>
<path d="M 1625.186226 328.674763 L 1625.186226 326.186662" clip-path="url(#p35f3541ee9)" class="c24"/>
<path d="M 1627.772289 328.674763 L 1627.772289 324.653439" clip-path="url(#p35f3541ee9)" class="c24"/>
<path d="M 1630.358352 328.674763 L 1630.358352 323.367769" clip-path="url(#p35f3541ee9)" class="c24"/>
<path d="M 1632.944415 328.674763 L 1632.944415 324.196002" clip-path="url(#p35f3541ee9)" class="c24"/>
<path d="M 1635.530478 328.674763 L 1635.530478 324.707591" clip-path="url(#p35f3541ee9)" class="c24"/>
<path d="M 1638.116541 328.674763 L 1638.116541 326.130169" clip-path="url(#p35f3541ee9)" class="c24"/>
<path d="M 1640.702604 328.674763 L 1640.702604 326.344144" clip-path="url(#p35f3541ee9)" class="c24"/>
<path d="M 1643.288667 328.674763 L 1643.288667 326.459347" clip-path="url(#p35f3541ee9)" class="c24"/>
<path d="M 1645.87473 328.674763 L 1645.87473 325.696227" clip-path="url(#p35f3541ee9)" class="c24"/>
<path d="M 1648.460793 328.674763 L 1648.460793 326.293018" clip-path="url(#p35f3541ee9)" class="c24"/>
<path d="M 1651.046857 328.674763 L 1651.046857 326.245998" clip-path="url(#p35f3541ee9)" class="c24"/>
<path d="M 1653.63292 328.674763 L 1653.63292 323.904964" clip-path="url(#p35f3541ee9)" class="c24"/>
<path d="M 1656.218983 328.674763 L 1656.218983 321.280466" clip-path="url(#p35f3541ee9)" class="c24"/>
<path d="M 1658.805046 328.674763 L 1658.805046 324.961043" clip-path="url(#p35f3541ee9)" class="c24"/>
<path d="M 1661.391109 328.674763 L 1661.391109 326.441089" clip-path="url(#p35f3541ee9)" class="c24"/>
<path d="M 1663.977172 328.674763 L 1663.977172 322.488234" clip-path="url(#p35f3541ee9)" class="c24"/>
<path d="M 1666.563235 328.674763 L 1666.563235 326.480557" clip-path="url(#p35f3541ee9)" class="c24"/>
<path d="M 1669.149298 328.674763 L 1669.149298 326.152257" clip-path="url(#p35f3541ee9)" class="c24"/>
<path d="M 1671.735361 328.674763 L 1671.735361 325.969164" clip-path="url(#p35f3541ee9)" class="c24"/>
<path d="M 1674.321424 328.674763 L 1674.321424 325.187596" clip-path="url(#p35f3541ee9)" class="c24"/>
<path d="M 1676.907487 328.674763 L 1676.907487 324.843952" clip-path="url(#p35f3541ee9)" class="c24"/>
<path d="M 1679.49355 328.674763 L 1679.49355 325.680163" clip-path="url(#p35f3541ee9)" class="c24"/>
<path d="M 1682.079613 328.674763 L 1682.079613 326.609217" clip-path="url(#p35f3541ee9)" class="c24"/>
<path d="M 1684.665677 328.674763 L 1684.665677 325.523069" clip-path="url(#p35f3541ee9)" class="c24"/>
<path d="M 1687.25174 328.674763 L 1687.25174 326.630527" clip-path="url(#p35f3541ee9)" class="c24"/>
<path d="M 1689.837803 328.674763 L 1689.837803 327.109166" clip-path="url(#p35f3541ee9)" class="c24"/>
<path d="M 1692.423866 328.674763 L 1692.423866 326.007755" clip-path="url(#p35f3541ee9)" class="c24"/>
<path d="M 1695.009929 328.674763 L 1695.009929 327.144026" clip-path="url(#p35f3541ee9)" class="c24"/>
<path d="M 1697.595992 328.674763 L 1697.595992 326.329433" clip-path="url(#p35f3541ee9)" class="c24"/>
<path d="M 1700.182055 328.674763 L 1700.182055 326.514956" clip-path="url(#p35f3541ee9)" class="c24"/>
<path d="M 1702.768118 328.674763 L 1702.768118 326.256914" clip-path="url(#p35f3541ee9)" class="c24"/>
<path d="M 1705.354181 328.674763 L 1705.354181 327.413699" clip-path="url(#p35f3541ee9)" class="c24"/>
<path d="M 1707.940244 328.674763 L 1707.940244 326.699271" clip-path="url(#p35f3541ee9)" class="c24"/>
<path d="M 1710.526307 328.674763 L 1710.526307 326.676591" clip-path="url(#p35f3541ee9)" class="c24"/>
<path d="M 1713.11237 328.674763 L 1713.11237 326.786867" clip-path="url(#p35f3541ee9)" class="c24"/>
<path d="M 1715.698433 328.674763 L 1715.698433 327.30649" clip-path="url(#p35f3541ee9)" class="c24"/>
<path d="M 1718.284496 328.674763 L 1718.284496 327.202352" clip-path="url(#p35f3541ee9)" class="c24"/>
<path d="M 1720.87056 328.674763 L 1720.87056 326.81194" clip-path="url(#p35f3541ee9)" class="c24"/>
<path d="M 1723.456623 328.674763 L 1723.456623 327.034089" clip-path="url(#p35f3541ee9)" class="c24"/>
<path d="M 1726.042686 328.674763 L 1726.042686 327.228179" clip-path="url(#p35f3541ee9)" class="c24"/>
<path d="M 1728.628749 328.674763 L 1728.628749 327.296235" clip-path="url(#p35f3541ee9)" class="c24"/>
<path clip-path="url(#p35f3541ee9)" class="c24"/>
<path clip-path="url(#p35f3541ee9)" class="c24"/>
<path clip-path="url(#p35f3541ee9)" class="c24"/>
</g>
<g id="line2d_69">
<g clip-path="url(#p35f3541ee9)">
<path d="M -3 3 L 3 -3 M -3 -3 L 3 3" transform="translate(1167.45 327.22)" class="c26"/>
<path d="M -3 3 L 3 -3 M -3 -3 L 3 3" transform="translate(1170.04 327.03)" class="c26"/>
<path d="M -3 3 L 3 -3 M -3 -3 L 3 3" transform="translate(1172.63 326.95)" class="c26"/>
<path d="M -3 3 L 3 -3 M -3 -3 L 3 3" transform="translate(1175.21 327.3)" class="c26"/>
<path d="M -3 3 L 3 -3 M -3 -3 L 3 3" transform="translate(1177.8 327.23)" class="c26"/>
<path d="M -3 3 L 3 -3 M -3 -3 L 3 3" transform="translate(1180.38 327.03)" class="c26"/>
<path d="M -3 3 L 3 -3 M -3 -3 L 3 3" transform="translate(1182.97 326.81)" class="c26"/>
<path d="M -3 3 L 3 -3 M -3 -3 L 3 3" transform="translate(1185.56 327.2)" class="c26"/>
<path d="M -3 3 L 3 -3 M -3 -3 L 3 3" transform="translate(1188.14 327.31)" class="c26"/>
<path d="M -3 3 L 3 -3 M -3 -3 L 3 3" transform="translate(1190.73 326.79)" class="c26"/>
<path d="M -3 3 L 3 -3 M -3 -3 L 3 3" transform="translate(1193.31 326.68)" class="c26"/>
<path d="M -3 3 L 3 -3 M -3 -3 L 3 3" transform="translate(1195.9 326.7)" class="c26"/>
<path d="M -3 3 L 3 -3 M -3 -3 L 3 3" transform="translate(1198.49 327.41)" class="c26"/>
<path d="M -3 3 L 3 -3 M -3 -3 L 3 3" transform="translate(1201.07 326.26)" class="c26"/>
<path d="M -3 3 L 3 -3 M -3 -3 L 3 3" transform="translate(1203.66 326.51)" class="c26"/>
<path d="M -3 3 L 3 -3 M -3 -3 L 3 3" transform="translate(1206.24 326.33)" class="c26"/>
<path d="M -3 3 L 3 -3 M -3 -3 L 3 3" transform="translate(1208.83 327.14)" class="c26"/>
<path d="M -3 3 L 3 -3 M -3 -3 L 3 3" transform="translate(1211.42 326.01)" class="c26"/>
<path d="M -3 3 L 3 -3 M -3 -3 L 3 3" transform="translate(1214 327.11)" class="c26"/>
<path d="M -3 3 L 3 -3 M -3 -3 L 3 3" transform="translate(1216.59 326.63)" class="c26"/>
<path d="M -3 3 L 3 -3 M -3 -3 L 3 3" transform="translate(1219.17 325.52)" class="c26"/>
<path d="M -3 3 L 3 -3 M -3 -3 L 3 3" transform="translate(1221.76 326.61)" class="c26"/>
<path d="M -3 3 L 3 -3 M -3 -3 L 3 3" transform="translate(1224.35 325.68)" class="c26"/>
<path d="M -3 3 L 3 -3 M -3 -3 L 3 3" transform="translate(1226.93 324.84)" class="c26"/>
<path d="M -3 3 L 3 -3 M -3 -3 L 3 3" transform="translate(1229.52 325.19)" class="c26"/>
<path d="M -3 3 L 3 -3 M -3 -3 L 3 3" transform="translate(1232.1 325.97)" class="c26"/>
<path d="M -3 3 L 3 -3 M -3 -3 L 3 3" transform="translate(1234.69 326.15)" class="c26"/>
<path d="M -3 3 L 3 -3 M -3 -3 L 3 3" transform="translate(1237.28 326.48)" class="c26"/>
<path d="M -3 3 L 3 -3 M -3 -3 L 3 3" transform="translate(1239.86 322.49)" class="c26"/>
<path d="M -3 3 L 3 -3 M -3 -3 L 3 3" transform="translate(1242.45 326.44)" class="c26"/>
<path d="M -3 3 L 3 -3 M -3 -3 L 3 3" transform="translate(1245.03 324.96)" class="c26"/>
<path d="M -3 3 L 3 -3 M -3 -3 L 3 3" transform="translate(1247.62 321.28)" class="c26"/>
<path d="M -3 3 L 3 -3 M -3 -3 L 3 3" transform="translate(1250.21 323.9)" class="c26"/>
<path d="M -3 3 L 3 -3 M -3 -3 L 3 3" transform="translate(1252.79 326.25)" class="c26"/>
<path d="M -3 3 L 3 -3 M -3 -3 L 3 3" transform="translate(1255.38 326.29)" class="c26"/>
<path d="M -3 3 L 3 -3 M -3 -3 L 3 3" transform="translate(1257.97 325.7)" class="c26"/>
<path d="M -3 3 L 3 -3 M -3 -3 L 3 3" transform="translate(1260.55 326.46)" class="c26"/>
<path d="M -3 3 L 3 -3 M -3 -3 L 3 3" transform="translate(1263.14 326.34)" class="c26"/>
<path d="M -3 3 L 3 -3 M -3 -3 L 3 3" transform="translate(1265.72 326.13)" class="c26"/>
<path d="M -3 3 L 3 -3 M -3 -3 L 3 3" transform="translate(1268.31 324.71)" class="c26"/>
<path d="M -3 3 L 3 -3 M -3 -3 L 3 3" transform="translate(1270.9 324.2)" class="c26"/>
<path d="M -3 3 L 3 -3 M -3 -3 L 3 3" transform="translate(1273.48 323.37)" class="c26"/>
<path d="M -3 3 L 3 -3 M -3 -3 L 3 3" transform="translate(1276.07 324.65)" class="c26"/>
<path d="M -3 3 L 3 -3 M -3 -3 L 3 3" transform="translate(1278.65 326.19)" class="c26"/>
<path d="M -3 3 L 3 -3 M -3 -3 L 3 3" transform="translate(1281.24 325.12)" class="c26"/>
<path d="M -3 3 L 3 -3 M -3 -3 L 3 3" transform="translate(1283.83 325.35)" class="c26"/>
<path d="M -3 3 L 3 -3 M -3 -3 L 3 3" transform="translate(1286.41 324.23)" class="c26"/>
<path d="M -3 3 L 3 -3 M -3 -3 L 3 3" transform="translate(1289 312.76)" class="c26"/>
<path d="M -3 3 L 3 -3 M -3 -3 L 3 3" transform="translate(1291.58 315.02)" class="c26"/>
<path d="M -3 3 L 3 -3 M -3 -3 L 3 3" transform="translate(1294.17 313.65)" class="c26"/>
<path d="M -3 3 L 3 -3 M -3 -3 L 3 3" transform="translate(1296.76 320.54)" class="c26"/>
<path d="M -3 3 L 3 -3 M -3 -3 L 3 3" transform="translate(1299.34 322.89)" class="c26"/>
<path d="M -3 3 L 3 -3 M -3 -3 L 3 3" transform="translate(1301.93 325.89)" class="c26"/>
<path d="M -3 3 L 3 -3 M -3 -3 L 3 3" transform="translate(1304.51 318.69)" class="c26"/>
<path d="M -3 3 L 3 -3 M -3 -3 L 3 3" transform="translate(1307.1 321.26)" class="c26"/>
<path d="M -3 3 L 3 -3 M -3 -3 L 3 3" transform="translate(1309.69 323.17)" class="c26"/>
<path d="M -3 3 L 3 -3 M -3 -3 L 3 3" transform="translate(1312.27 319.13)" class="c26"/>
<path d="M -3 3 L 3 -3 M -3 -3 L 3 3" transform="translate(1314.86 321.42)" class="c26"/>
<path d="M -3 3 L 3 -3 M -3 -3 L 3 3" transform="translate(1317.44 324.01)" class="c26"/>
<path d="M -3 3 L 3 -3 M -3 -3 L 3 3" transform="translate(1320.03 324.36)" class="c26"/>
<path d="M -3 3 L 3 -3 M -3 -3 L 3 3" transform="translate(1322.62 323.29)" class="c26"/>
<path d="M -3 3 L 3 -3 M -3 -3 L 3 3" transform="translate(1325.2 324.13)" class="c26"/>
<path d="M -3 3 L 3 -3 M -3 -3 L 3 3" transform="translate(1327.79 323.46)" class="c26"/>
<path d="M -3 3 L 3 -3 M -3 -3 L 3 3" transform="translate(1330.38 325.86)" class="c26"/>
<path d="M -3 3 L 3 -3 M -3 -3 L 3 3" transform="translate(1332.96 326.62)" class="c26"/>
<path d="M -3 3 L 3 -3 M -3 -3 L 3 3" transform="translate(1335.55 323.35)" class="c26"/>
<path d="M -3 3 L 3 -3 M -3 -3 L 3 3" transform="translate(1338.13 317.42)" class="c26"/>
<path d="M -3 3 L 3 -3 M -3 -3 L 3 3" transform="translate(1340.72 318.06)" class="c26"/>
<path d="M -3 3 L 3 -3 M -3 -3 L 3 3" transform="translate(1343.31 322.74)" class="c26"/>
<path d="M -3 3 L 3 -3 M -3 -3 L 3 3" transform="translate(1345.89 324.42)" class="c26"/>
<path d="M -3 3 L 3 -3 M -3 -3 L 3 3" transform="translate(1348.48 325.54)" class="c26"/>
<path d="M -3 3 L 3 -3 M -3 -3 L 3 3" transform="translate(1351.06 322.55)" class="c26"/>
<path d="M -3 3 L 3 -3 M -3 -3 L 3 3" transform="translate(1353.65 324.58)" class="c26"/>
<path d="M -3 3 L 3 -3 M -3 -3 L 3 3" transform="translate(1356.24 324.05)" class="c26"/>
<path d="M -3 3 L 3 -3 M -3 -3 L 3 3" transform="translate(1358.82 321.73)" class="c26"/>
<path d="M -3 3 L 3 -3 M -3 -3 L 3 3" transform="translate(1361.41 318.01)" class="c26"/>
<path d="M -3 3 L 3 -3 M -3 -3 L 3 3" transform="translate(1363.99 321.7)" class="c26"/>
<path d="M -3 3 L 3 -3 M -3 -3 L 3 3" transform="translate(1366.58 318.2)" class="c26"/>
<path d="M -3 3 L 3 -3 M -3 -3 L 3 3" transform="translate(1369.17 324.34)" class="c26"/>
<path d="M -3 3 L 3 -3 M -3 -3 L 3 3" transform="translate(1371.75 324.22)" class="c26"/>
<path d="M -3 3 L 3 -3 M -3 -3 L 3 3" transform="translate(1374.34 323.47)" class="c26"/>
<path d="M -3 3 L 3 -3 M -3 -3 L 3 3" transform="translate(1376.92 313.52)" class="c26"/>
<path d="M -3 3 L 3 -3 M -3 -3 L 3 3" transform="translate(1379.51 301.34)" class="c26"/>
<path d="M -3 3 L 3 -3 M -3 -3 L 3 3" transform="translate(1382.1 291.23)" class="c26"/>
<path d="M -3 3 L 3 -3 M -3 -3 L 3 3" transform="translate(1384.68 277.57)" class="c26"/>
<path d="M -3 3 L 3 -3 M -3 -3 L 3 3" transform="translate(1387.27 271.03)" class="c26"/>
<path d="M -3 3 L 3 -3 M -3 -3 L 3 3" transform="translate(1389.85 289.75)" class="c26"/>
<path d="M -3 3 L 3 -3 M -3 -3 L 3 3" transform="translate(1392.44 312.78)" class="c26"/>
<path d="M -3 3 L 3 -3 M -3 -3 L 3 3" transform="translate(1395.03 286.93)" class="c26"/>
<path d="M -3 3 L 3 -3 M -3 -3 L 3 3" transform="translate(1397.61 292.87)" class="c26"/>
<path d="M -3 3 L 3 -3 M -3 -3 L 3 3" transform="translate(1400.2 319.31)" class="c26"/>
<path d="M -3 3 L 3 -3 M -3 -3 L 3 3" transform="translate(1402.78 294.06)" class="c26"/>
<path d="M -3 3 L 3 -3 M -3 -3 L 3 3" transform="translate(1405.37 304.16)" class="c26"/>
<path d="M -3 3 L 3 -3 M -3 -3 L 3 3" transform="translate(1407.96 309.95)" class="c26"/>
<path d="M -3 3 L 3 -3 M -3 -3 L 3 3" transform="translate(1410.54 282.91)" class="c26"/>
<path d="M -3 3 L 3 -3 M -3 -3 L 3 3" transform="translate(1413.13 299.7)" class="c26"/>
<path d="M -3 3 L 3 -3 M -3 -3 L 3 3" transform="translate(1415.72 306.54)" class="c26"/>
<path d="M -3 3 L 3 -3 M -3 -3 L 3 3" transform="translate(1418.3 272.22)" class="c26"/>
<path d="M -3 3 L 3 -3 M -3 -3 L 3 3" transform="translate(1420.89 294.06)" class="c26"/>
<path d="M -3 3 L 3 -3 M -3 -3 L 3 3" transform="translate(1423.47 283.21)" class="c26"/>
<path d="M -3 3 L 3 -3 M -3 -3 L 3 3" transform="translate(1426.06 210.56)" class="c26"/>
<path d="M -3 3 L 3 -3 M -3 -3 L 3 3" transform="translate(1428.65 185.3)" class="c26"/>
<path d="M -3 3 L 3 -3 M -3 -3 L 3 3" transform="translate(1431.23 217.25)" class="c26"/>
<path d="M -3 3 L 3 -3 M -3 -3 L 3 3" transform="translate(1433.82 276.67)" class="c26"/>
<path d="M -3 3 L 3 -3 M -3 -3 L 3 3" transform="translate(1436.4 320.65)" class="c26"/>
<path d="M -3 3 L 3 -3 M -3 -3 L 3 3" transform="translate(1438.99 315.6)" class="c26"/>
<path d="M -3 3 L 3 -3 M -3 -3 L 3 3" transform="translate(1441.58 320.35)" class="c26"/>
<path d="M -3 3 L 3 -3 M -3 -3 L 3 3" transform="translate(1444.16 326.89)" class="c26"/>
<path d="M -3 3 L 3 -3 M -3 -3 L 3 3" transform="translate(1446.75 327.49)" class="c26"/>
<path d="M -3 3 L 3 -3 M -3 -3 L 3 3" transform="translate(1449.33 328.08)" class="c26"/>
<path d="M -3 3 L 3 -3 M -3 -3 L 3 3" transform="translate(1451.92 328.67)" class="c26"/>
<path d="M -3 3 L 3 -3 M -3 -3 L 3 3" transform="translate(1454.51 328.08)" class="c26"/>
<path d="M -3 3 L 3 -3 M -3 -3 L 3 3" transform="translate(1457.09 327.49)" class="c26"/>
<path d="M -3 3 L 3 -3 M -3 -3 L 3 3" transform="translate(1459.68 326.89)" class="c26"/>
<path d="M -3 3 L 3 -3 M -3 -3 L 3 3" transform="translate(1462.26 320.35)" class="c26"/>
<path d="M -3 3 L 3 -3 M -3 -3 L 3 3" transform="translate(1464.85 315.6)" class="c26"/>
<path d="M -3 3 L 3 -3 M -3 -3 L 3 3" transform="translate(1467.44 320.65)" class="c26"/>
<path d="M -3 3 L 3 -3 M -3 -3 L 3 3" transform="translate(1470.02 276.67)" class="c26"/>
<path d="M -3 3 L 3 -3 M -3 -3 L 3 3" transform="translate(1472.61 217.25)" class="c26"/>
<path d="M -3 3 L 3 -3 M -3 -3 L 3 3" transform="translate(1475.19 185.3)" class="c26"/>
<path d="M -3 3 L 3 -3 M -3 -3 L 3 3" transform="translate(1477.78 210.56)" class="c26"/>
<path d="M -3 3 L 3 -3 M -3 -3 L 3 3" transform="translate(1480.37 283.21)" class="c26"/>
<path d="M -3 3 L 3 -3 M -3 -3 L 3 3" transform="translate(1482.95 294.06)" class="c26"/>
<path d="M -3 3 L 3 -3 M -3 -3 L 3 3" transform="translate(1485.54 272.22)" class="c26"/>
<path d="M -3 3 L 3 -3 M -3 -3 L 3 3" transform="translate(1488.12 306.54)" class="c26"/>
<path d="M -3 3 L 3 -3 M -3 -3 L 3 3" transform="translate(1490.71 299.7)" class="c26"/>
<path d="M -3 3 L 3 -3 M -3 -3 L 3 3" transform="translate(1493.3 282.91)" class="c26"/>
<path d="M -3 3 L 3 -3 M -3 -3 L 3 3" transform="translate(1495.88 309.95)" class="c26"/>
<path d="M -3 3 L 3 -3 M -3 -3 L 3 3" transform="translate(1498.47 304.16)" class="c26"/>
<path d="M -3 3 L 3 -3 M -3 -3 L 3 3" transform="translate(1501.06 294.06)" class="c26"/>
<path d="M -3 3 L 3 -3 M -3 -3 L 3 3" transform="translate(1503.64 319.31)" class="c26"/>
<path d="M -3 3 L 3 -3 M -3 -3 L 3 3" transform="translate(1506.23 292.87)" class="c26"/>
<path d="M -3 3 L 3 -3 M -3 -3 L 3 3" transform="translate(1508.81 286.93)" class="c26"/>
<path d="M -3 3 L 3 -3 M -3 -3 L 3 3" transform="translate(1511.4 312.78)" class="c26"/>
<path d="M -3 3 L 3 -3 M -3 -3 L 3 3" transform="translate(1513.99 289.75)" class="c26"/>
<path d="M -3 3 L 3 -3 M -3 -3 L 3 3" transform="translate(1516.57 271.03)" class="c26"/>
<path d="M -3 3 L 3 -3 M -3 -3 L 3 3" transform="translate(1519.16 277.57)" class="c26"/>
<path d="M -3 3 L 3 -3 M -3 -3 L 3 3" transform="translate(1521.74 291.23)" class="c26"/>
<path d="M -3 3 L 3 -3 M -3 -3 L 3 3" transform="translate(1524.33 301.34)" class="c26"/>
<path d="M -3 3 L 3 -3 M -3 -3 L 3 3" transform="translate(1526.92 313.52)" class="c26"/>
<path d="M -3 3 L 3 -3 M -3 -3 L 3 3" transform="translate(1529.5 323.47)" class="c26"/>
<path d="M -3 3 L 3 -3 M -3 -3 L 3 3" transform="translate(1532.09 324.22)" class="c26"/>
<path d="M -3 3 L 3 -3 M -3 -3 L 3 3" transform="translate(1534.67 324.34)" class="c26"/>
<path d="M -3 3 L 3 -3 M -3 -3 L 3 3" transform="translate(1537.26 318.2)" class="c26"/>
<path d="M -3 3 L 3 -3 M -3 -3 L 3 3" transform="translate(1539.85 321.7)" class="c26"/>
<path d="M -3 3 L 3 -3 M -3 -3 L 3 3" transform="translate(1542.43 318.01)" class="c26"/>
<path d="M -3 3 L 3 -3 M -3 -3 L 3 3" transform="translate(1545.02 321.73)" class="c26"/>
<path d="M -3 3 L 3 -3 M -3 -3 L 3 3" transform="translate(1547.6 324.05)" class="c26"/>
<path d="M -3 3 L 3 -3 M -3 -3 L 3 3" transform="translate(1550.19 324.58)" class="c26"/>
<path d="M -3 3 L 3 -3 M -3 -3 L 3 3" transform="translate(1552.78 322.55)" class="c26"/>
<path d="M -3 3 L 3 -3 M -3 -3 L 3 3" transform="translate(1555.36 325.54)" class="c26"/>
<path d="M -3 3 L 3 -3 M -3 -3 L 3 3" transform="translate(1557.95 324.42)" class="c26"/>
<path d="M -3 3 L 3 -3 M -3 -3 L 3 3" transform="translate(1560.53 322.74)" class="c26"/>
<path d="M -3 3 L 3 -3 M -3 -3 L 3 3" transform="translate(1563.12 318.06)" class="c26"/>
<path d="M -3 3 L 3 -3 M -3 -3 L 3 3" transform="translate(1565.71 317.42)" class="c26"/>
<path d="M -3 3 L 3 -3 M -3 -3 L 3 3" transform="translate(1568.29 323.35)" class="c26"/>
<path d="M -3 3 L 3 -3 M -3 -3 L 3 3" transform="translate(1570.88 326.62)" class="c26"/>
<path d="M -3 3 L 3 -3 M -3 -3 L 3 3" transform="translate(1573.46 325.86)" class="c26"/>
<path d="M -3 3 L 3 -3 M -3 -3 L 3 3" transform="translate(1576.05 323.46)" class="c26"/>
<path d="M -3 3 L 3 -3 M -3 -3 L 3 3" transform="translate(1578.64 324.13)" class="c26"/>
<path d="M -3 3 L 3 -3 M -3 -3 L 3 3" transform="translate(1581.22 323.29)" class="c26"/>
<path d="M -3 3 L 3 -3 M -3 -3 L 3 3" transform="translate(1583.81 324.36)" class="c26"/>
<path d="M -3 3 L 3 -3 M -3 -3 L 3 3" transform="translate(1586.4 324.01)" class="c26"/>
<path d="M -3 3 L 3 -3 M -3 -3 L 3 3" transform="translate(1588.98 321.42)" class="c26"/>
<path d="M -3 3 L 3 -3 M -3 -3 L 3 3" transform="translate(1591.57 319.13)" class="c26"/>
<path d="M -3 3 L 3 -3 M -3 -3 L 3 3" transform="translate(1594.15 323.17)" class="c26"/>
<path d="M -3 3 L 3 -3 M -3 -3 L 3 3" transform="translate(1596.74 321.26)" class="c26"/>
<path d="M -3 3 L 3 -3 M -3 -3 L 3 3" transform="translate(1599.33 318.69)" class="c26"/>
<path d="M -3 3 L 3 -3 M -3 -3 L 3 3" transform="translate(1601.91 325.89)" class="c26"/>
<path d="M -3 3 L 3 -3 M -3 -3 L 3 3" transform="translate(1604.5 322.89)" class="c26"/>
<path d="M -3 3 L 3 -3 M -3 -3 L 3 3" transform="translate(1607.08 320.54)" class="c26"/>
<path d="M -3 3 L 3 -3 M -3 -3 L 3 3" transform="translate(1609.67 313.65)" class="c26"/>
<path d="M -3 3 L 3 -3 M -3 -3 L 3 3" transform="translate(1612.26 315.02)" class="c26"/>
<path d="M -3 3 L 3 -3 M -3 -3 L 3 3" transform="translate(1614.84 312.76)" class="c26"/>
<path d="M -3 3 L 3 -3 M -3 -3 L 3 3" transform="translate(1617.43 324.23)" class="c26"/>
<path d="M -3 3 L 3 -3 M -3 -3 L 3 3" transform="translate(1620.01 325.35)" class="c26"/>
<path d="M -3 3 L 3 -3 M -3 -3 L 3 3" transform="translate(1622.6 325.12)" class="c26"/>
<path d="M -3 3 L 3 -3 M -3 -3 L 3 3" transform="translate(1625.19 326.19)" class="c26"/>
<path d="M -3 3 L 3 -3 M -3 -3 L 3 3" transform="translate(1627.77 324.65)" class="c26"/>
<path d="M -3 3 L 3 -3 M -3 -3 L 3 3" transform="translate(1630.36 323.37)" class="c26"/>
<path d="M -3 3 L 3 -3 M -3 -3 L 3 3" transform="translate(1632.94 324.2)" class="c26"/>
<path d="M -3 3 L 3 -3 M -3 -3 L 3 3" transform="translate(1635.53 324.71)" class="c26"/>
<path d="M -3 3 L 3 -3 M -3 -3 L 3 3" transform="translate(1638.12 326.13)" class="c26"/>
<path d="M -3 3 L 3 -3 M -3 -3 L 3 3" transform="translate(1640.7 326.34)" class="c26"/>
<path d="M -3 3 L 3 -3 M -3 -3 L 3 3" transform="translate(1643.29 326.46)" class="c26"/>
<path d="M -3 3 L 3 -3 M -3 -3 L 3 3" transform="translate(1645.87 325.7)" class="c26"/>
<path d="M -3 3 L 3 -3 M -3 -3 L 3 3" transform="translate(1648.46 326.29)" class="c26"/>
<path d="M -3 3 L 3 -3 M -3 -3 L 3 3" transform="translate(1651.05 326.25)" class="c26"/>
<path d="M -3 3 L 3 -3 M -3 -3 L 3 3" transform="translate(1653.63 323.9)" class="c26"/>
<path d="M -3 3 L 3 -3 M -3 -3 L 3 3" transform="translate(1656.22 321.28)" class="c26"/>
<path d="M -3 3 L 3 -3 M -3 -3 L 3 3" transform="translate(1658.81 324.96)" class="c26"/>
<path d="M -3 3 L 3 -3 M -3 -3 L 3 3" transform="translate(1661.39 326.44)" class="c26"/>
<path d="M -3 3 L 3 -3 M -3 -3 L 3 3" transform="translate(1663.98 322.49)" class="c26"/>
<path d="M -3 3 L 3 -3 M -3 -3 L 3 3" transform="translate(1666.56 326.48)" class="c26"/>
<path d="M -3 3 L 3 -3 M -3 -3 L 3 3" transform="translate(1669.15 326.15)" class="c26"/>
<path d="M -3 3 L 3 -3 M -3 -3 L 3 3" transform="translate(1671.74 325.97)" class="c26"/>
<path d="M -3 3 L 3 -3 M -3 -3 L 3 3" transform="translate(1674.32 325.19)" class="c26"/>
<path d="M -3 3 L 3 -3 M -3 -3 L 3 3" transform="translate(1676.91 324.84)" class="c26"/>
<path d="M -3 3 L 3 -3 M -3 -3 L 3 3" transform="translate(1679.49 325.68)" class="c26"/>
<path d="M -3 3 L 3 -3 M -3 -3 L 3 3" transform="translate(1682.08 326.61)" class="c26"/>
<path d="M -3 3 L 3 -3 M -3 -3 L 3 3" transform="translate(1684.67 325.52)" class="c26"/>
<path d="M -3 3 L 3 -3 M -3 -3 L 3 3" transform="translate(1687.25 326.63)" class="c26"/>
<path d="M -3 3 L 3 -3 M -3 -3 L 3 3" transform="translate(1689.84 327.11)" class="c26"/>
<path d="M -3 3 L 3 -3 M -3 -3 L 3 3" transform="translate(1692.42 326.01)" class="c26"/>
<path d="M -3 3 L 3 -3 M -3 -3 L 3 3" transform="translate(1695.01 327.14)" class="c26"/>
<path d="M -3 3 L 3 -3 M -3 -3 L 3 3" transform="translate(1697.6 326.33)" class="c26"/>
<path d="M -3 3 L 3 -3 M -3 -3 L 3 3" transform="translate(1700.18 326.51)" class="c26"/>
<path d="M -3 3 L 3 -3 M -3 -3 L 3 3" transform="translate(1702.77 326.26)" class="c26"/>
<path d="M -3 3 L 3 -3 M -3 -3 L 3 3" transform="translate(1705.35 327.41)" class="c26"/>
<path d="M -3 3 L 3 -3 M -3 -3 L 3 3" transform="translate(1707.94 326.7)" class="c26"/>
<path d="M -3 3 L 3 -3 M -3 -3 L 3 3" transform="translate(1710.53 326.68)" class="c26"/>
<path d="M -3 3 L 3 -3 M -3 -3 L 3 3" transform="translate(1713.11 326.79)" class="c26"/>
<path d="M -3 3 L 3 -3 M -3 -3 L 3 3" transform="translate(1715.7 327.31)" class="c26"/>
<path d="M -3 3 L 3 -3 M -3 -3 L 3 3" transform="translate(1718.28 327.2)" class="c26"/>
<path d="M -3 3 L 3 -3 M -3 -3 L 3 3" transform="translate(1720.87 326.81)" class="c26"/>
<path d="M -3 3 L 3 -3 M -3 -3 L 3 3" transform="translate(1723.46 327.03)" class="c26"/>
<path d="M -3 3 L 3 -3 M -3 -3 L 3 3" transform="translate(1726.04 327.23)" class="c26"/>
<path d="M -3 3 L 3 -3 M -3 -3 L 3 3" transform="translate(1728.63 327.3)" class="c26"/>
<path d="M -3 3 L 3 -3 M -3 -3 L 3 3" transform="translate(1731.21 326.95)" class="c26"/>
<path d="M -3 3 L 3 -3 M -3 -3 L 3 3" transform="translate(1733.8 327.03)" class="c26"/>
<path d="M -3 3 L 3 -3 M -3 -3 L 3 3" transform="translate(1736.39 327.22)" class="c26"/>
</g>
</g>
<g id="line2d_70">
<path d="M 1167.453062 328.674763 L 1729 328.674763" clip-path="url(#p35f3541ee9)" class="c25"/>
</g>
<g id="patch_15">
<path d="M 1197.720 341.640 L 1197.720 66.600" class="c11"/>
</g>
<g id="patch_16">
<path d="M 1706.760 341.640 L 1706.760 66.600" class="c11"/>
</g>
<g id="patch_17">
<path d="M 1197.720 341.640 L 1706.760 341.640" class="c11"/>
</g>
<g id="patch_18">
<path d="M 1197.720 66.600 L 1706.760 66.600" class="c11"/>
</g>
<g id="legend_3">
<g id="patch_19">
<path d="M 1611.25 120.02 L 1699.13 120.02 Q 1701.13 120.02 1701.13 118.02 L 1701.13 73.65 Q 1701.13 71.65 1699.13 71.65 L 1611.25 71.65 Q 1609.25 71.65 1609.25 73.65 L 1609.25 118.02 Q 1609.25 120.02 1611.25 120.02 z" class="c12"/>
</g>
<g id="line2d_71">
<path d="M 1623.251875 82.596938 L 1623.251875 77.784438" class="c24"/>
</g>
<g id="line2d_72">
<path d="M 1613.251875 82.596938 L 1633.251875 82.596938" class="c25"/>
</g>
<g id="line2d_73">
<g>
<path d="M -3 3 L 3 -3 M -3 -3 L 3 3" transform="translate(1623.25 77.78)" class="c5"/>
</g>
</g>
<g id="text_61">
<text class="c13" x="1641.25" y="82.6">steer_state</text>
</g>
<g id="line2d_74">
<path d="M 1623.251875 97.803188 L 1623.251875 92.990688" class="c24"/>
</g>
<g id="line2d_75">
<path d="M 1613.251875 97.803188 L 1633.251875 97.803188" class="c25"/>
</g>
<g id="line2d_76">
<g>
<path d="M -3 3 L 3 -3 M -3 -3 L 3 3" transform="translate(1623.25 92.99)" class="c6"/>
</g>
</g>
<g id="text_62">
<text class="c13" x="1641.25" y="97.8">lateral_acc</text>
</g>
<g id="line2d_77">
<path d="M 1623.251875 113.009438 L 1623.251875 108.196938" class="c24"/>
</g>
<g id="line2d_78">
<path d="M 1613.251875 113.009438 L 1633.251875 113.009438" class="c25"/>
</g>
<g id="line2d_79">
<g>
<path d="M -3 3 L 3 -3 M -3 -3 L 3 3" transform="translate(1623.25 108.2)" class="c26"/>
</g>
</g>
<g id="text_63">
<text class="c13" x="1641.25" y="113.01">lateral_jerk</text>
</g>
</g>
</g>
<g id="axes_4">
<g id="patch_20">
<path d="M 56.09 689.59 L 564.51 689.59 L 564.51 414.45 L 56.09 414.45 z" class="c0"/>
</g>
<g id="PathCollection_7">
<g clip-path="url(#p67c02ab20f)">
<circle cx="519.23" cy="428.93" r="1" class="c6"/>
<circle cx="519.69" cy="428.93" r="1" class="c6"/>
<circle cx="520.15" cy="428.93" r="1" class="c6"/>
<circle cx="520.6" cy="428.93" r="1" class="c6"/>
<circle cx="521.06" cy="428.93" r="1" class="c6"/>
<circle cx="521.52" cy="428.93" r="1" class="c6"/>
<circle cx="521.97" cy="428.93" r="1" class="c6"/>
<circle cx="522.43" cy="428.93" r="1" class="c6"/>
<circle cx="522.89" cy="428.93" r="1" class="c6"/>
<circle cx="523.34" cy="428.93" r="1" class="c6"/>
<circle cx="523.8" cy="428.93" r="1" class="c6"/>
<circle cx="524.26" cy="428.93" r="1" class="c6"/>
<circle cx="524.72" cy="428.93" r="1" class="c6"/>
<circle cx="525.17" cy="428.93" r="1" class="c6"/>
<circle cx="525.63" cy="428.93" r="1" class="c6"/>
<circle cx="526.09" cy="428.93" r="1" class="c6"/>
<circle cx="526.54" cy="428.93" r="1" class="c6"/>
<circle cx="527" cy="428.93" r="1" class="c6"/>
<circle cx="527.46" cy="428.93" r="1" class="c6"/>
<circle cx="527.91" cy="428.93" r="1" class="c6"/>
<circle cx="528.37" cy="428.93" r="1" class="c6"/>
<circle cx="528.83" cy="428.93" r="1" class="c6"/>
<circle cx="529.29" cy="428.93" r="1" class="c6"/>
<circle cx="529.74" cy="428.93" r="1" class="c6"/>
<circle cx="530.2" cy="428.93" r="1" class="c6"/>
<circle cx="530.66" cy="428.93" r="1" class="c6"/>
<circle cx="531.11" cy="428.93" r="1" class="c6"/>
<circle cx="531.57" cy="428.93" r="1" class="c6"/>
<circle cx="532.03" cy="428.93" r="1" class="c6"/>
<circle cx="532.48" cy="428.93" r="1" class="c6"/>
<circle cx="532.94" cy="428.93" r="1" class="c6"/>
<circle cx="533.4" cy="428.93" r="1" class="c6"/>
<circle cx="533.86" cy="428.98" r="1" class="c6"/>
<circle cx="534.31" cy="429.19" r="1" class="c6"/>
<circle cx="534.77" cy="429.48" r="1" class="c6"/>
<circle cx="535.23" cy="429.75" r="1" class="c6"/>
<circle cx="535.68" cy="429.94" r="1" class="c6"/>
<circle cx="536.14" cy="430.1" r="1" class="c6"/>
<circle cx="536.6" cy="430.26" r="1" class="c6"/>
<circle cx="537.05" cy="430.43" r="1" class="c6"/>
<circle cx="537.51" cy="430.67" r="1" class="c6"/>
<circle cx="537.97" cy="430.96" r="1" class="c6"/>
<circle cx="538.43" cy="431.12" r="1" class="c6"/>
<circle cx="538.88" cy="431.12" r="1" class="c6"/>
<circle cx="539.34" cy="431.12" r="1" class="c6"/>
<circle cx="539.8" cy="431.12" r="1" class="c6"/>
<circle cx="540.25" cy="431.12" r="1" class="c6"/>
<circle cx="540.71" cy="431.12" r="1" class="c6"/>
<circle cx="541.17" cy="431.12" r="1" class="c6"/>
<circle cx="541.62" cy="431.12" r="1" class="c6"/>
</g>
</g>
<g id="PathCollection_8">
<g clip-path="url(#p67c02ab20f)">
<circle cx="519.23" cy="428.93" r="1" class="c5"/>
<circle cx="519.69" cy="428.93" r="1" class="c5"/>
<circle cx="520.15" cy="428.93" r="1" class="c5"/>
<circle cx="520.6" cy="428.93" r="1" class="c5"/>
<circle cx="521.06" cy="428.93" r="1" class="c5"/>
<circle cx="521.52" cy="428.93" r="1" class="c5"/>
<circle cx="521.97" cy="428.93" r="1" class="c5"/>
<circle cx="522.43" cy="428.93" r="1" class="c5"/>
<circle cx="522.89" cy="428.93" r="1" class="c5"/>
<circle cx="523.34" cy="428.93" r="1" class="c5"/>
<circle cx="523.8" cy="428.93" r="1" class="c5"/>
<circle cx="524.26" cy="428.93" r="1" class="c5"/>
<circle cx="524.72" cy="428.93" r="1" class="c5"/>
<circle cx="525.17" cy="428.93" r="1" class="c5"/>
<circle cx="525.63" cy="428.93" r="1" class="c5"/>
<circle cx="526.09" cy="428.93" r="1" class="c5"/>
<circle cx="526.54" cy="428.93" r="1" class="c5"/>
<circle cx="527" cy="428.93" r="1" class="c5"/>
<circle cx="527.46" cy="428.93" r="1" class="c5"/>
<circle cx="527.91" cy="428.93" r="1" class="c5"/>
<circle cx="528.37" cy="428.93" r="1" class="c5"/>
<circle cx="528.83" cy="428.93" r="1" class="c5"/>
<circle cx="529.29" cy="428.93" r="1" class="c5"/>
<circle cx="529.74" cy="428.93" r="1" class="c5"/>
<circle cx="530.2" cy="428.93" r="1" class="c5"/>
<circle cx="530.66" cy="428.93" r="1" class="c5"/>
<circle cx="531.11" cy="428.93" r="1" class="c5"/>
<circle cx="531.57" cy="428.93" r="1" class="c5"/>
<circle cx="532.03" cy="428.93" r="1" class="c5"/>
<circle cx="532.48" cy="428.93" r="1" class="c5"/>
<circle cx="532.94" cy="428.93" r="1" class="c5"/>
<circle cx="533.4" cy="428.93" r="1" class="c5"/>
<circle cx="533.86" cy="428.98" r="1" class="c5"/>
<circle cx="534.31" cy="429.19" r="1" class="c5"/>
<circle cx="534.77" cy="429.48" r="1" class="c5"/>
<circle cx="535.23" cy="429.75" r="1" class="c5"/>
<circle cx="535.68" cy="429.94" r="1" class="c5"/>
<circle cx="536.14" cy="430.1" r="1" class="c5"/>
<circle cx="536.6" cy="430.26" r="1" class="c5"/>
<circle cx="537.05" cy="430.43" r="1" class="c5"/>
<circle cx="537.51" cy="430.67" r="1" class="c5"/>
<circle cx="537.97" cy="430.96" r="1" class="c5"/>
<circle cx="538.43" cy="431.12" r="1" class="c5"/>
<circle cx="538.88" cy="431.12" r="1" class="c5"/>
<circle cx="539.34" cy="431.12" r="1" class="c5"/>
<circle cx="539.8" cy="431.12" r="1" class="c5"/>
<circle cx="540.25" cy="431.12" r="1" class="c5"/>
<circle cx="540.71" cy="431.12" r="1" class="c5"/>
<circle cx="541.17" cy="431.12" r="1" class="c5"/>
<circle cx="541.62" cy="431.12" r="1" class="c5"/>
</g>
</g>
<g id="matplotlib.axis_7">
<g id="xtick_24">
<g id="line2d_80">
<g>
<path d="M 0 0 L 0 3.5" transform="translate(79.560 690.120)" class="c7"/>
</g>
</g>
<g id="text_64">
<text class="c8" x="78.99" y="704.19">0</text>
</g>
</g>
<g id="xtick_25">
<g id="line2d_81">
<g>
<path d="M 0 0 L 0 3.5" transform="translate(168.840 690.120)" class="c7"/>
</g>
</g>
<g id="text_65">
<text class="c8" x="168.56" y="704.19">20</text>
</g>
</g>
<g id="xtick_26">
<g id="line2d_82">
<g>
<path d="M 0 0 L 0 3.5" transform="translate(258.840 690.120)" class="c7"/>
</g>
</g>
<g id="text_66">
<text class="c8" x="258.13" y="704.19">40</text>
</g>
</g>
<g id="xtick_27">
<g id="line2d_83">
<g>
<path d="M 0 0 L 0 3.5" transform="translate(348.120 690.120)" class="c7"/>
</g>
</g>
<g id="text_67">
<text class="c8" x="347.7" y="704.19">60</text>
</g>
</g>
<g id="xtick_28">
<g id="line2d_84">
<g>
<path d="M 0 0 L 0 3.5" transform="translate(437.400 690.120)" class="c7"/>
</g>
</g>
<g id="text_68">
<text class="c8" x="437.27" y="704.19">80</text>
</g>
</g>
<g id="xtick_29">
<g id="line2d_85">
<g>
<path d="M 0 0 L 0 3.5" transform="translate(527.400 690.120)" class="c7"/>
</g>
</g>
<g id="text_69">
<text class="c8" x="526.85" y="704.19">100</text>
</g>
</g>
<g id="text_70">
<text class="c8" x="310.3" y="717.87">Time [s]</text>
</g>
</g>
<g id="matplotlib.axis_8">
<g id="ytick_26">
<g id="line2d_86">
<g>
<path d="M 0 0 L -3.5 0" transform="translate(56.520 670.680)" class="c7"/>
</g>
</g>
<g id="text_71">
<text class="c9" x="49.09" y="674.08">0</text>
</g>
</g>
<g id="ytick_27">
<g id="line2d_87">
<g>
<path d="M 0 0 L -3.5 0" transform="translate(56.520 626.760)" class="c7"/>
</g>
</g>
<g id="text_72">
<text class="c9" x="49.09" y="630.2">2</text>
</g>
</g>
<g id="ytick_28">
<g id="line2d_88">
<g>
<path d="M 0 0 L -3.5 0" transform="translate(56.520 582.840)" class="c7"/>
</g>
</g>
<g id="text_73">
<text class="c9" x="49.09" y="586.32">4</text>
</g>
</g>
<g id="ytick_29">
<g id="line2d_89">
<g>
<path d="M 0 0 L -3.5 0" transform="translate(56.520 538.920)" class="c7"/>
</g>
</g>
<g id="text_74">
<text class="c9" x="49.09" y="542.43">6</text>
</g>
</g>
<g id="ytick_30">
<g id="line2d_90">
<g>
<path d="M 0 0 L -3.5 0" transform="translate(56.520 495.000)" class="c7"/>
</g>
</g>
<g id="text_75">
<text class="c9" x="49.09" y="498.55">8</text>
</g>
</g>
<g id="ytick_31">
<g id="line2d_91">
<g>
<path d="M 0 0 L -3.5 0" transform="translate(56.520 451.080)" class="c7"/>
</g>
</g>
<g id="text_76">
<text class="c9" x="49.09" y="454.67">10</text>
</g>
</g>
<g id="text_77">
<text class="c8" x="30.29" y="552.02" transform="rotate(-90 30.29 552.02)">velocity [m/s]</text>
</g>
</g>
<g id="line2d_92">
<path d="M 78.99 428.76 L 80.33 428.23 L 81.9 427.71 L 83.24 427.54 L 84.59 427.67 L 85.71 428.05 L 87.05 428.84 L 88.62 430.12 L 89.51 431.2 L 90.41 432.93 L 91.08 434.58 L 97.8 455.98 L 100.26 465.82 L 102.73 477.12 L 106.53 496.02 L 112.13 525.58 L 123.1 583.42 L 125.12 592.65 L 126.46 597.46 L 127.81 601.02 L 129.82 606.19 L 131.16 609.99 L 132.73 611.99 L 133.4 612.52 L 135.64 613.19 L 136.76 612.9 L 137.21 612.91 L 138.78 612.58 L 139.45 612.45 L 141.02 611.63 L 142.58 610.89 L 144.38 610.43 L 151.77 608.94 L 156.02 608.35 L 157.59 608.32 L 158.93 608.59 L 160.5 609.19 L 162.74 610.41 L 164.98 611.94 L 168.11 614.13 L 169.46 614.75 L 171.47 614.96 L 172.14 614.78 L 173.26 615.02 L 174.61 614.44 L 175.05 614.2 L 175.5 613.65 L 176.17 612.09 L 178.41 605.56 L 179.98 600.51 L 181.77 595.34 L 182.89 590.95 L 184.68 582.64 L 188.49 563.02 L 194.54 530.3 L 203.49 481.99 L 207.52 461.72 L 209.54 452.93 L 211.33 446.36 L 212.67 442.62 L 215.36 436.23 L 217.15 433.51 L 218.27 432.35 L 221.18 429.66 L 222.3 429.04 L 223.87 428.55 L 226.11 428.22 L 231.48 427.58 L 236.19 427.07 L 237.31 427.17 L 238.43 427.62 L 239.77 428.54 L 241.11 429.84 L 242.68 431.93 L 244.02 433.9 L 246.94 440.09 L 248.5 444.22 L 249.85 448.63 L 251.86 456.36 L 253.65 464.41 L 256.34 478.03 L 259.7 496.65 L 270.45 557.78 L 272.46 567.49 L 273.58 571.74 L 274.48 574.25 L 275.82 576.95 L 277.84 580.95 L 278.73 582.81 L 279.4 583.48 L 280.08 584.2 L 281.42 585.75 L 282.76 586.39 L 283.88 586.05 L 285.67 587.57 L 286.12 587.65 L 286.79 587.45 L 287.91 587.11 L 288.81 587.07 L 289.93 585.93 L 290.82 586.25 L 291.94 585.45 L 293.06 585.06 L 299.78 583.42 L 302.47 582.4 L 303.81 582.25 L 305.6 582.38 L 308.07 582.9 L 312.1 584.07 L 313.89 584.81 L 315.46 585.54 L 316.35 585.15 L 316.8 585.47 L 317.47 586.05 L 317.92 585.95 L 318.82 585.71 L 319.71 585.77 L 321.95 586.12 L 322.85 585.88 L 323.52 585.43 L 324.19 584.56 L 324.86 583.61 L 325.76 582.64 L 326.43 581.85 L 327.55 580.88 L 328 579.81 L 332.25 565.71 L 333.82 561.84 L 335.39 557.94 L 336.51 556.02 L 337.4 554.45 L 338.75 552.06 L 339.42 551.21 L 342.1 548.71 L 343.45 547.6 L 344.57 547.08 L 346.36 546.66 L 349.05 546.4 L 352.63 546 L 357.11 545.46 L 358.45 545.54 L 359.79 545.94 L 365.17 547.99 L 369.42 548.81 L 370.99 548.87 L 372.56 548.62 L 373.45 548.18 L 374.13 547.52 L 375.02 546.16 L 375.92 544.71 L 377.26 543.94 L 377.71 543.77 L 378.16 543.16 L 381.96 535.34 L 382.86 533.94 L 383.98 531.46 L 387.34 523.71 L 388.01 522.9 L 390.25 520.66 L 392.04 519.42 L 393.16 518.94 L 394.95 518.59 L 400.55 517.87 L 404.8 517.45 L 406.6 517.56 L 408.16 517.97 L 410.4 518.89 L 420.26 523.36 L 420.7 523.29 L 421.15 522.96 L 422.27 521.72 L 423.84 521 L 424.96 521 L 425.41 520.61 L 425.85 519.72 L 428.54 512.23 L 432.35 499.06 L 433.92 492.53 L 435.71 483.57 L 440.19 460.42 L 442.42 450.88 L 444.22 444.6 L 447.57 434.07 L 448.02 433.33 L 451.83 429.83 L 453.4 428.76 L 454.74 428.21 L 456.31 427.93 L 458.1 427.93 L 460.56 428.25 L 464.59 428.92 L 470.42 428.93 L 519.23 428.93 L 519.23 428.93" clip-path="url(#p67c02ab20f)" class="c10"/>
</g>
<g id="line2d_93">
<path d="M 78.99 428.93 L 89.74 429.02 L 90.63 429.59 L 91.08 430.19 L 91.98 432.22 L 92.87 434.86 L 94.22 439.8 L 97.57 454.24 L 101.83 473.87 L 107.2 500.17 L 125.57 591.33 L 130.49 613.37 L 131.16 615.94 L 132.06 617.95 L 132.73 618.96 L 133.18 619.16 L 133.63 618.88 L 134.3 617.84 L 135.42 615.41 L 136.76 611.48 L 138.11 609.29 L 138.55 609.07 L 170.13 609.15 L 170.58 609.58 L 171.47 611.07 L 172.14 612.56 L 173.71 616.97 L 174.83 618.91 L 175.28 619.16 L 175.5 619.07 L 175.95 618.41 L 176.85 616.06 L 177.74 613.14 L 179.08 607.05 L 186.7 570.56 L 192.74 539.08 L 203.49 482.96 L 207.97 461.33 L 211.55 445.43 L 214.69 432.83 L 215.36 431.07 L 216.26 429.56 L 216.93 429.1 L 217.6 428.93 L 243.8 429.06 L 244.47 429.75 L 245.14 430.75 L 246.04 432.88 L 246.94 435.69 L 248.95 443.47 L 251.41 454.2 L 254.32 468.27 L 258.13 488.29 L 271.12 558.11 L 274.03 571.48 L 276.49 581.45 L 278.73 589.33 L 279.18 590.2 L 280.08 591.14 L 280.75 591.43 L 281.2 591.15 L 281.87 590.01 L 282.76 587.85 L 283.88 584.02 L 284.55 583.07 L 285.23 582.55 L 286.57 582.52 L 288.81 582.41 L 289.71 581.43 L 289.93 581.5 L 290.82 582.52 L 315.23 582.44 L 316.35 581.42 L 316.8 581.7 L 317.47 582.44 L 317.92 582.52 L 324.41 582.55 L 324.86 583.09 L 326.43 585.7 L 327.1 586.54 L 327.55 586.75 L 327.77 586.61 L 328.22 585.68 L 329.56 581.28 L 330.91 575.14 L 335.16 554.79 L 336.28 550.66 L 337.4 547.91 L 338.07 546.77 L 338.97 546.01 L 339.42 545.88 L 375.69 546.02 L 376.37 547.06 L 377.93 549.39 L 378.38 549.04 L 379.28 547.41 L 380.17 544.98 L 381.52 540.17 L 382.86 534.51 L 385.1 524.22 L 386.22 520.25 L 387.11 518.63 L 387.56 518.24 L 390.25 518.23 L 421.82 518.37 L 422.27 518.95 L 423.84 521.99 L 424.96 524.42 L 425.41 524.81 L 425.63 524.75 L 426.08 524.19 L 426.97 522.18 L 427.65 520.28 L 428.76 516 L 432.35 500.47 L 435.71 484.06 L 444.44 440.58 L 446.68 431.12 L 447.57 429.27 L 448.02 428.93 L 519.23 428.93 L 519.23 428.93" clip-path="url(#p67c02ab20f)" class="c27"/>
</g>
<g id="line2d_94">
<path d="M 78.99 670.46 L 80.33 670.98 L 81.9 671.5 L 83.24 671.67 L 84.59 671.54 L 85.71 671.16 L 87.05 670.37 L 88.62 669.09 L 89.74 667.72 L 91.53 665.41 L 92.2 664.97 L 92.87 664.92 L 93.54 665.27 L 94.44 666.17 L 96.68 668.71 L 98.47 670 L 100.04 670.86 L 101.38 671.21 L 103.4 671.33 L 105.86 671.18 L 108.32 670.72 L 115.49 668.88 L 120.64 667.33 L 123.55 666.55 L 124.45 666.62 L 125.34 667.04 L 126.01 667.66 L 126.91 668.99 L 130.72 675.66 L 131.84 676.93 L 132.51 677.26 L 132.96 677.18 L 133.4 676.83 L 134.08 675.84 L 134.97 673.75 L 136.99 668.41 L 137.66 667.4 L 138.33 666.87 L 139 666.77 L 139.9 667.11 L 143.03 668.6 L 146.17 669.31 L 152.66 670.56 L 156.47 671.04 L 158.04 670.97 L 159.6 670.54 L 161.39 669.71 L 163.86 668.21 L 169.01 664.76 L 169.68 664.57 L 170.13 664.65 L 170.58 664.97 L 171.25 665.94 L 172.14 668.06 L 174.61 674.47 L 175.5 675.69 L 176.17 676.1 L 176.85 676.1 L 177.52 675.75 L 178.41 674.94 L 179.53 673.49 L 181.1 670.64 L 182 669.38 L 182.89 668.72 L 184.01 668.35 L 185.35 668.32 L 190.73 668.92 L 195.88 669.81 L 208.2 671.94 L 209.32 671.64 L 210.43 671.05 L 211.33 670.3 L 212.23 669.14 L 214.47 665.89 L 215.36 665.12 L 216.03 665.04 L 216.7 665.38 L 218.05 666.64 L 221.18 669.56 L 222.3 670.17 L 223.87 670.66 L 226.11 670.99 L 231.48 671.63 L 236.19 672.14 L 237.31 672.04 L 238.43 671.59 L 239.77 670.67 L 241.11 669.37 L 242.68 667.29 L 244.02 665.63 L 244.92 664.96 L 245.59 664.88 L 246.26 665.22 L 247.16 666.15 L 248.95 668.15 L 250.52 669.36 L 252.09 670.3 L 253.43 670.74 L 255.22 670.93 L 257.46 670.88 L 259.7 670.51 L 262.61 669.65 L 269.78 667.49 L 271.57 667.14 L 272.46 667.27 L 273.13 667.64 L 273.81 668.35 L 274.7 669.85 L 277.39 675.02 L 278.51 676.55 L 279.18 677.16 L 279.63 677.32 L 280.08 677.23 L 280.52 676.86 L 281.2 675.82 L 282.09 673.73 L 285 665.84 L 285.67 665.23 L 286.12 665.15 L 286.79 665.35 L 287.91 665.69 L 289.71 665.75 L 290.6 666.35 L 291.94 667.35 L 293.06 667.74 L 299.78 669.38 L 302.47 670.4 L 303.81 670.55 L 305.6 670.42 L 308.07 669.9 L 312.1 668.73 L 313.89 667.99 L 316.58 666.52 L 317.25 666.59 L 319.04 667.1 L 320.16 666.93 L 321.73 666.67 L 322.62 666.82 L 323.52 667.37 L 324.19 668.24 L 324.86 669.76 L 326.88 675.05 L 327.77 676.45 L 328.44 677.06 L 329.12 677.24 L 329.79 676.99 L 330.46 676.37 L 331.36 675.06 L 332.48 672.76 L 335.61 665.75 L 336.51 664.31 L 337.18 663.79 L 337.63 663.75 L 338.3 664.05 L 340.09 665.53 L 344.12 668.91 L 345.46 669.33 L 347.48 669.64 L 354.64 670.45 L 357.56 670.7 L 358.9 670.52 L 360.47 669.93 L 364.05 668.44 L 367.18 667.74 L 370.32 667.27 L 371.89 667.39 L 373.01 667.71 L 373.68 668.16 L 374.35 668.93 L 375.25 670.43 L 376.59 673.47 L 377.71 675.79 L 378.38 676.64 L 379.05 677 L 379.5 676.98 L 380.17 676.58 L 380.84 675.75 L 381.52 674.49 L 382.64 671.52 L 384.2 667.33 L 385.1 665.64 L 385.77 664.82 L 386.22 664.58 L 386.67 664.58 L 387.34 664.95 L 388.46 666.11 L 390.03 667.67 L 391.82 668.95 L 392.94 669.49 L 394.5 669.85 L 399.21 670.47 L 405.25 671.07 L 406.82 670.91 L 408.61 670.38 L 411.3 669.21 L 420.26 665.15 L 420.7 665.22 L 421.15 665.55 L 421.82 666.56 L 422.94 669.11 L 424.96 673.7 L 425.85 675.1 L 426.53 675.66 L 427.2 675.74 L 427.87 675.45 L 429.44 674.26 L 433.69 670.81 L 434.59 670.62 L 435.71 670.77 L 438.62 671.47 L 439.51 671.31 L 440.63 670.8 L 441.98 669.86 L 443.1 668.72 L 446.01 665.3 L 446.68 665.09 L 447.35 665.32 L 448.25 666.1 L 451.38 669.01 L 453.17 670.32 L 454.52 670.93 L 455.86 671.24 L 457.65 671.3 L 460.11 671.05 L 465.27 670.28 L 519.23 670.28 L 519.23 670.28" clip-path="url(#p67c02ab20f)" class="c28"/>
</g>
<g id="line2d_95">
<path d="M 78.99 670.28 L 519.23 670.28 L 519.23 670.28" clip-path="url(#p67c02ab20f)" class="c29"/>
</g>
<g id="patch_21">
<path d="M 56.520 690.120 L 56.520 415.080" class="c11"/>
</g>
<g id="patch_22">
<path d="M 564.840 690.120 L 564.840 415.080" class="c11"/>
</g>
<g id="patch_23">
<path d="M 56.520 690.120 L 564.840 690.120" class="c11"/>
</g>
<g id="patch_24">
<path d="M 56.520 415.080 L 564.840 415.080" class="c11"/>
</g>
<g id="text_78">
<text class="c23" transform="translate(162.31 393.58)">abs_max(velocity_error) = 0.3141899955143779</text>
<text class="c23" transform="translate(116.74 409.10)">abs_max(velocity_error[straight_line]) = 0.30793199300053997</text>
</g>
<g id="legend_4">
<g id="patch_25">
<path d="M 405.74 591.92 L 557.51 591.92 Q 559.51 591.92 559.51 589.92 L 559.51 515.42 Q 559.51 513.42 557.51 513.42 L 405.74 513.42 Q 403.74 513.42 403.74 515.42 L 403.74 589.92 Q 403.74 591.92 405.74 591.92 z" class="c12"/>
</g>
<g id="line2d_96">
<path d="M 407.74 520.87 L 417.74 520.87 L 427.74 520.87" class="c10"/>
</g>
<g id="text_79">
<text class="c13" x="435.74" y="524.37">velocity</text>
</g>
<g id="line2d_97">
<path d="M 407.74 535.79 L 417.74 535.79 L 427.74 535.79" class="c27"/>
</g>
<g id="text_80">
<text class="c13" x="435.74" y="539.29">velocity_target</text>
</g>
<g id="line2d_98">
<path d="M 407.74 551 L 417.74 551 L 427.74 551" class="c28"/>
</g>
<g id="text_81">
<text class="c13" x="435.74" y="554.5">velocity_error</text>
</g>
<g id="PathCollection_9">
<g>
<circle cx="417.74" cy="568.08" r="1" class="c6"/>
</g>
</g>
<g id="text_82">
<text class="c13" x="435.74" y="569.71">velocity_true_prediction</text>
</g>
<g id="PathCollection_10">
<g>
<circle cx="417.74" cy="583.29" r="1" class="c5"/>
</g>
</g>
<g id="text_83">
<text class="c13" x="435.74" y="584.91">velocity_prediction_ilqr</text>
</g>
</g>
</g>
<g id="axes_5">
<g id="patch_26">
<path d="M 626.9 689.59 L 1135.32 689.59 L 1135.32 414.45 L 626.9 414.45 z" class="c0"/>
</g>
<g id="PathCollection_11">
<g clip-path="url(#p92c7e84fdc)">
<circle cx="1090.04" cy="552.04" r="1" class="c6"/>
<circle cx="1090.5" cy="552.04" r="1" class="c6"/>
<circle cx="1090.96" cy="552.04" r="1" class="c6"/>
<circle cx="1091.41" cy="552.04" r="1" class="c6"/>
<circle cx="1091.87" cy="552.04" r="1" class="c6"/>
<circle cx="1092.33" cy="552.04" r="1" class="c6"/>
<circle cx="1092.78" cy="552.04" r="1" class="c6"/>
<circle cx="1093.24" cy="552.04" r="1" class="c6"/>
<circle cx="1093.7" cy="552.04" r="1" class="c6"/>
<circle cx="1094.15" cy="552.04" r="1" class="c6"/>
<circle cx="1094.61" cy="552.04" r="1" class="c6"/>
<circle cx="1095.07" cy="552.04" r="1" class="c6"/>
<circle cx="1095.53" cy="552.04" r="1" class="c6"/>
<circle cx="1095.98" cy="552.04" r="1" class="c6"/>
<circle cx="1096.44" cy="552.04" r="1" class="c6"/>
<circle cx="1096.9" cy="552.04" r="1" class="c6"/>
<circle cx="1097.35" cy="552.04" r="1" class="c6"/>
<circle cx="1097.81" cy="552.04" r="1" class="c6"/>
<circle cx="1098.27" cy="552.04" r="1" class="c6"/>
<circle cx="1098.72" cy="552.04" r="1" class="c6"/>
<circle cx="1099.18" cy="552.04" r="1" class="c6"/>
<circle cx="1099.64" cy="552.04" r="1" class="c6"/>
<circle cx="1100.1" cy="552.04" r="1" class="c6"/>
<circle cx="1100.55" cy="552.04" r="1" class="c6"/>
<circle cx="1101.01" cy="552.04" r="1" class="c6"/>
<circle cx="1101.47" cy="552.04" r="1" class="c6"/>
<circle cx="1101.92" cy="552.04" r="1" class="c6"/>
<circle cx="1102.38" cy="552.04" r="1" class="c6"/>
<circle cx="1102.84" cy="552.04" r="1" class="c6"/>
<circle cx="1103.29" cy="552.04" r="1" class="c6"/>
<circle cx="1103.75" cy="552.04" r="1" class="c6"/>
<circle cx="1104.21" cy="552.04" r="1" class="c6"/>
<circle cx="1104.67" cy="552.04" r="1" class="c6"/>
<circle cx="1105.12" cy="552.04" r="1" class="c6"/>
<circle cx="1105.58" cy="552.04" r="1" class="c6"/>
<circle cx="1106.04" cy="552.04" r="1" class="c6"/>
<circle cx="1106.49" cy="552.04" r="1" class="c6"/>
<circle cx="1106.95" cy="552.04" r="1" class="c6"/>
<circle cx="1107.41" cy="552.04" r="1" class="c6"/>
<circle cx="1107.86" cy="552.04" r="1" class="c6"/>
<circle cx="1108.32" cy="552.04" r="1" class="c6"/>
<circle cx="1108.78" cy="552.04" r="1" class="c6"/>
<circle cx="1109.24" cy="552.04" r="1" class="c6"/>
<circle cx="1109.69" cy="552.04" r="1" class="c6"/>
<circle cx="1110.15" cy="552.04" r="1" class="c6"/>
<circle cx="1110.61" cy="552.04" r="1" class="c6"/>
<circle cx="1111.06" cy="552.04" r="1" class="c6"/>
<circle cx="1111.52" cy="552.04" r="1" class="c6"/>
<circle cx="1111.98" cy="552.04" r="1" class="c6"/>
<circle cx="1112.43" cy="552.04" r="1" class="c6"/>
</g>
</g>
<g id="PathCollection_12">
<g clip-path="url(#p92c7e84fdc)">
<circle cx="1090.04" cy="552.27" r="1" class="c5"/>
<circle cx="1090.5" cy="552.27" r="1" class="c5"/>
<circle cx="1090.96" cy="552.27" r="1" class="c5"/>
<circle cx="1091.41" cy="552.27" r="1" class="c5"/>
<circle cx="1091.87" cy="552.27" r="1" class="c5"/>
<circle cx="1092.33" cy="552.27" r="1" class="c5"/>
<circle cx="1092.78" cy="552.27" r="1" class="c5"/>
<circle cx="1093.24" cy="552.27" r="1" class="c5"/>
<circle cx="1093.7" cy="552.27" r="1" class="c5"/>
<circle cx="1094.15" cy="552.27" r="1" class="c5"/>
<circle cx="1094.61" cy="552.27" r="1" class="c5"/>
<circle cx="1095.07" cy="552.27" r="1" class="c5"/>
<circle cx="1095.53" cy="552.27" r="1" class="c5"/>
<circle cx="1095.98" cy="552.27" r="1" class="c5"/>
<circle cx="1096.44" cy="552.27" r="1" class="c5"/>
<circle cx="1096.9" cy="552.27" r="1" class="c5"/>
<circle cx="1097.35" cy="552.27" r="1" class="c5"/>
<circle cx="1097.81" cy="552.27" r="1" class="c5"/>
<circle cx="1098.27" cy="552.27" r="1" class="c5"/>
<circle cx="1098.72" cy="552.27" r="1" class="c5"/>
<circle cx="1099.18" cy="552.27" r="1" class="c5"/>
<circle cx="1099.64" cy="552.27" r="1" class="c5"/>
<circle cx="1100.1" cy="552.27" r="1" class="c5"/>
<circle cx="1100.55" cy="552.27" r="1" class="c5"/>
<circle cx="1101.01" cy="552.27" r="1" class="c5"/>
<circle cx="1101.47" cy="552.27" r="1" class="c5"/>
<circle cx="1101.92" cy="552.27" r="1" class="c5"/>
<circle cx="1102.38" cy="552.27" r="1" class="c5"/>
<circle cx="1102.84" cy="552.27" r="1" class="c5"/>
<circle cx="1103.29" cy="552.27" r="1" class="c5"/>
<circle cx="1103.75" cy="552.27" r="1" class="c5"/>
<circle cx="1104.21" cy="552.27" r="1" class="c5"/>
<circle cx="1104.67" cy="552.27" r="1" class="c5"/>
<circle cx="1105.12" cy="552.27" r="1" class="c5"/>
<circle cx="1105.58" cy="552.27" r="1" class="c5"/>
<circle cx="1106.04" cy="552.27" r="1" class="c5"/>
<circle cx="1106.49" cy="552.27" r="1" class="c5"/>
<circle cx="1106.95" cy="552.27" r="1" class="c5"/>
<circle cx="1107.41" cy="552.27" r="1" class="c5"/>
<circle cx="1107.86" cy="552.27" r="1" class="c5"/>
<circle cx="1108.32" cy="552.27" r="1" class="c5"/>
<circle cx="1108.78" cy="552.27" r="1" class="c5"/>
<circle cx="1109.24" cy="552.27" r="1" class="c5"/>
<circle cx="1109.69" cy="552.27" r="1" class="c5"/>
<circle cx="1110.15" cy="552.27" r="1" class="c5"/>
<circle cx="1110.61" cy="552.27" r="1" class="c5"/>
<circle cx="1111.06" cy="552.27" r="1" class="c5"/>
<circle cx="1111.52" cy="552.27" r="1" class="c5"/>
<circle cx="1111.98" cy="552.27" r="1" class="c5"/>
<circle cx="1112.43" cy="552.27" r="1" class="c5"/>
</g>
</g>
<g id="matplotlib.axis_9">
<g id="xtick_30">
<g id="line2d_99">
<g>
<path d="M 0 0 L 0 3.5" transform="translate(649.800 690.120)" class="c7"/>
</g>
</g>
<g id="text_84">
<text class="c8" x="649.8" y="704.19">0</text>
</g>
</g>
<g id="xtick_31">
<g id="line2d_100">
<g>
<path d="M 0 0 L 0 3.5" transform="translate(739.800 690.120)" class="c7"/>
</g>
</g>
<g id="text_85">
<text class="c8" x="739.37" y="704.19">20</text>
</g>
</g>
<g id="xtick_32">
<g id="line2d_101">
<g>
<path d="M 0 0 L 0 3.5" transform="translate(829.080 690.120)" class="c7"/>
</g>
</g>
<g id="text_86">
<text class="c8" x="828.94" y="704.19">40</text>
</g>
</g>
<g id="xtick_33">
<g id="line2d_102">
<g>
<path d="M 0 0 L 0 3.5" transform="translate(919.080 690.120)" class="c7"/>
</g>
</g>
<g id="text_87">
<text class="c8" x="918.51" y="704.19">60</text>
</g>
</g>
<g id="xtick_34">
<g id="line2d_103">
<g>
<path d="M 0 0 L 0 3.5" transform="translate(1008.360 690.120)" class="c7"/>
</g>
</g>
<g id="text_88">
<text class="c8" x="1008.08" y="704.19">80</text>
</g>
</g>
<g id="xtick_35">
<g id="line2d_104">
<g>
<path d="M 0 0 L 0 3.5" transform="translate(1098.360 690.120)" class="c7"/>
</g>
</g>
<g id="text_89">
<text class="c8" x="1097.66" y="704.19">100</text>
</g>
</g>
<g id="text_90">
<text class="c8" x="881.11" y="717.87">Time [s]</text>
</g>
</g>
<g id="matplotlib.axis_10">
<g id="ytick_32">
<g id="line2d_105">
<g>
<path d="M 0 0 L -3.5 0" transform="translate(627.480 687.240)" class="c7"/>
</g>
</g>
<g id="text_91">
<text class="c9" x="619.9" y="690.65">−0.6</text>
</g>
</g>
<g id="ytick_33">
<g id="line2d_106">
<g>
<path d="M 0 0 L -3.5 0" transform="translate(627.480 642.600)" class="c7"/>
</g>
</g>
<g id="text_92">
<text class="c9" x="619.9" y="645.79">−0.4</text>
</g>
</g>
<g id="ytick_34">
<g id="line2d_107">
<g>
<path d="M 0 0 L -3.5 0" transform="translate(627.480 597.240)" class="c7"/>
</g>
</g>
<g id="text_93">
<text class="c9" x="619.9" y="600.93">−0.2</text>
</g>
</g>
<g id="ytick_35">
<g id="line2d_108">
<g>
<path d="M 0 0 L -3.5 0" transform="translate(627.480 552.600)" class="c7"/>
</g>
</g>
<g id="text_94">
<text class="c9" x="619.9" y="556.07">0.0</text>
</g>
</g>
<g id="ytick_36">
<g id="line2d_109">
<g>
<path d="M 0 0 L -3.5 0" transform="translate(627.480 507.960)" class="c7"/>
</g>
</g>
<g id="text_95">
<text class="c9" x="619.9" y="511.2">0.2</text>
</g>
</g>
<g id="ytick_37">
<g id="line2d_110">
<g>
<path d="M 0 0 L -3.5 0" transform="translate(627.480 462.600)" class="c7"/>
</g>
</g>
<g id="text_96">
<text class="c9" x="619.9" y="466.34">0.4</text>
</g>
</g>
<g id="ytick_38">
<g id="line2d_111">
<g>
<path d="M 0 0 L -3.5 0" transform="translate(627.480 417.960)" class="c7"/>
</g>
</g>
<g id="text_97">
<text class="c9" x="619.9" y="421.48">0.6</text>
</g>
</g>
<g id="text_98">
<text class="c8" x="589.54" y="552.02" transform="rotate(-90 589.54 552.02)">yaw [rad]</text>
</g>
</g>
<g id="line2d_112">
<path d="M 649.8 552.27 L 832.3 552.13 L 835.88 551.38 L 837 551.65 L 838.35 552.34 L 840.36 553.71 L 841.93 555.25 L 842.38 555.37 L 842.82 555.18 L 843.27 554.61 L 843.94 553.11 L 844.84 550.25 L 846.18 544.87 L 847.3 538.74 L 848.65 529.14 L 850.66 511.87 L 853.8 482.24 L 856.26 459.39 L 857.38 451.82 L 858.72 445.1 L 859.62 441.81 L 860.07 440.89 L 860.52 440.49 L 860.96 440.59 L 861.41 441.19 L 861.86 442.32 L 862.53 444.99 L 863.43 450.14 L 864.77 459.81 L 866.11 471.79 L 871.71 526.31 L 876.86 580.43 L 881.79 633.29 L 882.91 642.47 L 884.25 651 L 885.82 659.26 L 886.49 661.57 L 886.94 662.46 L 887.39 662.85 L 887.83 662.74 L 888.28 662.12 L 888.73 660.98 L 889.4 658.27 L 890.3 652.93 L 891.87 640.81 L 894.78 616.51 L 898.58 580.85 L 900.6 567.26 L 901.72 555.21 L 903.06 541.79 L 905.75 518.83 L 908.21 499.42 L 909.33 492.89 L 910.45 488.35 L 912.24 482.65 L 912.91 481.27 L 913.59 480.59 L 914.03 480.51 L 914.48 480.73 L 914.93 481.22 L 915.6 482.55 L 916.27 484.63 L 917.17 488.56 L 918.51 496.16 L 920.75 511.13 L 925.01 541.75 L 930.83 587.37 L 933.29 605.85 L 934.19 610.94 L 935.31 615.63 L 937.1 621.68 L 937.77 623.13 L 938.22 623.6 L 938.67 623.6 L 939.11 622.9 L 939.79 620.58 L 941.58 613.25 L 943.14 608.14 L 943.82 604.96 L 945.61 593.41 L 951.65 552.08 L 954.12 533.64 L 956.58 516.86 L 957.92 509.39 L 959.04 504.72 L 960.61 499.52 L 961.73 496.39 L 962.4 495.18 L 963.07 494.55 L 963.52 494.46 L 963.97 494.61 L 964.42 495 L 965.09 496.08 L 965.76 497.77 L 966.88 501.65 L 967.78 505.69 L 970.02 518.17 L 974.72 546.3 L 982.56 595.93 L 983.9 602.83 L 984.57 604.93 L 986.14 608.14 L 986.81 609.1 L 987.26 609.33 L 987.71 609.12 L 988.15 608.19 L 989.05 604.94 L 989.95 601.85 L 990.84 600.13 L 991.51 598.63 L 992.19 595.95 L 994.2 585.75 L 996.89 572.29 L 998.46 566.19 L 1000.47 558.74 L 1001.37 555.41 L 1002.26 553.44 L 1003.16 552.11 L 1004.05 551.26 L 1005.4 550.44 L 1006.74 549.98 L 1008.08 549.81 L 1011.22 549.92 L 1017.71 550.54 L 1024.21 551.4 L 1030.92 552.07 L 1034.96 552.27 L 1090.04 552.27 L 1090.04 552.27" clip-path="url(#p92c7e84fdc)" class="c10"/>
</g>
<g id="line2d_113">
<path d="M 649.8 552.27 L 845.51 552.27 L 845.74 552.04 L 846.18 550.74 L 846.63 548.31 L 847.53 540.79 L 860.52 427.36 L 860.74 426.92 L 860.96 427.08 L 861.19 427.83 L 861.63 431.1 L 886.71 673.04 L 887.16 676.02 L 887.39 676.6 L 887.61 676.58 L 887.83 675.96 L 888.28 672.91 L 901.72 549.95 L 904.18 532.98 L 913.81 468.14 L 914.03 467.77 L 914.26 467.86 L 914.48 468.39 L 914.93 470.8 L 931.28 587.24 L 938.22 635.28 L 938.67 636.35 L 938.89 636.21 L 939.11 635.63 L 939.56 633.12 L 951.88 547.95 L 963.07 484.7 L 963.52 483.87 L 963.75 484.01 L 964.19 485.4 L 966.88 501.26 L 980.32 580.08 L 987.26 619.2 L 987.48 619.55 L 987.71 619.53 L 987.93 619.15 L 988.38 617.3 L 999.8 554.05 L 1000.25 552.8 L 1000.69 552.27 L 1090.04 552.27 L 1090.04 552.27" clip-path="url(#p92c7e84fdc)" class="c27"/>
</g>
<g id="line2d_114">
<path d="M 649.8 552.27 L 832.3 552.41 L 835.88 553.15 L 837 552.88 L 838.35 552.2 L 840.36 550.82 L 841.93 549.28 L 842.38 549.16 L 842.82 549.35 L 843.27 549.92 L 843.94 551.42 L 844.84 554.28 L 845.96 557.9 L 846.18 558.13 L 846.41 558.14 L 846.63 557.94 L 847.08 556.91 L 847.98 554.88 L 848.65 554.03 L 849.32 553.58 L 849.99 553.43 L 850.89 553.54 L 852.23 554.09 L 853.13 554.77 L 855.14 556.56 L 855.81 556.72 L 856.26 556.52 L 856.71 555.88 L 857.38 554.19 L 858.28 550.96 L 859.4 545.76 L 860.52 539.14 L 860.74 538.71 L 860.96 538.76 L 861.19 539.27 L 861.63 541.68 L 862.53 547.06 L 863.43 550.61 L 864.32 553.09 L 864.99 554.3 L 865.67 554.89 L 866.79 555.11 L 869.25 555.18 L 871.04 555.04 L 872.16 554.52 L 873.73 553.4 L 876.19 551.18 L 877.53 549.33 L 880 545.78 L 880.89 544.98 L 881.56 544.74 L 882.01 544.84 L 882.46 545.37 L 883.13 546.88 L 884.03 549.82 L 885.6 556.31 L 886.49 561.59 L 887.16 565.56 L 887.39 566.02 L 887.61 565.99 L 887.83 565.49 L 888.28 563.06 L 889.18 557.61 L 889.85 554.89 L 890.52 553.17 L 891.42 551.81 L 892.76 550.11 L 893.66 549.03 L 894.33 548.69 L 895 548.84 L 896.12 549.55 L 897.24 550.21 L 897.91 550.27 L 898.14 550.12 L 898.58 549.3 L 900.6 544.29 L 900.82 544.42 L 901.27 545.41 L 903.06 551.11 L 904.18 553.28 L 906.42 556.71 L 907.32 557.8 L 907.99 558.24 L 908.44 558.25 L 908.88 557.9 L 909.56 556.64 L 910.45 554.03 L 912.24 547.49 L 913.14 543.05 L 913.81 539.89 L 914.03 539.53 L 914.26 539.54 L 914.48 539.93 L 914.93 541.85 L 916.05 547.26 L 916.95 550.08 L 917.84 551.85 L 918.74 552.86 L 919.63 553.43 L 920.98 553.85 L 922.99 554.08 L 924.11 554.05 L 925.23 553.66 L 926.35 552.98 L 929.49 550.41 L 932.4 547.76 L 933.07 547.65 L 933.52 547.84 L 933.96 548.43 L 934.64 549.95 L 935.76 553.5 L 937.32 559.41 L 938.44 564.64 L 938.89 565.12 L 939.11 564.99 L 939.56 563.9 L 940.68 561 L 941.35 558.87 L 943.59 551.04 L 944.04 550.42 L 945.16 549.84 L 946.95 549.29 L 949.64 548.45 L 950.53 548.08 L 950.98 548.34 L 951.65 549.42 L 953.22 552.5 L 955.46 555.69 L 956.36 556.53 L 957.03 556.82 L 957.48 556.79 L 957.92 556.51 L 958.6 555.64 L 959.49 553.88 L 961.06 549.95 L 961.95 547.11 L 963.3 541.89 L 963.52 541.68 L 963.75 541.77 L 964.19 542.9 L 965.54 548.43 L 966.43 550.89 L 967.33 552.65 L 968 553.31 L 968.9 553.72 L 970.24 553.98 L 973.38 554.11 L 974.27 553.91 L 975.39 553.31 L 977.41 551.7 L 978.75 550.84 L 981.66 549.39 L 982.56 549.3 L 983.23 549.5 L 983.68 549.82 L 984.12 550.58 L 984.8 552.67 L 987.48 562.52 L 987.93 562.67 L 988.15 562.48 L 989.95 558.96 L 991.96 552.57 L 992.86 551.86 L 993.98 551.37 L 995.77 550.67 L 996.66 550 L 997.56 548.79 L 998.68 546.62 L 999.57 544.76 L 999.8 544.7 L 1000.02 544.9 L 1000.47 545.97 L 1001.81 550.2 L 1002.71 551.83 L 1003.61 552.89 L 1004.73 553.73 L 1006.07 554.36 L 1007.41 554.68 L 1008.98 554.72 L 1012.79 554.48 L 1020.85 553.59 L 1028.01 552.74 L 1033.84 552.28 L 1039.88 552.27 L 1090.04 552.27 L 1090.04 552.27" clip-path="url(#p92c7e84fdc)" class="c28"/>
</g>
<g id="line2d_115">
<path d="M 649.8 552.27 L 1090.04 552.27 L 1090.04 552.27" clip-path="url(#p92c7e84fdc)" class="c29"/>
</g>
<g id="patch_27">
<path d="M 627.480 690.120 L 627.480 415.080" class="c11"/>
</g>
<g id="patch_28">
<path d="M 1135.800 690.120 L 1135.800 415.080" class="c11"/>
</g>
<g id="patch_29">
<path d="M 627.480 690.120 L 1135.800 690.120" class="c11"/>
</g>
<g id="patch_30">
<path d="M 627.480 415.080 L 1135.800 415.080" class="c11"/>
</g>
<g id="text_99">
<text class="c23" transform="translate(736.81 393.58)">abs_max(yaw_error) = 0.059971571820425285</text>
<text class="c23" transform="translate(695.04 409.10)">abs_max(yaw_error[straight_line]) = 0.002079448894939207</text>
</g>
<g id="legend_5">
<g id="patch_31">
<path d="M 995.41 498.6 L 1128.32 498.6 Q 1130.32 498.6 1130.32 496.6 L 1130.32 422.1 Q 1130.32 420.1 1128.32 420.1 L 995.41 420.1 Q 993.41 420.1 993.41 422.1 L 993.41 496.6 Q 993.41 498.6 995.41 498.6 z" class="c12"/>
</g>
<g id="line2d_116">
<path d="M 997.41 427.55 L 1007.41 427.55 L 1017.41 427.55" class="c10"/>
</g>
<g id="text_100">
<text class="c13" x="1025.41" y="431.05">yaw</text>
</g>
<g id="line2d_117">
<path d="M 997.41 442.48 L 1007.41 442.48 L 1017.41 442.48" class="c27"/>
</g>
<g id="text_101">
<text class="c13" x="1025.41" y="445.98">yaw_target</text>
</g>
<g id="line2d_118">
<path d="M 997.41 457.68 L 1007.41 457.68 L 1017.41 457.68" class="c28"/>
</g>
<g id="text_102">
<text class="c13" x="1025.41" y="461.18">yaw_error</text>
</g>
<g id="PathCollection_13">
<g>
<circle cx="1007.41" cy="474.76" r="1" class="c6"/>
</g>
</g>
<g id="text_103">
<text class="c13" x="1025.41" y="476.39">yaw_true_prediction</text>
</g>
<g id="PathCollection_14">
<g>
<circle cx="1007.41" cy="489.97" r="1" class="c5"/>
</g>
</g>
<g id="text_104">
<text class="c13" x="1025.41" y="491.59">yaw_prediction_ilqr</text>
</g>
</g>
</g>
<g id="axes_6">
<g id="patch_32">
<path d="M 56.09 1038.04 L 564.51 1038.04 L 564.51 762.9 L 56.09 762.9 z" class="c0"/>
</g>
<g id="PathCollection_15">
<g clip-path="url(#pe7cffac692)">
<circle cx="519.77" cy="900.88" r="1" class="c6"/>
<circle cx="520.23" cy="901.02" r="1" class="c6"/>
<circle cx="520.68" cy="901.13" r="1" class="c6"/>
<circle cx="521.14" cy="901.19" r="1" class="c6"/>
<circle cx="521.6" cy="901.17" r="1" class="c6"/>
<circle cx="522.05" cy="901.07" r="1" class="c6"/>
<circle cx="522.51" cy="900.85" r="1" class="c6"/>
<circle cx="522.97" cy="900.57" r="1" class="c6"/>
<circle cx="523.43" cy="900.27" r="1" class="c6"/>
<circle cx="523.88" cy="899.96" r="1" class="c6"/>
<circle cx="524.34" cy="899.64" r="1" class="c6"/>
<circle cx="524.8" cy="899.34" r="1" class="c6"/>
<circle cx="525.25" cy="899.05" r="1" class="c6"/>
<circle cx="525.71" cy="898.77" r="1" class="c6"/>
<circle cx="526.17" cy="898.49" r="1" class="c6"/>
<circle cx="526.62" cy="898.23" r="1" class="c6"/>
<circle cx="527.08" cy="897.98" r="1" class="c6"/>
<circle cx="527.54" cy="897.73" r="1" class="c6"/>
<circle cx="528" cy="897.49" r="1" class="c6"/>
<circle cx="528.45" cy="897.28" r="1" class="c6"/>
<circle cx="528.91" cy="897.27" r="1" class="c6"/>
<circle cx="529.37" cy="897.48" r="1" class="c6"/>
<circle cx="529.82" cy="897.9" r="1" class="c6"/>
<circle cx="530.28" cy="898.5" r="1" class="c6"/>
<circle cx="530.74" cy="899.29" r="1" class="c6"/>
<circle cx="531.19" cy="900.33" r="1" class="c6"/>
<circle cx="531.65" cy="901.49" r="1" class="c6"/>
<circle cx="532.11" cy="902.58" r="1" class="c6"/>
<circle cx="532.57" cy="903.51" r="1" class="c6"/>
<circle cx="533.02" cy="904.43" r="1" class="c6"/>
<circle cx="533.48" cy="905.25" r="1" class="c6"/>
<circle cx="533.94" cy="905.84" r="1" class="c6"/>
<circle cx="534.39" cy="906.07" r="1" class="c6"/>
<circle cx="534.85" cy="906.06" r="1" class="c6"/>
<circle cx="535.31" cy="905.92" r="1" class="c6"/>
<circle cx="535.76" cy="905.7" r="1" class="c6"/>
<circle cx="536.22" cy="905.43" r="1" class="c6"/>
<circle cx="536.68" cy="905.14" r="1" class="c6"/>
<circle cx="537.14" cy="904.85" r="1" class="c6"/>
<circle cx="537.59" cy="904.56" r="1" class="c6"/>
<circle cx="538.05" cy="904.26" r="1" class="c6"/>
<circle cx="538.51" cy="903.96" r="1" class="c6"/>
<circle cx="538.96" cy="903.64" r="1" class="c6"/>
<circle cx="539.42" cy="903.3" r="1" class="c6"/>
<circle cx="539.88" cy="902.97" r="1" class="c6"/>
<circle cx="540.33" cy="902.63" r="1" class="c6"/>
<circle cx="540.79" cy="902.29" r="1" class="c6"/>
<circle cx="541.25" cy="901.95" r="1" class="c6"/>
<circle cx="541.7" cy="901.59" r="1" class="c6"/>
<circle cx="542.16" cy="901.23" r="1" class="c6"/>
</g>
</g>
<g id="PathCollection_16">
<g clip-path="url(#pe7cffac692)">
<circle cx="519.77" cy="900.88" r="1" class="c5"/>
<circle cx="520.23" cy="901.02" r="1" class="c5"/>
<circle cx="520.68" cy="901.13" r="1" class="c5"/>
<circle cx="521.14" cy="901.19" r="1" class="c5"/>
<circle cx="521.6" cy="901.17" r="1" class="c5"/>
<circle cx="522.05" cy="901.07" r="1" class="c5"/>
<circle cx="522.51" cy="900.85" r="1" class="c5"/>
<circle cx="522.97" cy="900.57" r="1" class="c5"/>
<circle cx="523.43" cy="900.27" r="1" class="c5"/>
<circle cx="523.88" cy="899.96" r="1" class="c5"/>
<circle cx="524.34" cy="899.64" r="1" class="c5"/>
<circle cx="524.8" cy="899.34" r="1" class="c5"/>
<circle cx="525.25" cy="899.05" r="1" class="c5"/>
<circle cx="525.71" cy="898.77" r="1" class="c5"/>
<circle cx="526.17" cy="898.49" r="1" class="c5"/>
<circle cx="526.62" cy="898.23" r="1" class="c5"/>
<circle cx="527.08" cy="897.98" r="1" class="c5"/>
<circle cx="527.54" cy="897.73" r="1" class="c5"/>
<circle cx="528" cy="897.49" r="1" class="c5"/>
<circle cx="528.45" cy="897.28" r="1" class="c5"/>
<circle cx="528.91" cy="897.27" r="1" class="c5"/>
<circle cx="529.37" cy="897.48" r="1" class="c5"/>
<circle cx="529.82" cy="897.9" r="1" class="c5"/>
<circle cx="530.28" cy="898.5" r="1" class="c5"/>
<circle cx="530.74" cy="899.29" r="1" class="c5"/>
<circle cx="531.19" cy="900.33" r="1" class="c5"/>
<circle cx="531.65" cy="901.49" r="1" class="c5"/>
<circle cx="532.11" cy="902.58" r="1" class="c5"/>
<circle cx="532.57" cy="903.51" r="1" class="c5"/>
<circle cx="533.02" cy="904.43" r="1" class="c5"/>
<circle cx="533.48" cy="905.25" r="1" class="c5"/>
<circle cx="533.94" cy="905.84" r="1" class="c5"/>
<circle cx="534.39" cy="906.07" r="1" class="c5"/>
<circle cx="534.85" cy="906.06" r="1" class="c5"/>
<circle cx="535.31" cy="905.92" r="1" class="c5"/>
<circle cx="535.76" cy="905.7" r="1" class="c5"/>
<circle cx="536.22" cy="905.43" r="1" class="c5"/>
<circle cx="536.68" cy="905.14" r="1" class="c5"/>
<circle cx="537.14" cy="904.85" r="1" class="c5"/>
<circle cx="537.59" cy="904.56" r="1" class="c5"/>
<circle cx="538.05" cy="904.26" r="1" class="c5"/>
<circle cx="538.51" cy="903.96" r="1" class="c5"/>
<circle cx="538.96" cy="903.64" r="1" class="c5"/>
<circle cx="539.42" cy="903.3" r="1" class="c5"/>
<circle cx="539.88" cy="902.97" r="1" class="c5"/>
<circle cx="540.33" cy="902.63" r="1" class="c5"/>
<circle cx="540.79" cy="902.29" r="1" class="c5"/>
<circle cx="541.25" cy="901.95" r="1" class="c5"/>
<circle cx="541.7" cy="901.59" r="1" class="c5"/>
<circle cx="542.16" cy="901.23" r="1" class="c5"/>
</g>
</g>
<g id="PathCollection_17">
<g clip-path="url(#pe7cffac692)">
<circle cx="519.23" cy="900.88" r="1" class="c30"/>
<circle cx="519.69" cy="901.02" r="1" class="c30"/>
<circle cx="520.15" cy="901.13" r="1" class="c30"/>
<circle cx="520.6" cy="901.19" r="1" class="c30"/>
<circle cx="521.06" cy="901.17" r="1" class="c30"/>
<circle cx="521.52" cy="901.07" r="1" class="c30"/>
<circle cx="521.97" cy="900.85" r="1" class="c30"/>
<circle cx="522.43" cy="900.57" r="1" class="c30"/>
<circle cx="522.89" cy="900.27" r="1" class="c30"/>
<circle cx="523.34" cy="899.96" r="1" class="c30"/>
<circle cx="523.8" cy="899.64" r="1" class="c30"/>
<circle cx="524.26" cy="899.34" r="1" class="c30"/>
<circle cx="524.72" cy="899.05" r="1" class="c30"/>
<circle cx="525.17" cy="898.77" r="1" class="c30"/>
<circle cx="525.63" cy="898.49" r="1" class="c30"/>
<circle cx="526.09" cy="898.23" r="1" class="c30"/>
<circle cx="526.54" cy="897.98" r="1" class="c30"/>
<circle cx="527" cy="897.73" r="1" class="c30"/>
<circle cx="527.46" cy="897.49" r="1" class="c30"/>
<circle cx="527.91" cy="897.28" r="1" class="c30"/>
<circle cx="528.37" cy="897.27" r="1" class="c30"/>
<circle cx="528.83" cy="897.48" r="1" class="c30"/>
<circle cx="529.29" cy="897.9" r="1" class="c30"/>
<circle cx="529.74" cy="898.5" r="1" class="c30"/>
<circle cx="530.2" cy="899.29" r="1" class="c30"/>
<circle cx="530.66" cy="900.33" r="1" class="c30"/>
<circle cx="531.11" cy="901.49" r="1" class="c30"/>
<circle cx="531.57" cy="902.58" r="1" class="c30"/>
<circle cx="532.03" cy="903.51" r="1" class="c30"/>
<circle cx="532.48" cy="904.43" r="1" class="c30"/>
<circle cx="532.94" cy="905.25" r="1" class="c30"/>
<circle cx="533.4" cy="905.84" r="1" class="c30"/>
<circle cx="533.86" cy="906.07" r="1" class="c30"/>
<circle cx="534.31" cy="906.06" r="1" class="c30"/>
<circle cx="534.77" cy="905.92" r="1" class="c30"/>
<circle cx="535.23" cy="905.7" r="1" class="c30"/>
<circle cx="535.68" cy="905.43" r="1" class="c30"/>
<circle cx="536.14" cy="905.14" r="1" class="c30"/>
<circle cx="536.6" cy="904.85" r="1" class="c30"/>
<circle cx="537.05" cy="904.56" r="1" class="c30"/>
<circle cx="537.51" cy="904.26" r="1" class="c30"/>
<circle cx="537.97" cy="903.96" r="1" class="c30"/>
<circle cx="538.43" cy="903.64" r="1" class="c30"/>
<circle cx="538.88" cy="903.3" r="1" class="c30"/>
<circle cx="539.34" cy="902.97" r="1" class="c30"/>
<circle cx="539.8" cy="902.63" r="1" class="c30"/>
<circle cx="540.25" cy="902.29" r="1" class="c30"/>
<circle cx="540.71" cy="901.95" r="1" class="c30"/>
<circle cx="541.17" cy="901.59" r="1" class="c30"/>
<circle cx="541.62" cy="901.23" r="1" class="c30"/>
</g>
</g>
<g id="matplotlib.axis_11">
<g id="xtick_36">
<g id="line2d_119">
<g>
<path d="M 0 0 L 0 3.5" transform="translate(79.560 1038.600)" class="c7"/>
</g>
</g>
<g id="text_105">
<text class="c8" x="78.99" y="1052.64">0</text>
</g>
</g>
<g id="xtick_37">
<g id="line2d_120">
<g>
<path d="M 0 0 L 0 3.5" transform="translate(168.840 1038.600)" class="c7"/>
</g>
</g>
<g id="text_106">
<text class="c8" x="168.56" y="1052.64">20</text>
</g>
</g>
<g id="xtick_38">
<g id="line2d_121">
<g>
<path d="M 0 0 L 0 3.5" transform="translate(258.840 1038.600)" class="c7"/>
</g>
</g>
<g id="text_107">
<text class="c8" x="258.13" y="1052.64">40</text>
</g>
</g>
<g id="xtick_39">
<g id="line2d_122">
<g>
<path d="M 0 0 L 0 3.5" transform="translate(348.120 1038.600)" class="c7"/>
</g>
</g>
<g id="text_108">
<text class="c8" x="347.7" y="1052.64">60</text>
</g>
</g>
<g id="xtick_40">
<g id="line2d_123">
<g>
<path d="M 0 0 L 0 3.5" transform="translate(437.400 1038.600)" class="c7"/>
</g>
</g>
<g id="text_109">
<text class="c8" x="437.27" y="1052.64">80</text>
</g>
</g>
<g id="xtick_41">
<g id="line2d_124">
<g>
<path d="M 0 0 L 0 3.5" transform="translate(527.400 1038.600)" class="c7"/>
</g>
</g>
<g id="text_110">
<text class="c8" x="526.85" y="1052.64">100</text>
</g>
</g>
<g id="text_111">
<text class="c8" x="310.3" y="1066.32">Time [s]</text>
</g>
</g>
<g id="matplotlib.axis_12">
<g id="ytick_39">
<g id="line2d_125">
<g>
<path d="M 0 0 L -3.5 0" transform="translate(56.520 1017.720)" class="c7"/>
</g>
</g>
<g id="text_112">
<text class="c9" x="49.09" y="1021">−1.0</text>
</g>
</g>
<g id="ytick_40">
<g id="line2d_126">
<g>
<path d="M 0 0 L -3.5 0" transform="translate(56.520 958.680)" class="c7"/>
</g>
</g>
<g id="text_113">
<text class="c9" x="49.09" y="962.13">−0.5</text>
</g>
</g>
<g id="ytick_41">
<g id="line2d_127">
<g>
<path d="M 0 0 L -3.5 0" transform="translate(56.520 899.640)" class="c7"/>
</g>
</g>
<g id="text_114">
<text class="c9" x="49.09" y="903.27">0.0</text>
</g>
</g>
<g id="ytick_42">
<g id="line2d_128">
<g>
<path d="M 0 0 L -3.5 0" transform="translate(56.520 841.320)" class="c7"/>
</g>
</g>
<g id="text_115">
<text class="c9" x="49.09" y="844.4">0.5</text>
</g>
</g>
<g id="ytick_43">
<g id="line2d_129">
<g>
<path d="M 0 0 L -3.5 0" transform="translate(56.520 782.280)" class="c7"/>
</g>
</g>
<g id="text_116">
<text class="c9" x="49.09" y="785.53">1.0</text>
</g>
</g>
<g id="text_117">
<text class="c8" x="18.73" y="900.47" transform="rotate(-90 18.73 900.47)">acc [m/s^2]</text>
</g>
</g>
<g id="line2d_130">
<path d="M 78.99 899.5 L 79.88 896.59 L 80.78 894.65 L 81.45 893.95 L 82.12 893.74 L 82.57 894 L 83.02 894.64 L 83.69 896.18 L 84.36 898.9 L 86.83 913.61 L 88.62 927.06 L 90.19 940.02 L 92.42 965.4 L 93.99 979.63 L 95.34 989.61 L 96.68 997.15 L 98.25 1004.25 L 99.81 1010.1 L 101.16 1013.89 L 102.28 1016.12 L 103.17 1017.12 L 104.52 1018.13 L 105.64 1018.56 L 111.01 1019.94 L 111.91 1020.62 L 117.5 1025.56 L 118.4 1025.7 L 119.07 1025.55 L 119.74 1024.95 L 120.86 1023.35 L 121.54 1022 L 122.21 1020.05 L 123.1 1016.43 L 124 1011.33 L 125.34 1001.63 L 126.69 989.95 L 128.48 971.26 L 134.08 909.61 L 135.87 895.8 L 136.76 891.13 L 137.43 889.01 L 138.11 887.7 L 139 886.68 L 139.9 886.03 L 140.35 885.98 L 141.24 886.38 L 142.14 887.17 L 143.03 888.51 L 145.94 893.4 L 147.51 895.37 L 148.63 896.29 L 149.97 896.96 L 151.54 897.38 L 152.66 897.35 L 154 897.33 L 155.12 897.71 L 156.02 898.31 L 156.92 899.32 L 158.26 901.39 L 160.05 904.7 L 163.19 910.71 L 165.65 914.55 L 166.77 915.8 L 167.44 916.31 L 167.89 916.24 L 168.34 915.79 L 169.23 914.28 L 169.9 912.7 L 170.8 909.7 L 171.7 905.41 L 172.81 897.92 L 173.93 888.14 L 174.83 877.45 L 180.2 810.55 L 181.77 796.48 L 182.89 788.8 L 184.01 783.43 L 184.68 781.26 L 185.35 780.05 L 186.25 779.02 L 186.92 778.59 L 187.59 778.55 L 189.61 778.91 L 190.73 779.34 L 192.52 780.32 L 193.19 780.28 L 194.31 779.88 L 196.33 778.72 L 201.48 775.76 L 203.05 775.55 L 205.06 775.54 L 206.18 775.98 L 207.52 776.83 L 207.97 777.46 L 208.64 779.15 L 209.54 782.6 L 210.43 787.47 L 211.33 794.23 L 213.35 813.67 L 217.38 855.26 L 218.72 866.55 L 220.29 878.98 L 221.63 887.35 L 222.53 891.43 L 223.42 894.24 L 224.09 895.52 L 225.44 897.02 L 226.33 897.61 L 227.68 897.91 L 228.57 897.91 L 229.47 897.54 L 233.28 895.36 L 235.29 894.68 L 235.74 895.02 L 236.19 895.94 L 236.63 898.32 L 237.31 902.34 L 238.65 909.06 L 244.25 946.51 L 246.71 970.76 L 247.83 982.34 L 248.73 988.31 L 250.97 1000.21 L 252.31 1005.78 L 253.88 1010.94 L 255 1013.82 L 256.12 1016.07 L 257.46 1017.92 L 259.03 1019.69 L 264.4 1024.73 L 265.52 1025.18 L 266.64 1025.37 L 267.31 1025.1 L 268.21 1024.4 L 268.66 1023.92 L 269.33 1022.55 L 270.22 1019.58 L 270.9 1016.22 L 271.79 1009.74 L 272.69 1001.44 L 276.49 962.53 L 277.84 951.44 L 278.96 942.93 L 282.99 911.09 L 284.55 902.11 L 286.79 891.31 L 287.69 888.16 L 288.36 886.88 L 289.03 886.29 L 289.71 886.1 L 290.38 886.3 L 291.05 886.94 L 291.94 888.45 L 293.74 891.78 L 295.3 893.55 L 296.65 894.69 L 298.66 895.95 L 299.56 896.17 L 300.23 896.07 L 302.69 895.09 L 305.83 893.75 L 306.28 894.27 L 306.95 895.91 L 307.84 898.88 L 309.19 904.43 L 310.08 906.3 L 310.98 907.58 L 311.87 908.37 L 312.99 909.06 L 313.67 909.08 L 314.79 908.51 L 316.13 907.54 L 318.14 905.62 L 320.38 903.11 L 321.06 901.64 L 321.73 898.88 L 323.52 888.65 L 325.31 877.39 L 327.33 862.83 L 331.36 833.39 L 332.48 827.75 L 332.92 826.6 L 333.37 826.05 L 334.04 825.82 L 334.49 825.93 L 334.94 826.39 L 335.39 827.3 L 336.06 829.59 L 336.95 833.69 L 338.3 841.72 L 339.87 852.68 L 343.45 879.67 L 344.57 885.64 L 345.46 889.15 L 346.36 891.52 L 347.7 894.12 L 348.6 895.35 L 350.39 896.99 L 351.06 897.31 L 351.73 897.32 L 353.3 896.98 L 355.54 896.15 L 357.33 895.04 L 357.78 895.09 L 358.23 895.9 L 359.35 899.41 L 360.91 904.9 L 361.81 906.54 L 362.71 907.48 L 364.05 908.24 L 364.72 908.37 L 365.39 908.21 L 366.29 907.56 L 367.63 906.09 L 369.87 903.29 L 370.54 901.76 L 371.22 899.39 L 372.56 892.89 L 374.57 882.34 L 380.17 848.83 L 381.29 844.08 L 381.96 842.08 L 382.41 841.42 L 382.86 841.27 L 383.31 841.54 L 383.98 842.52 L 384.65 844.25 L 385.32 846.97 L 386.89 854.86 L 388.46 864.28 L 389.8 872.08 L 390.47 874.01 L 391.14 875.6 L 391.59 877.65 L 392.49 884.58 L 393.16 889.08 L 394.28 893.18 L 395.18 895.28 L 396.74 897.43 L 397.41 897.87 L 398.31 897.8 L 400.33 897.35 L 403.91 896.09 L 405.25 895.67 L 405.7 895.92 L 406.15 896.6 L 406.82 898.55 L 409.51 907.74 L 410.18 908.69 L 410.85 909.02 L 412.42 909.06 L 416 909.15 L 418.91 909.95 L 419.58 909.66 L 420.48 908.92 L 420.93 907.81 L 421.6 904.8 L 422.49 899.24 L 423.39 891.84 L 424.96 875.07 L 431.23 804.87 L 432.57 792.89 L 433.69 785.39 L 434.59 781.28 L 435.48 778.47 L 436.38 776.56 L 437.05 775.74 L 437.5 775.49 L 437.95 775.53 L 438.39 775.92 L 439.07 777.1 L 439.74 778.97 L 440.41 781.77 L 441.3 786.99 L 442.42 795.48 L 444.44 815.05 L 449.81 869.66 L 451.38 880.98 L 452.73 888.91 L 453.84 893.79 L 454.74 896.58 L 455.64 898.44 L 456.76 900.18 L 457.43 900.82 L 458.55 901.27 L 459.67 901.51 L 460.56 901.45 L 471.31 899.58 L 474 899.5 L 519.23 899.5 L 519.23 899.5" clip-path="url(#pe7cffac692)" class="c10"/>
</g>
<g id="line2d_131">
<path d="M 78.99 895.49 L 79.66 894.34 L 80.33 893.83 L 80.78 893.74 L 81.23 894 L 81.68 894.64 L 82.35 896.18 L 83.02 898.9 L 85.48 913.61 L 87.27 927.06 L 88.84 940.02 L 91.08 965.4 L 92.65 979.63 L 93.99 989.61 L 95.34 997.15 L 96.9 1004.25 L 98.47 1010.1 L 99.81 1013.89 L 100.93 1016.12 L 101.83 1017.12 L 103.17 1018.13 L 104.29 1018.56 L 109.67 1019.94 L 110.56 1020.62 L 116.16 1025.56 L 117.06 1025.7 L 117.73 1025.55 L 118.4 1024.95 L 119.52 1023.35 L 120.19 1022 L 120.86 1020.05 L 121.76 1016.43 L 122.65 1011.33 L 124 1001.63 L 125.34 989.95 L 127.13 971.26 L 132.73 909.61 L 134.52 895.8 L 135.42 891.13 L 136.09 889.01 L 136.76 887.7 L 137.66 886.68 L 138.55 886.03 L 139 885.98 L 139.9 886.38 L 140.79 887.17 L 141.69 888.51 L 144.6 893.4 L 146.17 895.37 L 147.29 896.29 L 148.63 896.96 L 150.2 897.38 L 151.32 897.35 L 152.66 897.33 L 153.78 897.71 L 154.68 898.31 L 155.57 899.32 L 156.92 901.39 L 158.71 904.7 L 161.84 910.71 L 164.31 914.55 L 165.43 915.8 L 166.1 916.31 L 166.54 916.24 L 166.99 915.79 L 167.89 914.28 L 168.56 912.7 L 169.46 909.7 L 170.35 905.41 L 171.47 897.92 L 172.59 888.14 L 173.49 877.45 L 178.86 810.55 L 180.43 796.48 L 181.55 788.8 L 182.67 783.43 L 183.34 781.26 L 184.01 780.05 L 184.91 779.02 L 185.58 778.59 L 186.25 778.55 L 188.27 778.91 L 189.39 779.34 L 191.18 780.32 L 191.85 780.28 L 192.97 779.88 L 194.98 778.72 L 200.13 775.76 L 201.7 775.55 L 203.72 775.54 L 204.84 775.98 L 206.18 776.83 L 206.63 777.46 L 207.3 779.15 L 208.2 782.6 L 209.09 787.47 L 209.99 794.23 L 212 813.67 L 216.03 855.26 L 217.38 866.55 L 218.94 878.98 L 220.29 887.35 L 221.18 891.43 L 222.08 894.24 L 222.75 895.52 L 224.09 897.02 L 224.99 897.61 L 226.33 897.91 L 227.23 897.91 L 228.13 897.54 L 231.93 895.36 L 233.95 894.68 L 234.4 895.02 L 234.84 895.94 L 235.29 898.32 L 235.96 902.34 L 237.31 909.06 L 242.9 946.51 L 245.37 970.76 L 246.49 982.34 L 247.38 988.31 L 249.62 1000.21 L 250.97 1005.78 L 252.53 1010.94 L 253.65 1013.82 L 254.77 1016.07 L 256.12 1017.92 L 257.68 1019.69 L 263.06 1024.73 L 264.18 1025.18 L 265.3 1025.37 L 265.97 1025.1 L 266.86 1024.4 L 267.31 1023.92 L 267.98 1022.55 L 268.88 1019.58 L 269.55 1016.22 L 270.45 1009.74 L 271.34 1001.44 L 275.15 962.53 L 276.49 951.44 L 277.61 942.93 L 281.64 911.09 L 283.21 902.11 L 285.45 891.31 L 286.35 888.16 L 287.02 886.88 L 287.69 886.29 L 288.36 886.1 L 289.03 886.3 L 289.71 886.94 L 290.6 888.45 L 292.39 891.78 L 293.96 893.55 L 295.3 894.69 L 297.32 895.95 L 298.21 896.17 L 298.89 896.07 L 301.35 895.09 L 304.48 893.75 L 304.93 894.27 L 305.6 895.91 L 306.5 898.88 L 307.84 904.43 L 308.74 906.3 L 309.63 907.58 L 310.53 908.37 L 311.65 909.06 L 312.32 909.08 L 313.44 908.51 L 314.79 907.54 L 316.8 905.62 L 319.04 903.11 L 319.71 901.64 L 320.38 898.88 L 322.17 888.65 L 323.97 877.39 L 325.98 862.83 L 330.01 833.39 L 331.13 827.75 L 331.58 826.6 L 332.03 826.05 L 332.7 825.82 L 333.15 825.93 L 333.6 826.39 L 334.04 827.3 L 334.71 829.59 L 335.61 833.69 L 336.95 841.72 L 338.52 852.68 L 342.1 879.67 L 343.22 885.64 L 344.12 889.15 L 345.02 891.52 L 346.36 894.12 L 347.25 895.35 L 349.05 896.99 L 349.72 897.31 L 350.39 897.32 L 351.96 896.98 L 354.2 896.15 L 355.99 895.04 L 356.44 895.09 L 356.88 895.9 L 358 899.41 L 359.57 904.9 L 360.47 906.54 L 361.36 907.48 L 362.71 908.24 L 363.38 908.37 L 364.05 908.21 L 364.95 907.56 L 366.29 906.09 L 368.53 903.29 L 369.2 901.76 L 369.87 899.39 L 371.22 892.89 L 373.23 882.34 L 378.83 848.83 L 379.95 844.08 L 380.62 842.08 L 381.07 841.42 L 381.52 841.27 L 381.96 841.54 L 382.64 842.52 L 383.31 844.25 L 383.98 846.97 L 385.55 854.86 L 387.11 864.28 L 388.46 872.08 L 389.13 874.01 L 389.8 875.6 L 390.25 877.65 L 391.14 884.58 L 391.82 889.08 L 392.94 893.18 L 393.83 895.28 L 395.4 897.43 L 396.07 897.87 L 396.97 897.8 L 398.98 897.35 L 402.57 896.09 L 403.91 895.67 L 404.36 895.92 L 404.8 896.6 L 405.48 898.55 L 408.16 907.74 L 408.84 908.69 L 409.51 909.02 L 411.07 909.06 L 414.66 909.15 L 417.57 909.95 L 418.24 909.66 L 419.14 908.92 L 419.58 907.81 L 420.26 904.8 L 421.15 899.24 L 422.05 891.84 L 423.61 875.07 L 429.88 804.87 L 431.23 792.89 L 432.35 785.39 L 433.24 781.28 L 434.14 778.47 L 435.03 776.56 L 435.71 775.74 L 436.15 775.49 L 436.6 775.53 L 437.05 775.92 L 437.72 777.1 L 438.39 778.97 L 439.07 781.77 L 439.96 786.99 L 441.08 795.48 L 443.1 815.05 L 448.47 869.66 L 450.04 880.98 L 451.38 888.91 L 452.5 893.79 L 453.4 896.58 L 454.29 898.44 L 455.41 900.18 L 456.08 900.82 L 457.2 901.27 L 458.32 901.51 L 459.22 901.45 L 469.97 899.58 L 472.65 899.5 L 519.23 899.5 L 519.23 899.5" clip-path="url(#pe7cffac692)" class="c31"/>
</g>
<g id="line2d_132">
<path d="M 78.99 899.47 L 89.96 899.47 L 90.19 901.9 L 94.44 1017.2 L 129.15 1017.2 L 135.87 826.4 L 136.09 824.59 L 139.45 899.47 L 169.23 899.47 L 169.68 907.59 L 172.59 973.54 L 172.81 973.9 L 179.31 781.74 L 214.02 781.74 L 214.24 784.04 L 218.72 899.47 L 243.35 899.47 L 243.58 901.82 L 248.05 1017.2 L 276.72 1017.2 L 277.39 1001.38 L 284.33 826.24 L 286.79 901.1 L 287.24 906.53 L 287.91 896.17 L 288.81 874.2 L 289.26 882.99 L 289.93 899.47 L 290.38 899.47 L 290.82 919.09 L 291.05 917.58 L 291.5 899.47 L 292.17 899.47 L 292.62 891.23 L 293.29 899.47 L 313.67 899.47 L 314.34 907.71 L 314.79 899.47 L 315.23 873.1 L 315.9 899.47 L 316.8 899.47 L 317.7 923.31 L 318.37 899.47 L 319.04 899.47 L 319.49 887.7 L 319.71 888.6 L 320.16 899.47 L 322.62 899.47 L 325.76 950.45 L 331.8 781.74 L 335.61 781.74 L 341.66 899.47 L 342.33 899.47 L 342.78 891.23 L 343.67 905.36 L 344.34 899.47 L 367.41 899.47 L 368.08 908.3 L 368.75 899.47 L 373.9 899.47 L 374.35 906.21 L 376.37 941.93 L 381.74 781.74 L 384.43 781.74 L 389.35 899.47 L 391.82 899.47 L 392.26 895.19 L 392.71 900.06 L 392.94 903 L 393.38 899.47 L 415.55 899.47 L 416.22 893.58 L 416.9 904.18 L 417.57 899.47 L 419.81 899.47 L 422.94 970.11 L 430.11 781.74 L 444.89 781.74 L 445.11 782.82 L 450.04 899.47 L 519.23 899.47 L 519.23 899.47" clip-path="url(#pe7cffac692)" class="c27"/>
</g>
<g id="line2d_133">
<path d="M 78.99 899.43 L 79.88 902.35 L 80.78 904.29 L 81.45 904.99 L 82.12 905.2 L 82.57 904.93 L 83.02 904.3 L 83.69 902.75 L 84.36 900.03 L 86.83 885.33 L 88.62 871.88 L 89.96 861.08 L 90.19 861.35 L 92.65 900.48 L 94.44 933.45 L 95.78 924.34 L 97.35 916.3 L 99.14 908.9 L 100.49 904.52 L 101.61 901.77 L 102.5 900.24 L 103.62 899.16 L 104.74 898.42 L 105.86 898.05 L 110.56 896.95 L 111.46 896.43 L 113.03 894.97 L 115.71 892.47 L 117.28 891.2 L 118.18 890.98 L 118.85 891.02 L 119.52 891.48 L 120.42 892.62 L 121.31 894.16 L 121.98 895.9 L 122.88 899.21 L 123.77 903.93 L 125.12 913.32 L 126.46 924.57 L 128.25 942.89 L 129.15 952.97 L 133.63 875.88 L 136.09 829.65 L 137.88 875.93 L 139.45 912.65 L 140.12 912.96 L 140.79 912.8 L 141.69 912.22 L 142.36 911.48 L 143.48 909.62 L 145.5 906.19 L 147.06 904.06 L 148.18 902.97 L 149.3 902.27 L 150.65 901.76 L 151.99 901.54 L 154.23 901.55 L 155.35 901.11 L 156.24 900.41 L 157.14 899.3 L 158.71 896.77 L 160.72 892.88 L 162.96 888.6 L 165.43 884.7 L 166.54 883.35 L 167.44 882.63 L 167.89 882.69 L 168.34 883.15 L 169.23 884.66 L 169.68 893.76 L 171.92 953.7 L 172.81 975.44 L 174.61 939.31 L 179.31 860.74 L 180.65 874.97 L 182.22 888.09 L 183.34 894.79 L 184.24 898.6 L 184.91 900.46 L 185.8 901.72 L 186.7 902.51 L 187.37 902.67 L 189.61 902.29 L 190.73 901.86 L 192.52 900.89 L 193.19 900.92 L 194.31 901.32 L 196.33 902.48 L 201.48 905.44 L 203.05 905.65 L 205.06 905.66 L 206.18 905.23 L 207.52 904.38 L 207.97 903.74 L 208.64 902.05 L 209.54 898.6 L 210.43 893.74 L 211.33 886.97 L 213.35 867.53 L 214.02 860.36 L 214.24 860.31 L 218.5 928.33 L 218.72 932.39 L 220.29 919.96 L 221.63 911.58 L 222.53 907.5 L 223.42 904.69 L 224.09 903.41 L 225.44 901.92 L 226.33 901.33 L 227.68 901.02 L 228.57 901.03 L 229.47 901.4 L 233.28 903.57 L 235.29 904.25 L 235.74 903.92 L 236.19 903 L 236.63 900.62 L 237.31 896.59 L 238.65 889.88 L 243.35 859.59 L 243.58 860.36 L 245.37 891.05 L 247.83 930.79 L 248.05 932.62 L 249.17 925.88 L 251.41 914.47 L 252.76 909.29 L 254.32 904.48 L 255.67 901.42 L 256.56 899.93 L 258.58 897.43 L 262.39 893.73 L 264.4 891.94 L 265.52 891.49 L 266.64 891.3 L 267.31 891.57 L 268.21 892.27 L 268.66 892.75 L 269.33 894.12 L 270.22 897.09 L 270.9 900.45 L 271.79 906.93 L 272.69 915.23 L 276.49 954.14 L 276.72 956.16 L 277.17 950 L 282.54 856.86 L 284.33 822.42 L 286.79 909.26 L 287.24 916.48 L 287.69 911.95 L 288.36 897.78 L 288.81 887.23 L 289.26 896.27 L 289.93 912.82 L 290.38 912.64 L 290.82 931.89 L 291.05 930.11 L 291.5 911.32 L 292.17 910.05 L 292.62 900.9 L 293.29 907.86 L 294.18 906.61 L 295.75 904.96 L 297.32 903.77 L 298.66 902.99 L 299.56 902.77 L 300.23 902.86 L 302.69 903.84 L 305.83 905.19 L 306.28 904.67 L 306.95 903.02 L 307.84 900.06 L 309.19 894.51 L 310.08 892.63 L 310.98 891.36 L 311.87 890.57 L 312.99 889.88 L 313.67 889.86 L 314.34 898.41 L 314.79 890.42 L 315.23 864.34 L 315.9 891.22 L 316.8 892 L 317.7 916.71 L 318.37 893.55 L 319.04 894.25 L 319.49 882.94 L 319.71 884.07 L 320.16 895.48 L 320.83 896.71 L 321.28 898.05 L 321.95 901.23 L 322.62 905.11 L 325.76 975.6 L 331.58 851.65 L 331.8 850.32 L 332.48 853.45 L 332.92 854.61 L 333.37 855.15 L 334.04 855.39 L 334.49 855.27 L 334.94 854.81 L 335.39 853.9 L 335.61 853.24 L 337.4 880.44 L 339.87 912.62 L 341.43 931.09 L 341.66 931.98 L 342.33 926.8 L 342.78 915.37 L 343.67 923.83 L 344.34 914.35 L 345.46 909.79 L 346.36 907.41 L 347.7 904.82 L 348.6 903.59 L 350.39 901.95 L 351.06 901.63 L 351.73 901.62 L 353.3 901.95 L 355.54 902.79 L 357.33 903.9 L 357.78 903.85 L 358.23 903.04 L 359.35 899.53 L 360.91 894.04 L 361.81 892.39 L 362.71 891.45 L 364.05 890.7 L 364.72 890.57 L 365.39 890.72 L 366.29 891.38 L 367.41 892.57 L 368.08 902.22 L 368.75 894.15 L 369.65 895.28 L 370.32 896.59 L 370.99 898.65 L 371.89 902.66 L 373.9 912.65 L 374.35 921.96 L 376.37 970.03 L 381.74 838.59 L 381.96 839.12 L 382.41 839.78 L 382.86 839.94 L 383.31 839.67 L 383.98 838.69 L 384.43 837.63 L 386.44 877.79 L 389.13 927.28 L 389.35 929.24 L 390.03 926.03 L 391.37 922.47 L 391.82 919.78 L 392.26 911.92 L 392.49 912 L 392.94 914.61 L 393.38 908.91 L 394.28 905.75 L 395.18 903.65 L 396.74 901.51 L 397.41 901.07 L 398.31 901.14 L 400.33 901.59 L 403.91 902.85 L 405.25 903.27 L 405.7 903.02 L 406.15 902.34 L 406.82 900.39 L 409.51 891.2 L 410.18 890.25 L 410.85 889.92 L 412.42 889.88 L 415.55 889.89 L 416.22 883.84 L 416.9 894.18 L 417.57 889.21 L 418.69 888.95 L 419.36 889.15 L 419.81 889.42 L 421.6 934.5 L 422.94 973.87 L 424.51 948.3 L 427.65 902.89 L 430.11 864.74 L 431.9 882.68 L 433.24 893.13 L 434.14 898.08 L 435.03 901.44 L 435.93 903.81 L 436.6 904.98 L 437.27 905.62 L 437.72 905.74 L 438.17 905.52 L 438.62 904.96 L 439.29 903.57 L 439.96 901.41 L 440.63 898.28 L 441.53 892.71 L 442.65 883.69 L 445.11 860.11 L 448.69 909.05 L 450.04 927.49 L 452.05 913.73 L 453.17 907.88 L 454.29 903.63 L 455.19 901.33 L 456.53 899.05 L 457.43 898.12 L 458.55 897.67 L 459.67 897.42 L 460.56 897.49 L 471.31 899.35 L 474 899.43 L 519.23 899.43 L 519.23 899.43" clip-path="url(#pe7cffac692)" class="c28"/>
</g>
<g id="line2d_134">
<path d="M 78.99 899.47 L 519.23 899.47 L 519.23 899.47" clip-path="url(#pe7cffac692)" class="c29"/>
</g>
<g id="patch_33">
<path d="M 56.520 1038.600 L 56.520 763.560" class="c11"/>
</g>
<g id="patch_34">
<path d="M 564.840 1038.600 L 564.840 763.560" class="c11"/>
</g>
<g id="patch_35">
<path d="M 56.520 1038.600 L 564.840 1038.600" class="c11"/>
</g>
<g id="patch_36">
<path d="M 56.520 763.560 L 564.840 763.560" class="c11"/>
</g>
<g id="text_118">
<text class="c23" transform="translate(183.13 742.03)">abs_max(acc_error) = 0.68035626371632</text>
<text class="c23" transform="translate(133.73 757.55)">abs_max(acc_error[straight_line]) = 0.6606958034072973</text>
</g>
<g id="legend_6">
<g id="patch_37">
<path d="M 427.7 1033.69 L 557.51 1033.69 Q 559.51 1033.69 559.51 1031.69 L 559.51 926.77 Q 559.51 924.77 557.51 924.77 L 427.7 924.77 Q 425.7 924.77 425.7 926.77 L 425.7 1031.69 Q 425.7 1033.69 427.7 1033.69 z" class="c12"/>
</g>
<g id="line2d_135">
<path d="M 429.7 932.22 L 439.7 932.22 L 449.7 932.22" class="c10"/>
</g>
<g id="text_119">
<text class="c13" x="457.7" y="935.72">acc</text>
</g>
<g id="line2d_136">
<path d="M 429.7 947.15 L 439.7 947.15 L 449.7 947.15" class="c31"/>
</g>
<g id="text_120">
<text class="c13" x="457.7" y="950.65">acc_input</text>
</g>
<g id="line2d_137">
<path d="M 429.7 962.36 L 439.7 962.36 L 449.7 962.36" class="c27"/>
</g>
<g id="text_121">
<text class="c13" x="457.7" y="965.86">acc_target</text>
</g>
<g id="line2d_138">
<path d="M 429.7 977.56 L 439.7 977.56 L 449.7 977.56" class="c28"/>
</g>
<g id="text_122">
<text class="c13" x="457.7" y="981.06">acc_error</text>
</g>
<g id="PathCollection_18">
<g>
<circle cx="439.7" cy="994.64" r="1" class="c6"/>
</g>
</g>
<g id="text_123">
<text class="c13" x="457.7" y="996.27">acc_true_prediction</text>
</g>
<g id="PathCollection_19">
<g>
<circle cx="439.7" cy="1009.85" r="1" class="c5"/>
</g>
</g>
<g id="text_124">
<text class="c13" x="457.7" y="1011.48">acc_prediction_ilqr</text>
</g>
<g id="PathCollection_20">
<g>
<circle cx="439.7" cy="1025.06" r="1" class="c30"/>
</g>
</g>
<g id="text_125">
<text class="c13" x="457.7" y="1026.68">acc_input_schedule</text>
</g>
</g>
</g>
<g id="axes_7">
<g id="patch_38">
<path d="M 626.9 1038.04 L 1135.32 1038.04 L 1135.32 762.9 L 626.9 762.9 z" class="c0"/>
</g>
<g id="PathCollection_21">
<g clip-path="url(#p750e85d396)">
<circle cx="1090.94" cy="904.2" r="1" class="c6"/>
<circle cx="1091.39" cy="904.2" r="1" class="c6"/>
<circle cx="1091.85" cy="904.2" r="1" class="c6"/>
<circle cx="1092.31" cy="904.2" r="1" class="c6"/>
<circle cx="1092.77" cy="904.2" r="1" class="c6"/>
<circle cx="1093.22" cy="904.2" r="1" class="c6"/>
<circle cx="1093.68" cy="904.2" r="1" class="c6"/>
<circle cx="1094.14" cy="904.2" r="1" class="c6"/>
<circle cx="1094.59" cy="904.2" r="1" class="c6"/>
<circle cx="1095.05" cy="904.2" r="1" class="c6"/>
<circle cx="1095.51" cy="904.2" r="1" class="c6"/>
<circle cx="1095.96" cy="904.2" r="1" class="c6"/>
<circle cx="1096.42" cy="904.2" r="1" class="c6"/>
<circle cx="1096.88" cy="904.2" r="1" class="c6"/>
<circle cx="1097.34" cy="904.2" r="1" class="c6"/>
<circle cx="1097.79" cy="904.2" r="1" class="c6"/>
<circle cx="1098.25" cy="904.2" r="1" class="c6"/>
<circle cx="1098.71" cy="904.2" r="1" class="c6"/>
<circle cx="1099.16" cy="904.2" r="1" class="c6"/>
<circle cx="1099.62" cy="904.2" r="1" class="c6"/>
<circle cx="1100.08" cy="904.2" r="1" class="c6"/>
<circle cx="1100.53" cy="904.2" r="1" class="c6"/>
<circle cx="1100.99" cy="904.2" r="1" class="c6"/>
<circle cx="1101.45" cy="904.2" r="1" class="c6"/>
<circle cx="1101.91" cy="904.2" r="1" class="c6"/>
<circle cx="1102.36" cy="904.2" r="1" class="c6"/>
<circle cx="1102.82" cy="904.2" r="1" class="c6"/>
<circle cx="1103.28" cy="904.2" r="1" class="c6"/>
<circle cx="1103.73" cy="904.2" r="1" class="c6"/>
<circle cx="1104.19" cy="904.2" r="1" class="c6"/>
<circle cx="1104.65" cy="904.2" r="1" class="c6"/>
<circle cx="1105.1" cy="904.2" r="1" class="c6"/>
<circle cx="1105.56" cy="904.2" r="1" class="c6"/>
<circle cx="1106.02" cy="904.2" r="1" class="c6"/>
<circle cx="1106.48" cy="904.2" r="1" class="c6"/>
<circle cx="1106.93" cy="904.2" r="1" class="c6"/>
<circle cx="1107.39" cy="904.2" r="1" class="c6"/>
<circle cx="1107.85" cy="904.2" r="1" class="c6"/>
<circle cx="1108.3" cy="904.2" r="1" class="c6"/>
<circle cx="1108.76" cy="904.2" r="1" class="c6"/>
<circle cx="1109.22" cy="904.2" r="1" class="c6"/>
<circle cx="1109.67" cy="904.2" r="1" class="c6"/>
<circle cx="1110.13" cy="904.2" r="1" class="c6"/>
<circle cx="1110.59" cy="904.2" r="1" class="c6"/>
<circle cx="1111.05" cy="904.2" r="1" class="c6"/>
<circle cx="1111.5" cy="904.2" r="1" class="c6"/>
<circle cx="1111.96" cy="904.2" r="1" class="c6"/>
<circle cx="1112.42" cy="904.2" r="1" class="c6"/>
<circle cx="1112.87" cy="904.2" r="1" class="c6"/>
<circle cx="1113.33" cy="904.2" r="1" class="c6"/>
</g>
</g>
<g id="PathCollection_22">
<g clip-path="url(#p750e85d396)">
<circle cx="1090.94" cy="904.2" r="1" class="c5"/>
<circle cx="1091.39" cy="904.2" r="1" class="c5"/>
<circle cx="1091.85" cy="904.2" r="1" class="c5"/>
<circle cx="1092.31" cy="904.2" r="1" class="c5"/>
<circle cx="1092.77" cy="904.2" r="1" class="c5"/>
<circle cx="1093.22" cy="904.2" r="1" class="c5"/>
<circle cx="1093.68" cy="904.2" r="1" class="c5"/>
<circle cx="1094.14" cy="904.2" r="1" class="c5"/>
<circle cx="1094.59" cy="904.2" r="1" class="c5"/>
<circle cx="1095.05" cy="904.2" r="1" class="c5"/>
<circle cx="1095.51" cy="904.2" r="1" class="c5"/>
<circle cx="1095.96" cy="904.2" r="1" class="c5"/>
<circle cx="1096.42" cy="904.2" r="1" class="c5"/>
<circle cx="1096.88" cy="904.2" r="1" class="c5"/>
<circle cx="1097.34" cy="904.2" r="1" class="c5"/>
<circle cx="1097.79" cy="904.2" r="1" class="c5"/>
<circle cx="1098.25" cy="904.2" r="1" class="c5"/>
<circle cx="1098.71" cy="904.2" r="1" class="c5"/>
<circle cx="1099.16" cy="904.2" r="1" class="c5"/>
<circle cx="1099.62" cy="904.2" r="1" class="c5"/>
<circle cx="1100.08" cy="904.2" r="1" class="c5"/>
<circle cx="1100.53" cy="904.2" r="1" class="c5"/>
<circle cx="1100.99" cy="904.2" r="1" class="c5"/>
<circle cx="1101.45" cy="904.2" r="1" class="c5"/>
<circle cx="1101.91" cy="904.2" r="1" class="c5"/>
<circle cx="1102.36" cy="904.2" r="1" class="c5"/>
<circle cx="1102.82" cy="904.2" r="1" class="c5"/>
<circle cx="1103.28" cy="904.2" r="1" class="c5"/>
<circle cx="1103.73" cy="904.2" r="1" class="c5"/>
<circle cx="1104.19" cy="904.2" r="1" class="c5"/>
<circle cx="1104.65" cy="904.2" r="1" class="c5"/>
<circle cx="1105.1" cy="904.2" r="1" class="c5"/>
<circle cx="1105.56" cy="904.2" r="1" class="c5"/>
<circle cx="1106.02" cy="904.2" r="1" class="c5"/>
<circle cx="1106.48" cy="904.2" r="1" class="c5"/>
<circle cx="1106.93" cy="904.2" r="1" class="c5"/>
<circle cx="1107.39" cy="904.2" r="1" class="c5"/>
<circle cx="1107.85" cy="904.2" r="1" class="c5"/>
<circle cx="1108.3" cy="904.2" r="1" class="c5"/>
<circle cx="1108.76" cy="904.2" r="1" class="c5"/>
<circle cx="1109.22" cy="904.2" r="1" class="c5"/>
<circle cx="1109.67" cy="904.2" r="1" class="c5"/>
<circle cx="1110.13" cy="904.2" r="1" class="c5"/>
<circle cx="1110.59" cy="904.2" r="1" class="c5"/>
<circle cx="1111.05" cy="904.2" r="1" class="c5"/>
<circle cx="1111.5" cy="904.2" r="1" class="c5"/>
<circle cx="1111.96" cy="904.2" r="1" class="c5"/>
<circle cx="1112.42" cy="904.2" r="1" class="c5"/>
<circle cx="1112.87" cy="904.2" r="1" class="c5"/>
<circle cx="1113.33" cy="904.2" r="1" class="c5"/>
</g>
</g>
<g id="PathCollection_23">
<g clip-path="url(#p750e85d396)">
<circle cx="1089.59" cy="905.03" r="1" class="c30"/>
<circle cx="1090.05" cy="905.03" r="1" class="c30"/>
<circle cx="1090.51" cy="905.03" r="1" class="c30"/>
<circle cx="1090.96" cy="905.03" r="1" class="c30"/>
<circle cx="1091.42" cy="905.03" r="1" class="c30"/>
<circle cx="1091.88" cy="905.03" r="1" class="c30"/>
<circle cx="1092.34" cy="905.03" r="1" class="c30"/>
<circle cx="1092.79" cy="905.03" r="1" class="c30"/>
<circle cx="1093.25" cy="905.03" r="1" class="c30"/>
<circle cx="1093.71" cy="905.03" r="1" class="c30"/>
<circle cx="1094.16" cy="905.03" r="1" class="c30"/>
<circle cx="1094.62" cy="905.03" r="1" class="c30"/>
<circle cx="1095.08" cy="905.03" r="1" class="c30"/>
<circle cx="1095.53" cy="905.03" r="1" class="c30"/>
<circle cx="1095.99" cy="905.03" r="1" class="c30"/>
<circle cx="1096.45" cy="905.03" r="1" class="c30"/>
<circle cx="1096.91" cy="905.03" r="1" class="c30"/>
<circle cx="1097.36" cy="905.03" r="1" class="c30"/>
<circle cx="1097.82" cy="905.03" r="1" class="c30"/>
<circle cx="1098.28" cy="905.03" r="1" class="c30"/>
<circle cx="1098.73" cy="905.03" r="1" class="c30"/>
<circle cx="1099.19" cy="905.03" r="1" class="c30"/>
<circle cx="1099.65" cy="905.03" r="1" class="c30"/>
<circle cx="1100.1" cy="905.03" r="1" class="c30"/>
<circle cx="1100.56" cy="905.03" r="1" class="c30"/>
<circle cx="1101.02" cy="905.03" r="1" class="c30"/>
<circle cx="1101.48" cy="905.03" r="1" class="c30"/>
<circle cx="1101.93" cy="905.03" r="1" class="c30"/>
<circle cx="1102.39" cy="905.03" r="1" class="c30"/>
<circle cx="1102.85" cy="905.03" r="1" class="c30"/>
<circle cx="1103.3" cy="905.03" r="1" class="c30"/>
<circle cx="1103.76" cy="905.03" r="1" class="c30"/>
<circle cx="1104.22" cy="905.03" r="1" class="c30"/>
<circle cx="1104.67" cy="905.03" r="1" class="c30"/>
<circle cx="1105.13" cy="905.03" r="1" class="c30"/>
<circle cx="1105.59" cy="905.03" r="1" class="c30"/>
<circle cx="1106.05" cy="905.03" r="1" class="c30"/>
<circle cx="1106.5" cy="905.03" r="1" class="c30"/>
<circle cx="1106.96" cy="905.03" r="1" class="c30"/>
<circle cx="1107.42" cy="905.03" r="1" class="c30"/>
<circle cx="1107.87" cy="905.03" r="1" class="c30"/>
<circle cx="1108.33" cy="905.03" r="1" class="c30"/>
<circle cx="1108.79" cy="905.03" r="1" class="c30"/>
<circle cx="1109.24" cy="905.03" r="1" class="c30"/>
<circle cx="1109.7" cy="905.03" r="1" class="c30"/>
<circle cx="1110.16" cy="905.03" r="1" class="c30"/>
<circle cx="1110.62" cy="905.03" r="1" class="c30"/>
<circle cx="1111.07" cy="905.03" r="1" class="c30"/>
<circle cx="1111.53" cy="905.03" r="1" class="c30"/>
<circle cx="1111.99" cy="905.03" r="1" class="c30"/>
</g>
</g>
<g id="matplotlib.axis_13">
<g id="xtick_42">
<g id="line2d_139">
<g>
<path d="M 0 0 L 0 3.5" transform="translate(649.800 1038.600)" class="c7"/>
</g>
</g>
<g id="text_126">
<text class="c8" x="649.8" y="1052.64">0</text>
</g>
</g>
<g id="xtick_43">
<g id="line2d_140">
<g>
<path d="M 0 0 L 0 3.5" transform="translate(739.800 1038.600)" class="c7"/>
</g>
</g>
<g id="text_127">
<text class="c8" x="739.37" y="1052.64">20</text>
</g>
</g>
<g id="xtick_44">
<g id="line2d_141">
<g>
<path d="M 0 0 L 0 3.5" transform="translate(829.080 1038.600)" class="c7"/>
</g>
</g>
<g id="text_128">
<text class="c8" x="828.94" y="1052.64">40</text>
</g>
</g>
<g id="xtick_45">
<g id="line2d_142">
<g>
<path d="M 0 0 L 0 3.5" transform="translate(919.080 1038.600)" class="c7"/>
</g>
</g>
<g id="text_129">
<text class="c8" x="918.51" y="1052.64">60</text>
</g>
</g>
<g id="xtick_46">
<g id="line2d_143">
<g>
<path d="M 0 0 L 0 3.5" transform="translate(1008.360 1038.600)" class="c7"/>
</g>
</g>
<g id="text_130">
<text class="c8" x="1008.08" y="1052.64">80</text>
</g>
</g>
<g id="xtick_47">
<g id="line2d_144">
<g>
<path d="M 0 0 L 0 3.5" transform="translate(1098.360 1038.600)" class="c7"/>
</g>
</g>
<g id="text_131">
<text class="c8" x="1097.66" y="1052.64">100</text>
</g>
</g>
<g id="text_132">
<text class="c8" x="881.11" y="1066.32">Time [s]</text>
</g>
</g>
<g id="matplotlib.axis_14">
<g id="ytick_44">
<g id="line2d_145">
<g>
<path d="M 0 0 L -3.5 0" transform="translate(627.480 1019.160)" class="c7"/>
</g>
</g>
<g id="text_133">
<text class="c9" x="619.9" y="1022.45">−0.15</text>
</g>
</g>
<g id="ytick_45">
<g id="line2d_146">
<g>
<path d="M 0 0 L -3.5 0" transform="translate(627.480 981.000)" class="c7"/>
</g>
</g>
<g id="text_134">
<text class="c9" x="619.9" y="984.42">−0.10</text>
</g>
</g>
<g id="ytick_46">
<g id="line2d_147">
<g>
<path d="M 0 0 L -3.5 0" transform="translate(627.480 942.840)" class="c7"/>
</g>
</g>
<g id="text_135">
<text class="c9" x="619.9" y="946.4">−0.05</text>
</g>
</g>
<g id="ytick_47">
<g id="line2d_148">
<g>
<path d="M 0 0 L -3.5 0" transform="translate(627.480 904.680)" class="c7"/>
</g>
</g>
<g id="text_136">
<text class="c9" x="619.9" y="908.38">0.00</text>
</g>
</g>
<g id="ytick_48">
<g id="line2d_149">
<g>
<path d="M 0 0 L -3.5 0" transform="translate(627.480 867.240)" class="c7"/>
</g>
</g>
<g id="text_137">
<text class="c9" x="619.9" y="870.35">0.05</text>
</g>
</g>
<g id="ytick_49">
<g id="line2d_150">
<g>
<path d="M 0 0 L -3.5 0" transform="translate(627.480 829.080)" class="c7"/>
</g>
</g>
<g id="text_138">
<text class="c9" x="619.9" y="832.33">0.10</text>
</g>
</g>
<g id="ytick_50">
<g id="line2d_151">
<g>
<path d="M 0 0 L -3.5 0" transform="translate(627.480 790.920)" class="c7"/>
</g>
</g>
<g id="text_139">
<text class="c9" x="619.9" y="794.3">0.15</text>
</g>
</g>
<g id="text_140">
<text class="c8" x="583.17" y="900.47" transform="rotate(-90 583.17 900.47)">steer [rad]</text>
</g>
</g>
<g id="line2d_152">
<path d="M 649.8 904.58 L 660.55 904.46 L 673.31 904.04 L 677.12 903.83 L 687.87 904.28 L 711.83 905.29 L 719.22 905.31 L 729.07 904.98 L 749.45 904.27 L 770.94 903.77 L 780.35 903.94 L 794.9 904.51 L 807.44 905.2 L 812.15 905.09 L 821.55 904.48 L 825.36 903.97 L 828.05 903.4 L 829.17 902.48 L 830.06 901.86 L 830.73 901.78 L 831.4 902.01 L 832.08 902.53 L 832.97 903.62 L 834.54 906.25 L 836.11 908.75 L 838.35 911.68 L 839.02 912.29 L 839.69 912.54 L 840.59 912.6 L 841.03 912.22 L 841.48 911.13 L 841.93 909.22 L 842.6 904.48 L 843.72 893.05 L 845.06 876.98 L 850.66 796.58 L 851.56 788.22 L 852.45 782.63 L 852.9 780.96 L 853.35 780.12 L 853.8 779.77 L 854.02 779.75 L 854.25 779.94 L 854.69 781.19 L 855.14 783.92 L 855.59 788.63 L 856.26 799.57 L 857.6 829.58 L 861.86 931.75 L 863.43 963.39 L 864.77 983.49 L 865.67 993.57 L 866.56 1000.95 L 867.46 1005.97 L 868.13 1008.72 L 868.58 1009.76 L 869.7 1010.86 L 870.59 1011.35 L 871.71 1011.51 L 872.16 1012.07 L 873.06 1013.98 L 875.97 1020.89 L 876.64 1021.46 L 877.76 1022.18 L 879.1 1023.43 L 879.55 1023.33 L 880.22 1022.59 L 880.67 1021.7 L 881.12 1019.82 L 881.79 1015.49 L 882.46 1009.08 L 883.36 996.2 L 884.48 975.13 L 886.71 920.62 L 889.63 852.12 L 891.19 824.37 L 892.54 806.26 L 893.43 798.22 L 894.1 794.44 L 894.78 792.4 L 895.22 791.74 L 895.67 791.68 L 896.12 792.05 L 896.57 792.78 L 897.24 794.72 L 897.91 797.53 L 898.58 801.88 L 901.94 825.21 L 902.84 829.45 L 903.51 831.53 L 907.99 841.53 L 908.66 844.24 L 909.33 848.16 L 910 853.73 L 910.9 863.76 L 913.14 893.86 L 916.05 933.97 L 917.17 944.16 L 918.06 950.17 L 918.74 953.09 L 919.63 955.81 L 920.3 956.91 L 921.65 958.29 L 922.54 958.8 L 923.66 959.33 L 924.33 960.05 L 925.45 961.48 L 927.69 962.69 L 931.72 964.58 L 932.62 964.78 L 933.07 964.29 L 933.52 963.28 L 934.19 960.87 L 934.64 958.07 L 935.31 951.64 L 936.65 934.3 L 938.44 905.82 L 940.23 879.41 L 941.35 867.5 L 942.25 860.54 L 942.92 857.1 L 943.82 853.86 L 944.49 852.41 L 945.61 851.31 L 946.28 851.05 L 947.62 851.21 L 948.74 851.67 L 950.09 852.49 L 950.98 853.34 L 951.88 854.61 L 953.22 856.99 L 954.79 859.98 L 955.46 860.48 L 957.03 861.18 L 957.48 861.77 L 958.15 863.25 L 959.04 866.2 L 959.72 869.52 L 960.39 874.9 L 965.76 927.55 L 966.66 932.6 L 967.33 935.19 L 968.22 937.18 L 969.12 938.52 L 970.69 939.67 L 978.08 944.76 L 980.09 945.53 L 980.54 945.45 L 980.99 945.14 L 981.21 944.86 L 981.66 943.42 L 982.33 939.48 L 983.68 929.03 L 984.8 918.46 L 986.59 900.14 L 988.6 884.57 L 990.17 874.27 L 991.07 870.21 L 991.96 867.43 L 992.63 866.14 L 993.3 865.48 L 993.98 865.32 L 994.42 865.53 L 994.87 866.1 L 995.54 867.69 L 996.44 870.68 L 997.56 876.02 L 1001.59 895.49 L 1002.93 900.01 L 1003.83 902.14 L 1004.73 903.49 L 1005.62 904.34 L 1006.52 904.68 L 1008.08 905.03 L 1009.43 904.99 L 1014.35 904.68 L 1058.24 904.56 L 1090.04 904.57 L 1090.04 904.57" clip-path="url(#p750e85d396)" class="c10"/>
</g>
<g id="line2d_153">
<path d="M 649.8 904.58 L 661 904.39 L 676.89 903.88 L 713.84 905.33 L 715.63 905.39 L 721.01 905.25 L 727.28 904.98 L 730.86 904.82 L 738.25 904.54 L 769.82 903.72 L 774.08 903.86 L 775.87 903.85 L 779.68 903.97 L 783.04 904.06 L 787.51 904.2 L 791.1 904.41 L 796.92 904.81 L 805.88 905.25 L 813.71 904.89 L 824.69 903.68 L 825.81 903.36 L 826.7 902.61 L 827.6 901.89 L 828.27 901.72 L 828.94 901.9 L 829.61 902.25 L 830.73 903.6 L 834.32 909.57 L 834.99 910.5 L 835.88 911.57 L 836.33 912.06 L 837 912.6 L 838.35 912.75 L 839.02 912.02 L 839.69 909.57 L 840.14 906.41 L 841.03 897.98 L 842.82 876.01 L 847.98 797.93 L 848.42 792.99 L 848.87 787.79 L 849.32 783.88 L 849.77 780.96 L 850.44 777.49 L 850.89 775.6 L 852.01 773.48 L 852.9 778.2 L 853.35 785 L 854.47 804.84 L 856.48 857.28 L 857.38 882.12 L 858.72 910.29 L 860.96 961.31 L 862.08 979.21 L 863.2 993.2 L 863.43 994.57 L 863.87 999.29 L 864.1 1000.2 L 864.55 1004.08 L 864.77 1005.24 L 865.22 1008.73 L 865.67 1011.73 L 865.89 1013.73 L 866.11 1013.91 L 866.56 1014.56 L 866.79 1014.78 L 867.01 1015.29 L 867.68 1014.19 L 867.9 1014.44 L 868.13 1014.35 L 868.58 1014.72 L 868.8 1014.7 L 869.02 1015.6 L 869.25 1015.51 L 869.47 1016.17 L 869.7 1015.74 L 870.14 1017.42 L 870.37 1017.64 L 870.59 1018.8 L 870.82 1018.73 L 871.04 1019.34 L 871.26 1019.29 L 871.49 1020.55 L 871.71 1020.58 L 871.94 1020.93 L 872.16 1021.65 L 872.38 1021.49 L 872.61 1021.73 L 872.83 1022.83 L 873.06 1023.16 L 873.28 1023.09 L 873.5 1024.86 L 873.73 1025.04 L 874.17 1027.06 L 874.62 1026.91 L 874.85 1026.48 L 875.07 1027.13 L 875.29 1026.12 L 875.52 1026.38 L 875.97 1025.65 L 876.19 1026.59 L 876.41 1026.32 L 876.64 1027.17 L 876.86 1027.08 L 877.09 1027.39 L 877.31 1027.06 L 877.53 1027.15 L 877.76 1026.45 L 877.98 1026.39 L 878.21 1026.62 L 878.43 1026.04 L 879.1 1022.31 L 880.22 1010.99 L 881.12 997.3 L 883.8 938.73 L 887.83 842.37 L 888.51 830.84 L 889.18 818.17 L 889.63 812.41 L 890.07 805.08 L 891.19 793.67 L 891.64 792.83 L 892.09 790.27 L 892.76 788.8 L 893.21 788.01 L 893.88 789.38 L 894.1 789.71 L 894.33 790.69 L 894.55 790.7 L 894.78 792.08 L 895.22 792.71 L 895.45 793.14 L 897.24 805.27 L 900.15 824.42 L 900.6 826.36 L 900.82 826.88 L 901.27 828.65 L 901.49 828.87 L 901.72 830.17 L 901.94 830.47 L 902.17 831.73 L 902.39 831.79 L 903.51 836.4 L 903.73 836.78 L 903.96 836.5 L 904.41 837.69 L 904.63 838.06 L 904.85 838.93 L 905.3 839.19 L 905.75 840.93 L 906.2 842.47 L 906.64 843.85 L 907.54 849.89 L 908.88 865.65 L 909.33 872.57 L 910.23 882.22 L 911.35 899.7 L 913.14 926.92 L 914.26 940.07 L 914.93 945.86 L 915.38 949.15 L 915.6 949.8 L 916.05 954.12 L 917.39 960.22 L 918.29 959.91 L 918.51 959.36 L 918.74 959.27 L 919.18 959.86 L 919.41 959.61 L 919.86 959.88 L 920.3 960.47 L 920.53 960.5 L 920.75 960.9 L 920.98 960.88 L 921.2 961.49 L 921.42 961.36 L 921.87 962.38 L 922.32 963.19 L 922.54 962.66 L 922.77 963 L 922.99 963.02 L 923.22 963.49 L 923.44 963.09 L 923.66 963.44 L 923.89 963.39 L 924.56 964.61 L 924.78 964.61 L 925.01 965.11 L 925.23 964.93 L 925.45 965.22 L 925.9 964.88 L 927.02 966.67 L 927.25 965.8 L 927.47 965.9 L 927.69 966.74 L 928.37 965.31 L 928.59 964.69 L 929.04 966.33 L 929.26 967.24 L 929.71 966.37 L 929.93 967.38 L 930.16 967.21 L 930.38 967.66 L 931.05 965.49 L 931.28 963.94 L 931.5 964.19 L 933.07 954.02 L 935.31 922.01 L 936.43 902.55 L 937.77 882.3 L 938.89 868.57 L 939.56 862.16 L 939.79 862.07 L 940.23 858.93 L 940.68 857.04 L 940.91 854.97 L 941.13 854.81 L 941.8 850.39 L 942.03 850.02 L 942.25 850.08 L 942.47 849.11 L 942.7 849.19 L 942.92 848.48 L 943.59 849.26 L 944.04 849.22 L 944.71 850.99 L 945.16 850.21 L 945.61 850.42 L 946.06 849.95 L 946.28 850.59 L 946.5 850.18 L 946.73 850.33 L 946.95 850.14 L 947.18 850.18 L 947.4 849.82 L 947.62 850.1 L 948.3 852.04 L 948.52 852.15 L 949.19 853.84 L 949.41 853.85 L 949.64 852.94 L 949.86 852.86 L 950.09 851.94 L 950.31 852.27 L 950.53 851.94 L 950.76 852.34 L 952.33 858.35 L 952.55 858.96 L 953.22 858.84 L 953.67 857.96 L 954.12 858.18 L 954.57 858.03 L 955.01 859.71 L 955.24 859.68 L 955.91 861.73 L 956.13 861.97 L 956.58 864.94 L 956.8 865.97 L 957.25 869.06 L 958.15 875.67 L 960.84 901.82 L 961.95 913.84 L 963.3 926.84 L 964.19 932.7 L 965.09 935.57 L 965.76 937.19 L 965.99 937.41 L 966.43 939.19 L 966.88 939.93 L 967.33 940.32 L 968 942.51 L 968.22 942.76 L 968.67 942.23 L 968.9 942.69 L 969.12 942.65 L 969.34 941.74 L 970.02 940.88 L 970.46 942.67 L 970.69 941.82 L 971.14 942.36 L 971.58 941.32 L 971.81 942.35 L 972.03 942.09 L 972.26 942.1 L 973.38 944.51 L 973.6 944.39 L 973.82 944.86 L 974.05 944.88 L 974.27 945.24 L 974.49 946.04 L 974.72 945.67 L 974.94 946.37 L 975.17 945.54 L 975.61 945.98 L 975.84 945.72 L 976.29 946.07 L 976.51 946.95 L 976.73 946.39 L 976.96 947.18 L 977.18 946.68 L 977.41 946.65 L 977.63 947.41 L 977.85 947.18 L 978.08 946.13 L 978.3 945.82 L 978.53 944.44 L 978.75 944.56 L 978.97 944.11 L 979.87 939.28 L 980.09 936.92 L 980.32 937.62 L 980.76 934.41 L 980.99 933.57 L 981.88 926.79 L 982.33 921.88 L 983.9 904.66 L 984.57 898.19 L 988.15 871.55 L 989.05 868.01 L 989.27 868.09 L 989.95 866.05 L 990.17 865.83 L 990.62 864.39 L 990.84 864.77 L 991.07 863.83 L 991.29 863.7 L 991.74 864.73 L 991.96 864.09 L 992.19 863.93 L 992.41 864.76 L 992.63 864.43 L 993.08 864.94 L 993.3 864.64 L 993.98 867.99 L 994.2 867.97 L 995.99 879.23 L 996.44 881.11 L 996.89 884.24 L 997.78 888.46 L 998.23 890.77 L 998.68 891.8 L 999.13 893.7 L 1000.02 897.34 L 1001.14 900.83 L 1002.49 903.35 L 1003.16 904.26 L 1003.61 904.53 L 1006.07 905.06 L 1007.86 904.93 L 1014.58 904.66 L 1090.04 904.58 L 1090.04 904.58" clip-path="url(#p750e85d396)" class="c31"/>
</g>
<g id="line2d_154">
<path d="M 649.8 904.58 L 846.41 904.58 L 847.08 843.93 L 847.53 800.62 L 859.17 800.62 L 859.62 826.1 L 862.31 1007.62 L 885.82 1007.62 L 886.04 1001.15 L 888.95 800.62 L 901.05 800.62 L 901.94 851.95 L 913.59 851.95 L 913.81 860.63 L 914.93 956.14 L 938.22 956.14 L 938.44 950.93 L 939.34 851.95 L 951.21 851.95 L 951.65 869.44 L 963.3 869.44 L 963.52 881.04 L 963.97 939.03 L 986.14 939.03 L 987.93 869.44 L 999.8 869.44 L 1000.25 904.58 L 1090.04 904.58 L 1090.04 904.58" clip-path="url(#p750e85d396)" class="c27"/>
</g>
<g id="line2d_155">
<path d="M 649.8 904.58 L 660.55 904.69 L 673.31 905.11 L 677.12 905.32 L 687.87 904.87 L 711.83 903.86 L 719.22 903.84 L 729.07 904.17 L 749.45 904.88 L 770.94 905.38 L 780.35 905.21 L 794.9 904.64 L 807.44 903.95 L 812.15 904.06 L 821.55 904.67 L 825.36 905.18 L 828.05 905.75 L 829.17 906.67 L 830.06 907.29 L 830.73 907.37 L 831.4 907.14 L 832.08 906.62 L 832.97 905.53 L 834.54 902.9 L 836.11 900.4 L 838.35 897.47 L 839.02 896.86 L 839.69 896.62 L 840.59 896.55 L 841.03 896.93 L 841.48 898.02 L 841.93 899.93 L 842.6 904.67 L 843.72 916.1 L 845.06 932.17 L 846.41 952.24 L 847.08 901.73 L 847.53 865.17 L 849.99 900.55 L 851.33 915.2 L 852.23 921.36 L 852.9 924.23 L 853.35 925.07 L 853.8 925.42 L 854.02 925.44 L 854.25 925.25 L 854.69 924.01 L 855.14 921.27 L 855.59 916.57 L 856.26 905.62 L 857.6 875.62 L 859.17 833.13 L 859.4 837.25 L 862.08 969.13 L 862.31 970.66 L 863.65 945.08 L 864.99 925.9 L 865.89 916.57 L 866.79 909.78 L 867.68 905.2 L 868.35 902.85 L 868.8 902.17 L 869.92 901.17 L 870.59 900.85 L 871.71 900.69 L 872.16 900.12 L 873.06 898.21 L 875.97 891.31 L 876.64 890.73 L 877.76 890.02 L 879.1 888.77 L 879.55 888.87 L 880.22 889.61 L 880.67 890.5 L 881.12 892.38 L 881.79 896.7 L 882.46 903.12 L 883.36 915.99 L 884.48 937.07 L 885.82 969.63 L 886.04 968.64 L 888.73 840.41 L 888.95 838.92 L 890.3 865.79 L 891.64 887.47 L 892.76 901.3 L 893.66 908.44 L 894.33 911.62 L 895 913.19 L 895.45 913.56 L 895.9 913.37 L 896.34 912.83 L 896.79 911.87 L 897.46 909.67 L 898.14 906.4 L 899.93 893.6 L 901.05 885.36 L 901.72 932.58 L 901.94 931.31 L 902.84 927.08 L 903.51 924.99 L 907.99 914.99 L 908.66 912.29 L 909.33 908.37 L 910 902.8 L 910.9 892.76 L 913.14 862.67 L 913.59 856.18 L 913.81 861.47 L 914.93 940.38 L 916.27 924.43 L 917.39 914.86 L 918.29 909.41 L 919.18 906.11 L 919.86 904.44 L 920.53 903.54 L 921.65 902.43 L 922.54 901.92 L 923.66 901.39 L 924.33 900.66 L 925.45 899.23 L 927.69 898.02 L 931.72 896.13 L 932.62 895.93 L 933.07 896.42 L 933.52 897.43 L 934.19 899.84 L 934.64 902.65 L 935.31 909.08 L 936.65 926.42 L 938.22 951.33 L 938.44 949.68 L 939.34 864.47 L 940.68 882.37 L 941.8 892.81 L 942.7 898.45 L 943.59 901.97 L 944.26 903.74 L 944.94 904.62 L 945.83 905.35 L 946.5 905.47 L 947.85 905.24 L 949.19 904.62 L 950.31 903.85 L 951.21 902.91 L 951.65 919.76 L 953 917.48 L 954.79 914.03 L 955.46 913.54 L 957.03 912.84 L 957.48 912.24 L 958.15 910.77 L 959.04 907.82 L 959.72 904.5 L 960.39 899.12 L 963.3 869.94 L 963.52 879.23 L 963.97 932.44 L 965.31 919.21 L 966.21 913.32 L 967.11 909.15 L 967.78 907.32 L 968.9 905.34 L 969.57 904.73 L 978.08 898.84 L 980.09 898.07 L 980.54 898.15 L 980.99 898.46 L 981.21 898.74 L 981.66 900.18 L 982.33 904.12 L 983.68 914.57 L 984.8 925.14 L 986.14 939.65 L 987.93 884.47 L 989.72 897.09 L 990.62 901.96 L 991.51 905.34 L 992.19 907.1 L 992.86 908.16 L 993.53 908.64 L 993.98 908.7 L 994.42 908.49 L 994.87 907.91 L 995.54 906.32 L 996.44 903.34 L 997.56 898 L 999.8 886.78 L 1000.25 919.67 L 1001.59 913.66 L 1002.93 909.14 L 1003.83 907.01 L 1004.73 905.66 L 1005.62 904.81 L 1006.52 904.47 L 1008.08 904.12 L 1009.43 904.16 L 1014.35 904.47 L 1058.24 904.59 L 1090.04 904.58 L 1090.04 904.58" clip-path="url(#p750e85d396)" class="c28"/>
</g>
<g id="line2d_156">
<path d="M 649.8 904.58 L 1090.04 904.58 L 1090.04 904.58" clip-path="url(#p750e85d396)" class="c29"/>
</g>
<g id="patch_39">
<path d="M 627.480 1038.600 L 627.480 763.560" class="c11"/>
</g>
<g id="patch_40">
<path d="M 1135.800 1038.600 L 1135.800 763.560" class="c11"/>
</g>
<g id="patch_41">
<path d="M 627.480 1038.600 L 1135.800 1038.600" class="c11"/>
</g>
<g id="patch_42">
<path d="M 627.480 763.560 L 1135.800 763.560" class="c11"/>
</g>
<g id="text_141">
<text class="c23" transform="translate(737.43 742.03)">abs_max(steer_error) = 0.10343837913233171</text>
<text class="c23" transform="translate(688.03 757.55)">abs_max(steer_error[straight_line]) = 0.0003752856943011477</text>
</g>
<g id="legend_7">
<g id="patch_43">
<path d="M 633.9 877.46 L 772.14 877.46 Q 774.14 877.46 774.14 875.46 L 774.14 770.55 Q 774.14 768.55 772.14 768.55 L 633.9 768.55 Q 631.9 768.55 631.9 770.55 L 631.9 875.46 Q 631.9 877.46 633.9 877.46 z" class="c12"/>
</g>
<g id="line2d_157">
<path d="M 635.9 776 L 645.9 776 L 655.9 776" class="c10"/>
</g>
<g id="text_142">
<text class="c13" x="663.9" y="779.5">steer</text>
</g>
<g id="line2d_158">
<path d="M 635.9 790.93 L 645.9 790.93 L 655.9 790.93" class="c31"/>
</g>
<g id="text_143">
<text class="c13" x="663.9" y="794.43">steer_input</text>
</g>
<g id="line2d_159">
<path d="M 635.9 806.13 L 645.9 806.13 L 655.9 806.13" class="c27"/>
</g>
<g id="text_144">
<text class="c13" x="663.9" y="809.63">steer_mpc_target</text>
</g>
<g id="line2d_160">
<path d="M 635.9 821.34 L 645.9 821.34 L 655.9 821.34" class="c28"/>
</g>
<g id="text_145">
<text class="c13" x="663.9" y="824.84">steer_error</text>
</g>
<g id="PathCollection_24">
<g>
<circle cx="645.9" cy="838.42" r="1" class="c6"/>
</g>
</g>
<g id="text_146">
<text class="c13" x="663.9" y="840.04">steer_true_prediction</text>
</g>
<g id="PathCollection_25">
<g>
<circle cx="645.9" cy="853.62" r="1" class="c5"/>
</g>
</g>
<g id="text_147">
<text class="c13" x="663.9" y="855.25">steer_prediction_ilqr</text>
</g>
<g id="PathCollection_26">
<g>
<circle cx="645.9" cy="868.83" r="1" class="c30"/>
</g>
</g>
<g id="text_148">
<text class="c13" x="663.9" y="870.46">steer_input_schedule</text>
</g>
</g>
</g>
<g id="text_149">
<text class="c32" x="864" y="30.72">control_using_trained_model: perturbed_sim: {'wheel_base': 2.79}, nominal_model: {'wheel_base': 2.0}</text>
</g>
</g>
<defs>
<clipPath id="p736fa068e5">
<rect x="56.09" y="66" width="508.42" height="275.14"/>
</clipPath>
<clipPath id="p2c6ad5312e">
<rect x="626.9" y="66" width="508.42" height="275.14"/>
</clipPath>
<clipPath id="p35f3541ee9">
<rect x="1197.71" y="66" width="508.42" height="275.14"/>
</clipPath>
<clipPath id="p67c02ab20f">
<rect x="56.09" y="414.45" width="508.42" height="275.14"/>
</clipPath>
<clipPath id="p92c7e84fdc">
<rect x="626.9" y="414.45" width="508.42" height="275.14"/>
</clipPath>
<clipPath id="pe7cffac692">
<rect x="56.09" y="762.9" width="508.42" height="275.14"/>
</clipPath>
<clipPath id="p750e85d396">
<rect x="626.9" y="762.9" width="508.42" height="275.14"/>
</clipPath>
</defs>
</svg>

</body></html>
